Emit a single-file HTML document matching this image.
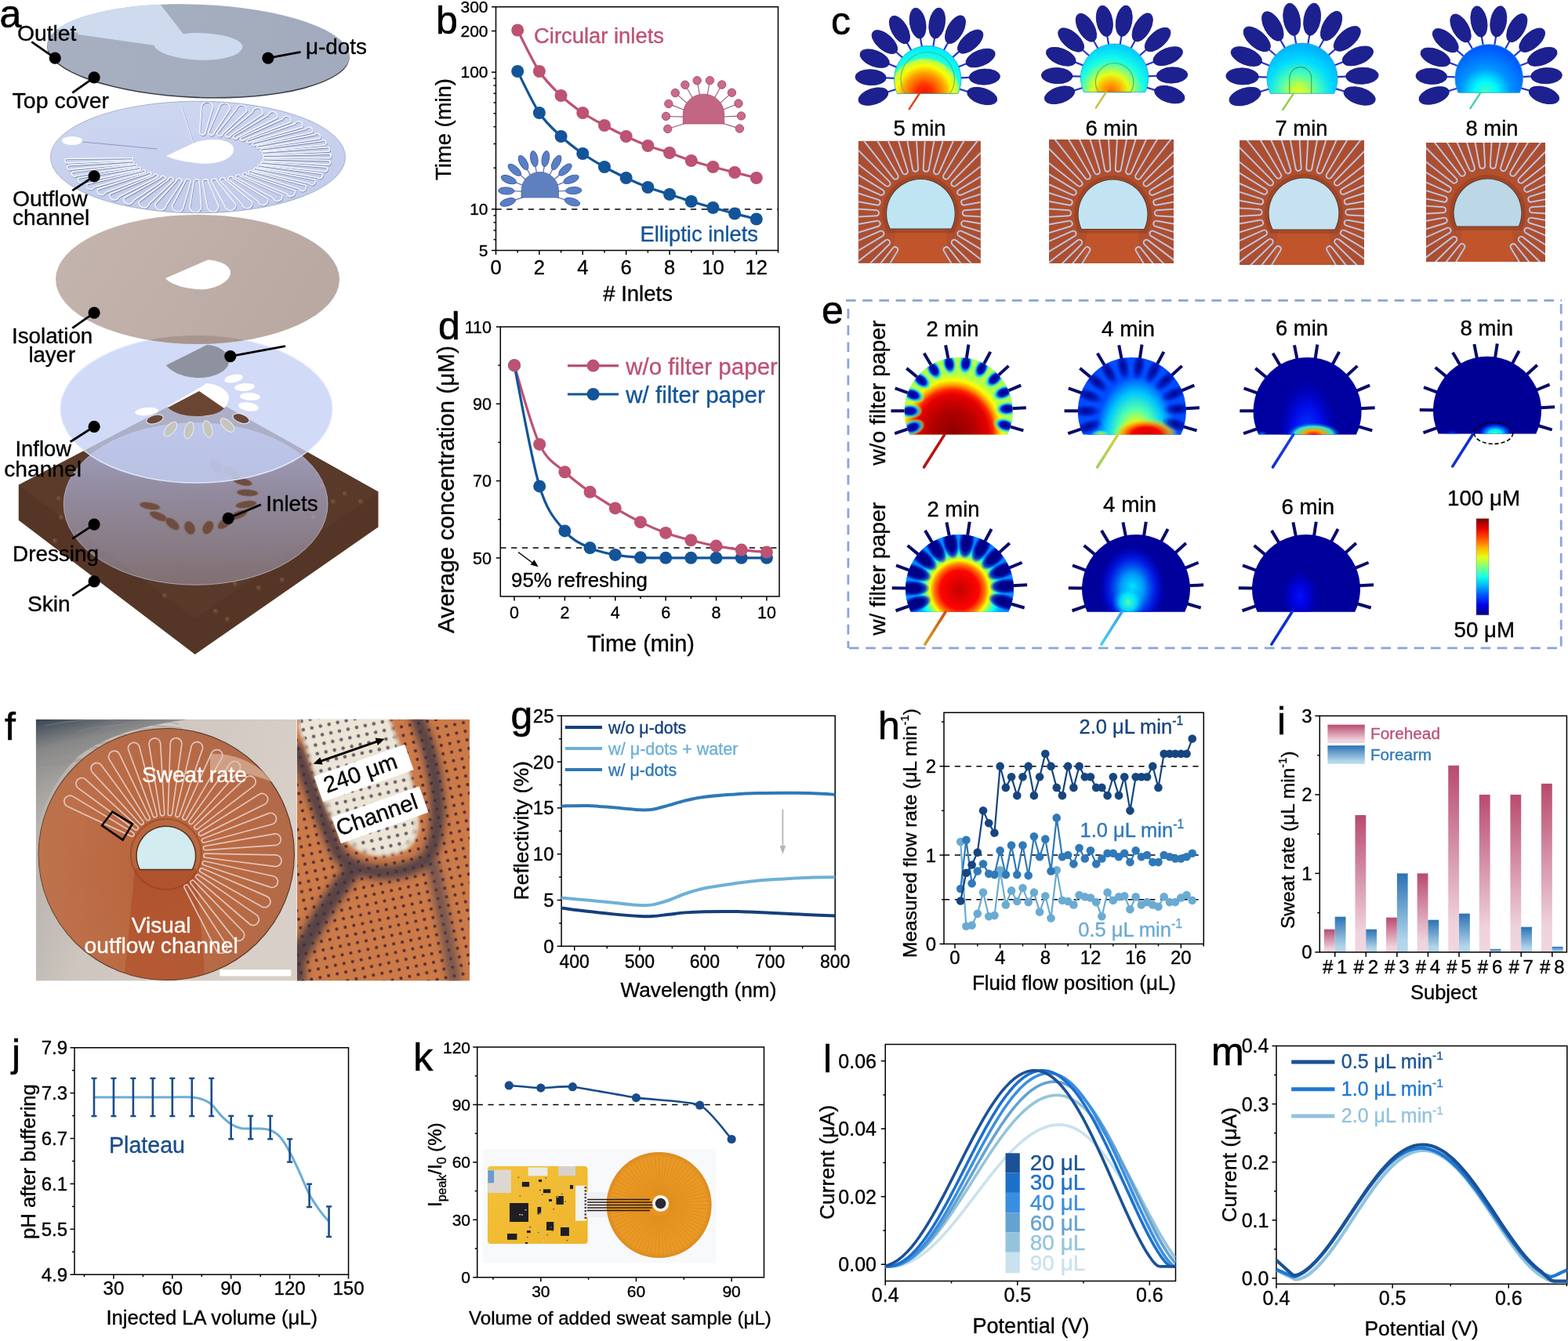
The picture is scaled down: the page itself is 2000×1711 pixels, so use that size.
<!DOCTYPE html>
<html><head><meta charset="utf-8"><style>
html,body{margin:0;padding:0;background:#fff;overflow:hidden;}
svg{display:block;}
text{font-family:'Liberation Sans', Arial, Helvetica, sans-serif;}
</style></head><body>
<svg width="2000" height="1711" viewBox="0 0 2000 1711">
<rect width="2000" height="1711" fill="#fff"/>
<line x1="920.45" y1="157.02" x2="939.58" y2="162.86" stroke="#9a5a78" stroke-width="1.1" /><circle cx="943.4" cy="164.03" r="5.2" fill="#cc6a8a" stroke="#9a4a6a" stroke-width="0.9"/><line x1="921.48" y1="148.95" x2="941.46" y2="148.08" stroke="#9a5a78" stroke-width="1.1" /><circle cx="945.45" cy="147.91" r="5.2" fill="#cc6a8a" stroke="#9a4a6a" stroke-width="0.9"/><line x1="919.75" y1="141.01" x2="938.3" y2="133.52" stroke="#9a5a78" stroke-width="1.1" /><circle cx="942" cy="132.02" r="5.2" fill="#cc6a8a" stroke="#9a4a6a" stroke-width="0.9"/><line x1="915.47" y1="134.1" x2="930.45" y2="120.84" stroke="#9a5a78" stroke-width="1.1" /><circle cx="933.45" cy="118.19" r="5.2" fill="#cc6a8a" stroke="#9a4a6a" stroke-width="0.9"/><line x1="909.14" y1="129.01" x2="918.83" y2="111.52" stroke="#9a5a78" stroke-width="1.1" /><circle cx="920.77" cy="108.02" r="5.2" fill="#cc6a8a" stroke="#9a4a6a" stroke-width="0.9"/><line x1="901.46" y1="126.33" x2="904.76" y2="106.6" stroke="#9a5a78" stroke-width="1.1" /><circle cx="905.42" cy="102.66" r="5.2" fill="#cc6a8a" stroke="#9a4a6a" stroke-width="0.9"/><line x1="893.33" y1="126.36" x2="889.86" y2="106.67" stroke="#9a5a78" stroke-width="1.1" /><circle cx="889.16" cy="102.73" r="5.2" fill="#cc6a8a" stroke="#9a4a6a" stroke-width="0.9"/><line x1="885.68" y1="129.11" x2="875.83" y2="111.7" stroke="#9a5a78" stroke-width="1.1" /><circle cx="873.86" cy="108.22" r="5.2" fill="#cc6a8a" stroke="#9a4a6a" stroke-width="0.9"/><line x1="879.39" y1="134.25" x2="864.29" y2="121.13" stroke="#9a5a78" stroke-width="1.1" /><circle cx="861.27" cy="118.51" r="5.2" fill="#cc6a8a" stroke="#9a4a6a" stroke-width="0.9"/><line x1="875.17" y1="141.2" x2="856.56" y2="133.87" stroke="#9a5a78" stroke-width="1.1" /><circle cx="852.84" cy="132.41" r="5.2" fill="#cc6a8a" stroke="#9a4a6a" stroke-width="0.9"/><line x1="873.51" y1="149.16" x2="853.53" y2="148.46" stroke="#9a5a78" stroke-width="1.1" /><circle cx="849.53" cy="148.32" r="5.2" fill="#cc6a8a" stroke="#9a4a6a" stroke-width="0.9"/><line x1="874.61" y1="157.22" x2="855.54" y2="163.23" stroke="#9a5a78" stroke-width="1.1" /><circle cx="851.72" cy="164.43" r="5.2" fill="#cc6a8a" stroke="#9a4a6a" stroke-width="0.9"/>
<path d="M871.25,158 L871.25,146.25 A26.25,26.25 0 0 1 923.75,146.25 L923.75,158 Z" fill="#c26683" stroke="#a85070" stroke-width="0.8"/>
<line x1="709.79" y1="251.43" x2="721.26" y2="254.94" stroke="#4a5a90" stroke-width="1.1" /><ellipse cx="729.87" cy="257.57" rx="10.2" ry="4.6" fill="#5a80c4" stroke="#3c5aa8" stroke-width="0.9" transform="rotate(17 729.87 257.57)"/><line x1="710.73" y1="244.04" x2="722.72" y2="243.52" stroke="#4a5a90" stroke-width="1.1" /><ellipse cx="731.71" cy="243.12" rx="10.2" ry="4.6" fill="#5a80c4" stroke="#3c5aa8" stroke-width="0.9" transform="rotate(-2.5 731.71 243.12)"/><line x1="709.15" y1="236.76" x2="720.27" y2="232.26" stroke="#4a5a90" stroke-width="1.1" /><ellipse cx="728.62" cy="228.89" rx="10.2" ry="4.6" fill="#5a80c4" stroke="#3c5aa8" stroke-width="0.9" transform="rotate(-22 728.62 228.89)"/><line x1="705.23" y1="230.42" x2="714.21" y2="222.47" stroke="#4a5a90" stroke-width="1.1" /><ellipse cx="720.96" cy="216.51" rx="10.2" ry="4.6" fill="#5a80c4" stroke="#3c5aa8" stroke-width="0.9" transform="rotate(-41.5 720.96 216.51)"/><line x1="699.42" y1="225.76" x2="705.23" y2="215.26" stroke="#4a5a90" stroke-width="1.1" /><ellipse cx="709.6" cy="207.39" rx="10.2" ry="4.6" fill="#5a80c4" stroke="#3c5aa8" stroke-width="0.9" transform="rotate(-61 709.6 207.39)"/><line x1="692.38" y1="223.3" x2="694.36" y2="211.47" stroke="#4a5a90" stroke-width="1.1" /><ellipse cx="695.85" cy="202.59" rx="10.2" ry="4.6" fill="#5a80c4" stroke="#3c5aa8" stroke-width="0.9" transform="rotate(-80.5 695.85 202.59)"/><line x1="684.93" y1="223.33" x2="682.85" y2="211.52" stroke="#4a5a90" stroke-width="1.1" /><ellipse cx="681.28" cy="202.65" rx="10.2" ry="4.6" fill="#5a80c4" stroke="#3c5aa8" stroke-width="0.9" transform="rotate(-100 681.28 202.65)"/><line x1="677.92" y1="225.85" x2="672.01" y2="215.41" stroke="#4a5a90" stroke-width="1.1" /><ellipse cx="667.58" cy="207.57" rx="10.2" ry="4.6" fill="#5a80c4" stroke="#3c5aa8" stroke-width="0.9" transform="rotate(-119.5 667.58 207.57)"/><line x1="672.15" y1="230.57" x2="663.09" y2="222.69" stroke="#4a5a90" stroke-width="1.1" /><ellipse cx="656.3" cy="216.79" rx="10.2" ry="4.6" fill="#5a80c4" stroke="#3c5aa8" stroke-width="0.9" transform="rotate(-139 656.3 216.79)"/><line x1="668.28" y1="236.94" x2="657.12" y2="232.54" stroke="#4a5a90" stroke-width="1.1" /><ellipse cx="648.74" cy="229.24" rx="10.2" ry="4.6" fill="#5a80c4" stroke="#3c5aa8" stroke-width="0.9" transform="rotate(-158.5 648.74 229.24)"/><line x1="666.76" y1="244.23" x2="654.77" y2="243.81" stroke="#4a5a90" stroke-width="1.1" /><ellipse cx="645.78" cy="243.5" rx="10.2" ry="4.6" fill="#5a80c4" stroke="#3c5aa8" stroke-width="0.9" transform="rotate(-178 645.78 243.5)"/><line x1="667.77" y1="251.62" x2="656.32" y2="255.22" stroke="#4a5a90" stroke-width="1.1" /><ellipse cx="647.74" cy="257.93" rx="10.2" ry="4.6" fill="#5a80c4" stroke="#3c5aa8" stroke-width="0.9" transform="rotate(-197.5 647.74 257.93)"/>
<path d="M665.0,252 L665.0,243.25 A23.75,23.75 0 0 1 712.5,243.25 L712.5,252 Z" fill="#5f80bf" stroke="#4a68a8" stroke-width="0.8"/>
<rect x="615.7" y="1466" width="297.7" height="145.6" fill="#f8f9fb" />
<defs><linearGradient id="pcbG" x1="0" y1="0" x2="1" y2="1"><stop offset="0" stop-color="#f4c23a"/><stop offset="1" stop-color="#eeb42c"/></linearGradient><radialGradient id="kdisc" cx="0.5" cy="0.5" r="0.5"><stop offset="0" stop-color="#e8941e"/><stop offset="0.9" stop-color="#e99a26"/><stop offset="1" stop-color="#dc8a1e"/></radialGradient></defs>
<rect x="622" y="1488" width="127.6" height="99" rx="4" fill="url(#pcbG)"/>
<rect x="622.4" y="1492.6" width="29.5" height="29.4" fill="#dcd8d0" />
<rect x="622.4" y="1493.3" width="7.7" height="16" fill="#6a9ad0" />
<rect x="673.6" y="1489.5" width="24.8" height="10.8" fill="#ecebe6" />
<rect x="712.3" y="1488" width="21.7" height="12" fill="#d6d2ca" />
<rect x="650" y="1535" width="24" height="24" fill="#1e1e24" />
<rect x="665.8" y="1508" width="9.3" height="6.2" fill="#1e1e24" />
<rect x="692.9" y="1517.4" width="9.3" height="4.7" fill="#1e1e24" />
<rect x="709.5" y="1526" width="9.3" height="10.9" fill="#1e1e24" />
<rect x="685.5" y="1540" width="4.7" height="9.3" fill="#1e1e24" />
<rect x="697" y="1559" width="9.3" height="10.9" fill="#1e1e24" />
<rect x="715" y="1566" width="10.9" height="10.9" fill="#1e1e24" />
<rect x="647" y="1574" width="12.4" height="7.8" fill="#1e1e24" />
<rect x="672" y="1570" width="4.7" height="3.1" fill="#1e1e24" />
<rect x="687" y="1505" width="4" height="3" fill="#1e1e24" />
<rect x="700" y="1530" width="4" height="3" fill="#1e1e24" />
<rect x="727" y="1512" width="4" height="5" fill="#1e1e24" />
<rect x="670" y="1585" width="3" height="2" fill="#1e1e24" />
<rect x="690.29" y="1547.02" width="2.2" height="1.4" fill="#d8c8a0" />
<rect x="690.24" y="1571.82" width="2.2" height="1.4" fill="#c8b89a" />
<rect x="669.4" y="1543" width="2.2" height="1.4" fill="#c8b89a" />
<rect x="662.34" y="1525.49" width="2.2" height="1.4" fill="#8a7040" />
<rect x="697.02" y="1574.79" width="2.2" height="1.4" fill="#8a7040" />
<rect x="701.44" y="1533.28" width="2.2" height="1.4" fill="#d8c8a0" />
<rect x="706.01" y="1551.71" width="2.2" height="1.4" fill="#c8b89a" />
<rect x="703.6" y="1569.86" width="2.2" height="1.4" fill="#8a7040" />
<rect x="659.64" y="1515.98" width="2.2" height="1.4" fill="#c8b89a" />
<rect x="701.77" y="1565.36" width="2.2" height="1.4" fill="#6a5a40" />
<rect x="689.36" y="1570.76" width="2.2" height="1.4" fill="#c8b89a" />
<rect x="704.94" y="1541.98" width="2.2" height="1.4" fill="#8a7040" />
<rect x="690.67" y="1523.37" width="2.2" height="1.4" fill="#8a7040" />
<rect x="710.21" y="1526.48" width="2.2" height="1.4" fill="#c8b89a" />
<rect x="695.01" y="1502.5" width="2.2" height="1.4" fill="#8a7040" />
<rect x="686.23" y="1571.11" width="2.2" height="1.4" fill="#d8c8a0" />
<rect x="660.21" y="1501.42" width="2.2" height="1.4" fill="#8a7040" />
<rect x="671.65" y="1577.87" width="2.2" height="1.4" fill="#8a7040" />
<rect x="691.66" y="1582.35" width="2.2" height="1.4" fill="#d8c8a0" />
<rect x="687.74" y="1547.56" width="2.2" height="1.4" fill="#c8b89a" />
<rect x="715.72" y="1522.66" width="2.2" height="1.4" fill="#8a7040" />
<rect x="679.27" y="1501.27" width="2.2" height="1.4" fill="#d8c8a0" />
<rect x="714.13" y="1509.91" width="2.2" height="1.4" fill="#c8b89a" />
<rect x="710.15" y="1500.92" width="2.2" height="1.4" fill="#d8c8a0" />
<rect x="717.17" y="1514.92" width="2.2" height="1.4" fill="#c8b89a" />
<rect x="689.9" y="1516.02" width="2.2" height="1.4" fill="#c8b89a" />
<rect x="687.7" y="1532.24" width="2.2" height="1.4" fill="#d8c8a0" />
<rect x="687.82" y="1517.88" width="2.2" height="1.4" fill="#6a5a40" />
<rect x="722.42" y="1581.89" width="2.2" height="1.4" fill="#6a5a40" />
<rect x="732.84" y="1501.65" width="2.2" height="1.4" fill="#c8b89a" />
<rect x="685.75" y="1571.77" width="2.2" height="1.4" fill="#8a7040" />
<rect x="658.28" y="1512.29" width="2.2" height="1.4" fill="#d8c8a0" />
<rect x="675.15" y="1564.91" width="2.2" height="1.4" fill="#6a5a40" />
<rect x="719.76" y="1532.44" width="2.2" height="1.4" fill="#8a7040" />
<rect x="662.03" y="1548.95" width="2.2" height="1.4" fill="#c8b89a" />
<rect x="656.21" y="1530.97" width="2.2" height="1.4" fill="#d8c8a0" />
<rect x="664.92" y="1549.33" width="2.2" height="1.4" fill="#c8b89a" />
<rect x="722.59" y="1515.36" width="2.2" height="1.4" fill="#c8b89a" />
<rect x="679.24" y="1519.18" width="2.2" height="1.4" fill="#c8b89a" />
<rect x="711.58" y="1513.31" width="2.2" height="1.4" fill="#c8b89a" />
<rect x="734" y="1512.7" width="14" height="45" fill="#f2f2f0" />
<rect x="745.5" y="1514" width="2.5" height="2.2" fill="#404040" />
<rect x="745.5" y="1518.3" width="2.5" height="2.2" fill="#404040" />
<rect x="745.5" y="1522.6" width="2.5" height="2.2" fill="#404040" />
<rect x="745.5" y="1526.9" width="2.5" height="2.2" fill="#404040" />
<rect x="745.5" y="1531.2" width="2.5" height="2.2" fill="#404040" />
<rect x="745.5" y="1535.5" width="2.5" height="2.2" fill="#404040" />
<rect x="745.5" y="1539.8" width="2.5" height="2.2" fill="#404040" />
<rect x="745.5" y="1544.1" width="2.5" height="2.2" fill="#404040" />
<rect x="745.5" y="1548.4" width="2.5" height="2.2" fill="#404040" />
<rect x="745.5" y="1552.7" width="2.5" height="2.2" fill="#404040" />
<rect x="748" y="1521" width="62" height="32" fill="#eef1f6" />
<ellipse cx="840.6" cy="1537.5" rx="67" ry="67.6" fill="url(#kdisc)"/>
<path d="M854.6,1537.5 L904.6,1537.5 M854.55,1538.72 L904.36,1543.08 M854.39,1539.93 L903.63,1548.61 M854.12,1541.12 L902.42,1554.06 M853.76,1542.29 L900.74,1559.39 M853.29,1543.42 L898.6,1564.55 M852.72,1544.5 L896.03,1569.5 M852.07,1545.53 L893.03,1574.21 M851.32,1546.5 L889.63,1578.64 M850.5,1547.4 L885.85,1582.75 M849.6,1548.22 L881.74,1586.53 M848.63,1548.97 L877.31,1589.93 M847.6,1549.62 L872.6,1592.93 M846.52,1550.19 L867.65,1595.5 M845.39,1550.66 L862.49,1597.64 M844.22,1551.02 L857.16,1599.32 M843.03,1551.29 L851.71,1600.53 M841.82,1551.45 L846.18,1601.26 M840.6,1551.5 L840.6,1601.5 M839.38,1551.45 L835.02,1601.26 M838.17,1551.29 L829.49,1600.53 M836.98,1551.02 L824.04,1599.32 M835.81,1550.66 L818.71,1597.64 M834.68,1550.19 L813.55,1595.5 M833.6,1549.62 L808.6,1592.93 M832.57,1548.97 L803.89,1589.93 M831.6,1548.22 L799.46,1586.53 M830.7,1547.4 L795.35,1582.75 M829.88,1546.5 L791.57,1578.64 M829.13,1545.53 L788.17,1574.21 M828.48,1544.5 L785.17,1569.5 M827.91,1543.42 L782.6,1564.55 M827.44,1542.29 L780.46,1559.39 M827.08,1541.12 L778.78,1554.06 M826.81,1539.93 L777.57,1548.61 M826.65,1538.72 L776.84,1543.08 M826.6,1537.5 L776.6,1537.5 M826.65,1536.28 L776.84,1531.92 M826.81,1535.07 L777.57,1526.39 M827.08,1533.88 L778.78,1520.94 M827.44,1532.71 L780.46,1515.61 M827.91,1531.58 L782.6,1510.45 M828.48,1530.5 L785.17,1505.5 M829.13,1529.47 L788.17,1500.79 M829.88,1528.5 L791.57,1496.36 M830.7,1527.6 L795.35,1492.25 M831.6,1526.78 L799.46,1488.47 M832.57,1526.03 L803.89,1485.07 M833.6,1525.38 L808.6,1482.07 M834.68,1524.81 L813.55,1479.5 M835.81,1524.34 L818.71,1477.36 M836.98,1523.98 L824.04,1475.68 M838.17,1523.71 L829.49,1474.47 M839.38,1523.55 L835.02,1473.74 M840.6,1523.5 L840.6,1473.5 M841.82,1523.55 L846.18,1473.74 M843.03,1523.71 L851.71,1474.47 M844.22,1523.98 L857.16,1475.68 M845.39,1524.34 L862.49,1477.36 M846.52,1524.81 L867.65,1479.5 M847.6,1525.38 L872.6,1482.07 M848.63,1526.03 L877.31,1485.07 M849.6,1526.78 L881.74,1488.47 M850.5,1527.6 L885.85,1492.25 M851.32,1528.5 L889.63,1496.36 M852.07,1529.47 L893.03,1500.79 M852.72,1530.5 L896.03,1505.5 M853.29,1531.58 L898.6,1510.45 M853.76,1532.71 L900.74,1515.61 M854.12,1533.88 L902.42,1520.94 M854.39,1535.07 L903.63,1526.39 M854.55,1536.28 L904.36,1531.92" stroke="#c87414" stroke-width="0.6" fill="none" opacity="0.55"/>
<line x1="749" y1="1530.5" x2="829" y2="1530.5" stroke="#2a1a10" stroke-width="1.3" />
<line x1="749" y1="1534" x2="831.5" y2="1534" stroke="#2a1a10" stroke-width="1.3" />
<line x1="749" y1="1537.5" x2="834" y2="1537.5" stroke="#2a1a10" stroke-width="1.3" />
<line x1="749" y1="1541" x2="831.5" y2="1541" stroke="#2a1a10" stroke-width="1.3" />
<line x1="749" y1="1544.5" x2="829" y2="1544.5" stroke="#2a1a10" stroke-width="1.3" />
<circle cx="842.6" cy="1535.5" r="10.5" fill="#f6f6f4" />
<circle cx="842.6" cy="1535.5" r="6.8" fill="#2a2a34" />
<line x1="632.5" y1="266.8919492886787" x2="992.5" y2="266.8919492886787" stroke="#000" stroke-width="1.5" stroke-dasharray="7.2,6.6"/>
<rect x="632.5" y="8.75" width="360" height="310.75" fill="none" stroke="#000" stroke-width="1.5"/>
<line x1="632.5" y1="319.5" x2="632.5" y2="325" stroke="#000" stroke-width="1.5" />
<text x="632.5" y="349.6" font-size="25.5" text-anchor="middle" fill="#000"  stroke="#000" stroke-width="0.35">0</text>
<line x1="687.88" y1="319.5" x2="687.88" y2="325" stroke="#000" stroke-width="1.5" />
<text x="687.88" y="349.6" font-size="25.5" text-anchor="middle" fill="#000"  stroke="#000" stroke-width="0.35">2</text>
<line x1="743.27" y1="319.5" x2="743.27" y2="325" stroke="#000" stroke-width="1.5" />
<text x="743.27" y="349.6" font-size="25.5" text-anchor="middle" fill="#000"  stroke="#000" stroke-width="0.35">4</text>
<line x1="798.65" y1="319.5" x2="798.65" y2="325" stroke="#000" stroke-width="1.5" />
<text x="798.65" y="349.6" font-size="25.5" text-anchor="middle" fill="#000"  stroke="#000" stroke-width="0.35">6</text>
<line x1="854.04" y1="319.5" x2="854.04" y2="325" stroke="#000" stroke-width="1.5" />
<text x="854.04" y="349.6" font-size="25.5" text-anchor="middle" fill="#000"  stroke="#000" stroke-width="0.35">8</text>
<line x1="909.42" y1="319.5" x2="909.42" y2="325" stroke="#000" stroke-width="1.5" />
<text x="909.42" y="349.6" font-size="25.5" text-anchor="middle" fill="#000"  stroke="#000" stroke-width="0.35">10</text>
<line x1="964.81" y1="319.5" x2="964.81" y2="325" stroke="#000" stroke-width="1.5" />
<text x="964.81" y="349.6" font-size="25.5" text-anchor="middle" fill="#000"  stroke="#000" stroke-width="0.35">12</text>
<line x1="660.19" y1="319.5" x2="660.19" y2="322.5" stroke="#000" stroke-width="1.5" />
<line x1="715.58" y1="319.5" x2="715.58" y2="322.5" stroke="#000" stroke-width="1.5" />
<line x1="770.96" y1="319.5" x2="770.96" y2="322.5" stroke="#000" stroke-width="1.5" />
<line x1="826.35" y1="319.5" x2="826.35" y2="322.5" stroke="#000" stroke-width="1.5" />
<line x1="881.73" y1="319.5" x2="881.73" y2="322.5" stroke="#000" stroke-width="1.5" />
<line x1="937.12" y1="319.5" x2="937.12" y2="322.5" stroke="#000" stroke-width="1.5" />
<line x1="992.5" y1="319.5" x2="992.5" y2="322.5" stroke="#000" stroke-width="1.5" />
<line x1="627" y1="319.5" x2="632.5" y2="319.5" stroke="#000" stroke-width="1.5" />
<line x1="627" y1="266.89" x2="632.5" y2="266.89" stroke="#000" stroke-width="1.5" />
<line x1="627" y1="92.13" x2="632.5" y2="92.13" stroke="#000" stroke-width="1.5" />
<line x1="627" y1="39.52" x2="632.5" y2="39.52" stroke="#000" stroke-width="1.5" />
<line x1="627" y1="8.75" x2="632.5" y2="8.75" stroke="#000" stroke-width="1.5" />
<line x1="629.5" y1="305.66" x2="632.5" y2="305.66" stroke="#000" stroke-width="1.5" />
<line x1="629.5" y1="293.96" x2="632.5" y2="293.96" stroke="#000" stroke-width="1.5" />
<line x1="629.5" y1="283.83" x2="632.5" y2="283.83" stroke="#000" stroke-width="1.5" />
<line x1="629.5" y1="274.89" x2="632.5" y2="274.89" stroke="#000" stroke-width="1.5" />
<line x1="629.5" y1="214.28" x2="632.5" y2="214.28" stroke="#000" stroke-width="1.5" />
<line x1="629.5" y1="183.51" x2="632.5" y2="183.51" stroke="#000" stroke-width="1.5" />
<line x1="629.5" y1="161.68" x2="632.5" y2="161.68" stroke="#000" stroke-width="1.5" />
<line x1="629.5" y1="144.74" x2="632.5" y2="144.74" stroke="#000" stroke-width="1.5" />
<line x1="629.5" y1="130.9" x2="632.5" y2="130.9" stroke="#000" stroke-width="1.5" />
<line x1="629.5" y1="119.2" x2="632.5" y2="119.2" stroke="#000" stroke-width="1.5" />
<line x1="629.5" y1="109.07" x2="632.5" y2="109.07" stroke="#000" stroke-width="1.5" />
<line x1="629.5" y1="100.13" x2="632.5" y2="100.13" stroke="#000" stroke-width="1.5" />
<text x="622.5" y="326.7" font-size="21" text-anchor="end" fill="#000"  stroke="#000" stroke-width="0.35">5</text>
<text x="622.5" y="274.09" font-size="21" text-anchor="end" fill="#000"  stroke="#000" stroke-width="0.35">10</text>
<text x="622.5" y="99.33" font-size="21" text-anchor="end" fill="#000"  stroke="#000" stroke-width="0.35">100</text>
<text x="622.5" y="46.72" font-size="21" text-anchor="end" fill="#000"  stroke="#000" stroke-width="0.35">200</text>
<text x="622.5" y="15.95" font-size="21" text-anchor="end" fill="#000"  stroke="#000" stroke-width="0.35">300</text>
<path d="M660.19,38.5 C664.81,47.25 678.65,77.08 687.88,91 C697.12,104.92 706.35,113.17 715.58,122 C724.81,130.83 734.04,137.67 743.27,144 C752.5,150.33 761.73,155 770.96,160 C780.19,165 789.42,169.67 798.65,174 C807.88,178.33 817.12,182.5 826.35,186 C835.58,189.5 844.81,191.83 854.04,195 C863.27,198.17 872.5,202 881.73,205 C890.96,208 900.19,210.5 909.42,213 C918.65,215.5 927.88,217.67 937.12,220 C946.35,222.33 960.19,225.83 964.81,227" stroke="#bd5272" stroke-width="3.2" fill="none" stroke-linejoin="round" />
<path d="M660.19,91 C664.81,99.83 678.65,130.17 687.88,144 C697.12,157.83 706.35,165.33 715.58,174 C724.81,182.67 734.04,189.5 743.27,196 C752.5,202.5 761.73,207.83 770.96,213 C780.19,218.17 789.42,222.67 798.65,227 C807.88,231.33 817.12,235.5 826.35,239 C835.58,242.5 844.81,245 854.04,248 C863.27,251 872.5,254.17 881.73,257 C890.96,259.83 900.19,262.42 909.42,265 C918.65,267.58 927.88,270.08 937.12,272.5 C946.35,274.92 960.19,278.33 964.81,279.5" stroke="#135499" stroke-width="3.2" fill="none" stroke-linejoin="round" />
<circle cx="660.19" cy="38.5" r="8" fill="#bd5272" />
<circle cx="687.88" cy="91" r="8" fill="#bd5272" />
<circle cx="715.58" cy="122" r="8" fill="#bd5272" />
<circle cx="743.27" cy="144" r="8" fill="#bd5272" />
<circle cx="770.96" cy="160" r="8" fill="#bd5272" />
<circle cx="798.65" cy="174" r="8" fill="#bd5272" />
<circle cx="826.35" cy="186" r="8" fill="#bd5272" />
<circle cx="854.04" cy="195" r="8" fill="#bd5272" />
<circle cx="881.73" cy="205" r="8" fill="#bd5272" />
<circle cx="909.42" cy="213" r="8" fill="#bd5272" />
<circle cx="937.12" cy="220" r="8" fill="#bd5272" />
<circle cx="964.81" cy="227" r="8" fill="#bd5272" />
<circle cx="660.19" cy="91" r="8" fill="#135499" />
<circle cx="687.88" cy="144" r="8" fill="#135499" />
<circle cx="715.58" cy="174" r="8" fill="#135499" />
<circle cx="743.27" cy="196" r="8" fill="#135499" />
<circle cx="770.96" cy="213" r="8" fill="#135499" />
<circle cx="798.65" cy="227" r="8" fill="#135499" />
<circle cx="826.35" cy="239" r="8" fill="#135499" />
<circle cx="854.04" cy="248" r="8" fill="#135499" />
<circle cx="881.73" cy="257" r="8" fill="#135499" />
<circle cx="909.42" cy="265" r="8" fill="#135499" />
<circle cx="937.12" cy="272.5" r="8" fill="#135499" />
<circle cx="964.81" cy="279.5" r="8" fill="#135499" />
<text x="681" y="55" font-size="27.42" fill="#bd5272"  stroke="#bd5272" stroke-width="0.35">Circular inlets</text>
<text x="816.5" y="307.5" font-size="27.36" fill="#135499"  stroke="#135499" stroke-width="0.35">Elliptic inlets</text>
<text x="769.2" y="384" font-size="27.53" fill="#000"  stroke="#000" stroke-width="0.35"># Inlets</text>
<text transform="translate(575,230) rotate(-90)" font-size="27.43" fill="#000" stroke="#000" stroke-width="0.35">Time (min)</text>
<text x="556" y="42.5" font-size="50" fill="#000" stroke="#000" stroke-width="0.6">b</text>
<line x1="638.3" y1="699.1" x2="994" y2="699.1" stroke="#000" stroke-width="1.5" stroke-dasharray="7.2,6.6"/>
<rect x="638.3" y="417" width="355.7" height="344" fill="none" stroke="#000" stroke-width="1.5"/>
<line x1="656" y1="761" x2="656" y2="766.5" stroke="#000" stroke-width="1.5" />
<text x="656" y="788.5" font-size="21.5" text-anchor="middle" fill="#000"  stroke="#000" stroke-width="0.35">0</text>
<line x1="720.38" y1="761" x2="720.38" y2="766.5" stroke="#000" stroke-width="1.5" />
<text x="720.38" y="788.5" font-size="21.5" text-anchor="middle" fill="#000"  stroke="#000" stroke-width="0.35">2</text>
<line x1="784.76" y1="761" x2="784.76" y2="766.5" stroke="#000" stroke-width="1.5" />
<text x="784.76" y="788.5" font-size="21.5" text-anchor="middle" fill="#000"  stroke="#000" stroke-width="0.35">4</text>
<line x1="849.14" y1="761" x2="849.14" y2="766.5" stroke="#000" stroke-width="1.5" />
<text x="849.14" y="788.5" font-size="21.5" text-anchor="middle" fill="#000"  stroke="#000" stroke-width="0.35">6</text>
<line x1="913.52" y1="761" x2="913.52" y2="766.5" stroke="#000" stroke-width="1.5" />
<text x="913.52" y="788.5" font-size="21.5" text-anchor="middle" fill="#000"  stroke="#000" stroke-width="0.35">8</text>
<line x1="977.9" y1="761" x2="977.9" y2="766.5" stroke="#000" stroke-width="1.5" />
<text x="977.9" y="788.5" font-size="21.5" text-anchor="middle" fill="#000"  stroke="#000" stroke-width="0.35">10</text>
<line x1="688.19" y1="761" x2="688.19" y2="764" stroke="#000" stroke-width="1.5" />
<line x1="752.57" y1="761" x2="752.57" y2="764" stroke="#000" stroke-width="1.5" />
<line x1="816.95" y1="761" x2="816.95" y2="764" stroke="#000" stroke-width="1.5" />
<line x1="881.33" y1="761" x2="881.33" y2="764" stroke="#000" stroke-width="1.5" />
<line x1="945.71" y1="761" x2="945.71" y2="764" stroke="#000" stroke-width="1.5" />
<line x1="632.8" y1="711.86" x2="638.3" y2="711.86" stroke="#000" stroke-width="1.5" />
<text x="627" y="719.55" font-size="21.5" text-anchor="end" fill="#000"  stroke="#000" stroke-width="0.35">50</text>
<line x1="632.8" y1="613.57" x2="638.3" y2="613.57" stroke="#000" stroke-width="1.5" />
<text x="627" y="621.27" font-size="21.5" text-anchor="end" fill="#000"  stroke="#000" stroke-width="0.35">70</text>
<line x1="632.8" y1="515.29" x2="638.3" y2="515.29" stroke="#000" stroke-width="1.5" />
<text x="627" y="522.98" font-size="21.5" text-anchor="end" fill="#000"  stroke="#000" stroke-width="0.35">90</text>
<line x1="632.8" y1="417" x2="638.3" y2="417" stroke="#000" stroke-width="1.5" />
<text x="627" y="424.7" font-size="21.5" text-anchor="end" fill="#000"  stroke="#000" stroke-width="0.35">110</text>
<line x1="635.3" y1="662.71" x2="638.3" y2="662.71" stroke="#000" stroke-width="1.5" />
<line x1="635.3" y1="564.43" x2="638.3" y2="564.43" stroke="#000" stroke-width="1.5" />
<line x1="635.3" y1="466.14" x2="638.3" y2="466.14" stroke="#000" stroke-width="1.5" />
<path d="M656,466.14 C661.37,482.93 677.46,544.2 688.19,566.89 C698.92,589.57 709.65,592.11 720.38,602.27 C731.11,612.42 741.84,620.12 752.57,627.82 C763.3,635.52 774.03,642.07 784.76,648.46 C795.49,654.85 806.22,660.91 816.95,666.15 C827.68,671.4 838.41,676.06 849.14,679.91 C859.87,683.76 870.6,686.47 881.33,689.25 C892.06,692.04 902.79,694.58 913.52,696.62 C924.25,698.67 934.98,700.23 945.71,701.54 C956.44,702.85 972.54,703.99 977.9,704.49" stroke="#bd5272" stroke-width="3.2" fill="none" stroke-linejoin="round" />
<path d="M656,466.14 C661.37,491.86 677.46,585.23 688.19,620.45 C698.92,655.67 709.65,664.35 720.38,677.46 C731.11,690.56 741.84,694 752.57,699.08 C763.3,704.16 774.03,705.88 784.76,707.93 C795.49,709.97 806.22,710.71 816.95,711.37 C827.68,712.02 838.41,711.78 849.14,711.86 C859.87,711.94 870.6,711.86 881.33,711.86 C892.06,711.86 902.79,711.86 913.52,711.86 C924.25,711.86 934.98,711.86 945.71,711.86 C956.44,711.86 972.54,711.86 977.9,711.86" stroke="#135499" stroke-width="3.2" fill="none" stroke-linejoin="round" />
<circle cx="656" cy="466.14" r="8" fill="#135499" />
<circle cx="688.19" cy="620.45" r="8" fill="#135499" />
<circle cx="720.38" cy="677.46" r="8" fill="#135499" />
<circle cx="752.57" cy="699.08" r="8" fill="#135499" />
<circle cx="784.76" cy="707.93" r="8" fill="#135499" />
<circle cx="816.95" cy="711.37" r="8" fill="#135499" />
<circle cx="849.14" cy="711.86" r="8" fill="#135499" />
<circle cx="881.33" cy="711.86" r="8" fill="#135499" />
<circle cx="913.52" cy="711.86" r="8" fill="#135499" />
<circle cx="945.71" cy="711.86" r="8" fill="#135499" />
<circle cx="977.9" cy="711.86" r="8" fill="#135499" />
<circle cx="656" cy="466.14" r="8" fill="#bd5272" />
<circle cx="688.19" cy="566.89" r="8" fill="#bd5272" />
<circle cx="720.38" cy="602.27" r="8" fill="#bd5272" />
<circle cx="752.57" cy="627.82" r="8" fill="#bd5272" />
<circle cx="784.76" cy="648.46" r="8" fill="#bd5272" />
<circle cx="816.95" cy="666.15" r="8" fill="#bd5272" />
<circle cx="849.14" cy="679.91" r="8" fill="#bd5272" />
<circle cx="881.33" cy="689.25" r="8" fill="#bd5272" />
<circle cx="913.52" cy="696.62" r="8" fill="#bd5272" />
<circle cx="945.71" cy="701.54" r="8" fill="#bd5272" />
<circle cx="977.9" cy="704.49" r="8" fill="#bd5272" />
<line x1="724" y1="466.6" x2="789" y2="466.6" stroke="#bd5272" stroke-width="3.2" />
<circle cx="756.6" cy="466.6" r="8" fill="#bd5272" />
<line x1="724" y1="503" x2="789" y2="503" stroke="#135499" stroke-width="3.2" />
<circle cx="756.6" cy="503" r="8" fill="#135499" />
<text x="798.15" y="477.5" font-size="29.55" fill="#bd5272"  stroke="#bd5272" stroke-width="0.35">w/o filter paper</text>
<text x="798.15" y="514" font-size="29.62" fill="#135499"  stroke="#135499" stroke-width="0.35">w/ filter paper</text>
<text x="652" y="749" font-size="25.87" fill="#000"  stroke="#000" stroke-width="0.35">95% refreshing</text>
<line x1="661" y1="704.5" x2="681" y2="719.5" stroke="#000" stroke-width="1.5" />
<path d="M686.7,723.3 L676.5,720.5 L681.5,714.2 Z" fill="#000"/>
<text x="749" y="831" font-size="28.9" fill="#000"  stroke="#000" stroke-width="0.35">Time (min)</text>
<text transform="translate(579,808) rotate(-90)" font-size="29.74" fill="#000" stroke="#000" stroke-width="0.35">Average concentration (μM)</text>
<text x="559" y="432.5" font-size="50" fill="#000" stroke="#000" stroke-width="0.6">d</text>
<rect x="716.1" y="913.3" width="349.1" height="294" fill="none" stroke="#000" stroke-width="1.5"/>
<line x1="732.72" y1="1207.3" x2="732.72" y2="1212.8" stroke="#000" stroke-width="1.5" />
<line x1="815.84" y1="1207.3" x2="815.84" y2="1212.8" stroke="#000" stroke-width="1.5" />
<line x1="898.96" y1="1207.3" x2="898.96" y2="1212.8" stroke="#000" stroke-width="1.5" />
<line x1="982.08" y1="1207.3" x2="982.08" y2="1212.8" stroke="#000" stroke-width="1.5" />
<line x1="1065.2" y1="1207.3" x2="1065.2" y2="1212.8" stroke="#000" stroke-width="1.5" />
<line x1="774.28" y1="1207.3" x2="774.28" y2="1210.3" stroke="#000" stroke-width="1.5" />
<line x1="857.4" y1="1207.3" x2="857.4" y2="1210.3" stroke="#000" stroke-width="1.5" />
<line x1="940.52" y1="1207.3" x2="940.52" y2="1210.3" stroke="#000" stroke-width="1.5" />
<line x1="1023.64" y1="1207.3" x2="1023.64" y2="1210.3" stroke="#000" stroke-width="1.5" />
<line x1="710.6" y1="1207.3" x2="716.1" y2="1207.3" stroke="#000" stroke-width="1.5" />
<text x="706.5" y="1215.89" font-size="24" text-anchor="end" fill="#000"  stroke="#000" stroke-width="0.35">0</text>
<line x1="710.6" y1="1148.5" x2="716.1" y2="1148.5" stroke="#000" stroke-width="1.5" />
<text x="706.5" y="1157.09" font-size="24" text-anchor="end" fill="#000"  stroke="#000" stroke-width="0.35">5</text>
<line x1="710.6" y1="1089.7" x2="716.1" y2="1089.7" stroke="#000" stroke-width="1.5" />
<text x="706.5" y="1098.29" font-size="24" text-anchor="end" fill="#000"  stroke="#000" stroke-width="0.35">10</text>
<line x1="710.6" y1="1030.9" x2="716.1" y2="1030.9" stroke="#000" stroke-width="1.5" />
<text x="706.5" y="1039.49" font-size="24" text-anchor="end" fill="#000"  stroke="#000" stroke-width="0.35">15</text>
<line x1="710.6" y1="972.1" x2="716.1" y2="972.1" stroke="#000" stroke-width="1.5" />
<text x="706.5" y="980.69" font-size="24" text-anchor="end" fill="#000"  stroke="#000" stroke-width="0.35">20</text>
<line x1="710.6" y1="913.3" x2="716.1" y2="913.3" stroke="#000" stroke-width="1.5" />
<text x="706.5" y="921.89" font-size="24" text-anchor="end" fill="#000"  stroke="#000" stroke-width="0.35">25</text>
<line x1="713.1" y1="1177.9" x2="716.1" y2="1177.9" stroke="#000" stroke-width="1.5" />
<line x1="713.1" y1="1119.1" x2="716.1" y2="1119.1" stroke="#000" stroke-width="1.5" />
<line x1="713.1" y1="1060.3" x2="716.1" y2="1060.3" stroke="#000" stroke-width="1.5" />
<line x1="713.1" y1="1001.5" x2="716.1" y2="1001.5" stroke="#000" stroke-width="1.5" />
<line x1="713.1" y1="942.7" x2="716.1" y2="942.7" stroke="#000" stroke-width="1.5" />
<text x="732.72" y="1234.5" font-size="23" text-anchor="middle" fill="#000"  stroke="#000" stroke-width="0.35">400</text>
<text x="815.84" y="1234.5" font-size="23" text-anchor="middle" fill="#000"  stroke="#000" stroke-width="0.35">500</text>
<text x="898.96" y="1234.5" font-size="23" text-anchor="middle" fill="#000"  stroke="#000" stroke-width="0.35">600</text>
<text x="982.08" y="1234.5" font-size="23" text-anchor="middle" fill="#000"  stroke="#000" stroke-width="0.35">700</text>
<text x="1065.2" y="1234.5" font-size="23" text-anchor="middle" fill="#000"  stroke="#000" stroke-width="0.35">800</text>
<path d="M716.1,1158.5 C721.64,1159.22 738.27,1161.53 749.35,1162.85 C760.43,1164.16 771.51,1165.34 782.6,1166.38 C793.68,1167.41 807.53,1168.63 815.84,1169.08 C824.15,1169.53 826.23,1169.47 832.47,1169.08 C838.7,1168.69 846.32,1167.51 853.25,1166.73 C860.17,1165.94 866.41,1164.96 874.03,1164.38 C881.65,1163.79 887.88,1163.42 898.96,1163.2 C910.04,1162.98 926.67,1162.83 940.52,1163.08 C954.37,1163.34 968.23,1164.12 982.08,1164.73 C995.93,1165.34 1009.79,1166.1 1023.64,1166.73 C1037.49,1167.36 1058.27,1168.2 1065.2,1168.49" stroke="#153f7c" stroke-width="4" fill="none" stroke-linejoin="round" />
<path d="M716.1,1145.56 C721.64,1146.05 738.27,1147.46 749.35,1148.5 C760.43,1149.54 771.51,1150.71 782.6,1151.79 C793.68,1152.87 807.53,1154.54 815.84,1154.97 C824.15,1155.4 826.23,1155.46 832.47,1154.38 C838.7,1153.3 846.32,1150.85 853.25,1148.5 C860.17,1146.15 866.41,1142.82 874.03,1140.27 C881.65,1137.72 889.26,1135.27 898.96,1133.21 C908.66,1131.15 921.13,1129.49 932.21,1127.92 C943.29,1126.35 954.37,1124.88 965.46,1123.8 C976.54,1122.73 987.62,1122.14 998.7,1121.45 C1009.79,1120.77 1020.87,1120.04 1031.95,1119.69 C1043.03,1119.34 1059.66,1119.39 1065.2,1119.34" stroke="#6eb0d8" stroke-width="4" fill="none" stroke-linejoin="round" />
<path d="M716.1,1028.55 C721.64,1028.45 738.27,1027.67 749.35,1027.96 C760.43,1028.25 771.51,1029.43 782.6,1030.31 C793.68,1031.19 807.53,1032.86 815.84,1033.25 C824.15,1033.64 826.23,1033.64 832.47,1032.66 C838.7,1031.68 846.32,1029.23 853.25,1027.37 C860.17,1025.51 866.41,1023.26 874.03,1021.49 C881.65,1019.73 889.26,1018.06 898.96,1016.79 C908.66,1015.51 921.13,1014.63 932.21,1013.85 C943.29,1013.06 951.6,1012.42 965.46,1012.08 C979.31,1011.75 1001.48,1011.75 1015.33,1011.85 C1029.18,1011.95 1040.26,1012.34 1048.58,1012.67 C1056.89,1013.01 1062.43,1013.65 1065.2,1013.85" stroke="#2f78b8" stroke-width="4" fill="none" stroke-linejoin="round" />
<line x1="720.8" y1="928" x2="768" y2="928" stroke="#153f7c" stroke-width="4.2" />
<line x1="720.8" y1="955" x2="768" y2="955" stroke="#6eb0d8" stroke-width="4.2" />
<line x1="720.8" y1="982" x2="768" y2="982" stroke="#2f78b8" stroke-width="4.2" />
<text x="776.11" y="935.5" font-size="21.42" fill="#153f7c"  stroke="#153f7c" stroke-width="0.35">w/o μ-dots</text>
<text x="776.11" y="962.5" font-size="21.6" fill="#6eb0d8"  stroke="#6eb0d8" stroke-width="0.35">w/ μ-dots + water</text>
<text x="776.11" y="989.5" font-size="21.37" fill="#2f78b8"  stroke="#2f78b8" stroke-width="0.35">w/ μ-dots</text>
<line x1="998.4" y1="1033" x2="998.4" y2="1082" stroke="#b4b4b4" stroke-width="1.8" />
<path d="M994.6,1079 L1002.2,1079 L998.4,1090 Z" fill="#b4b4b4"/>
<text x="791.4" y="1272.4" font-size="26.27" fill="#000"  stroke="#000" stroke-width="0.35">Wavelength (nm)</text>
<text transform="translate(674.2,1148.6) rotate(-90)" font-size="26.63" fill="#000" stroke="#000" stroke-width="0.35">Reflectivity (%)</text>
<text x="651.6" y="930" font-size="50" fill="#000" stroke="#000" stroke-width="0.6">g</text>
<line x1="1204" y1="1147.72" x2="1535.3" y2="1147.72" stroke="#000" stroke-width="1.5" stroke-dasharray="7.2,6.6"/>
<line x1="1204" y1="1091.04" x2="1535.3" y2="1091.04" stroke="#000" stroke-width="1.5" stroke-dasharray="7.2,6.6"/>
<line x1="1204" y1="977.67" x2="1535.3" y2="977.67" stroke="#000" stroke-width="1.5" stroke-dasharray="7.2,6.6"/>
<rect x="1204" y="909.2" width="331.3" height="295.2" fill="none" stroke="#000" stroke-width="1.5"/>
<line x1="1217.98" y1="1204.4" x2="1217.98" y2="1209.9" stroke="#000" stroke-width="1.5" />
<text x="1217.98" y="1230" font-size="24" text-anchor="middle" fill="#000"  stroke="#000" stroke-width="0.35">0</text>
<line x1="1275.65" y1="1204.4" x2="1275.65" y2="1209.9" stroke="#000" stroke-width="1.5" />
<text x="1275.65" y="1230" font-size="24" text-anchor="middle" fill="#000"  stroke="#000" stroke-width="0.35">4</text>
<line x1="1333.32" y1="1204.4" x2="1333.32" y2="1209.9" stroke="#000" stroke-width="1.5" />
<text x="1333.32" y="1230" font-size="24" text-anchor="middle" fill="#000"  stroke="#000" stroke-width="0.35">8</text>
<line x1="1390.99" y1="1204.4" x2="1390.99" y2="1209.9" stroke="#000" stroke-width="1.5" />
<text x="1390.99" y="1230" font-size="24" text-anchor="middle" fill="#000"  stroke="#000" stroke-width="0.35">12</text>
<line x1="1448.65" y1="1204.4" x2="1448.65" y2="1209.9" stroke="#000" stroke-width="1.5" />
<text x="1448.65" y="1230" font-size="24" text-anchor="middle" fill="#000"  stroke="#000" stroke-width="0.35">16</text>
<line x1="1506.32" y1="1204.4" x2="1506.32" y2="1209.9" stroke="#000" stroke-width="1.5" />
<text x="1506.32" y="1230" font-size="24" text-anchor="middle" fill="#000"  stroke="#000" stroke-width="0.35">20</text>
<line x1="1246.82" y1="1204.4" x2="1246.82" y2="1207.4" stroke="#000" stroke-width="1.5" />
<line x1="1304.49" y1="1204.4" x2="1304.49" y2="1207.4" stroke="#000" stroke-width="1.5" />
<line x1="1362.15" y1="1204.4" x2="1362.15" y2="1207.4" stroke="#000" stroke-width="1.5" />
<line x1="1419.82" y1="1204.4" x2="1419.82" y2="1207.4" stroke="#000" stroke-width="1.5" />
<line x1="1477.49" y1="1204.4" x2="1477.49" y2="1207.4" stroke="#000" stroke-width="1.5" />
<line x1="1535.16" y1="1204.4" x2="1535.16" y2="1207.4" stroke="#000" stroke-width="1.5" />
<line x1="1198.5" y1="1204.4" x2="1204" y2="1204.4" stroke="#000" stroke-width="1.5" />
<text x="1194" y="1212.99" font-size="24" text-anchor="end" fill="#000"  stroke="#000" stroke-width="0.35">0</text>
<line x1="1198.5" y1="1091.04" x2="1204" y2="1091.04" stroke="#000" stroke-width="1.5" />
<text x="1194" y="1099.63" font-size="24" text-anchor="end" fill="#000"  stroke="#000" stroke-width="0.35">1</text>
<line x1="1198.5" y1="977.67" x2="1204" y2="977.67" stroke="#000" stroke-width="1.5" />
<text x="1194" y="986.26" font-size="24" text-anchor="end" fill="#000"  stroke="#000" stroke-width="0.35">2</text>
<line x1="1201" y1="1147.72" x2="1204" y2="1147.72" stroke="#000" stroke-width="1.5" />
<line x1="1201" y1="1034.35" x2="1204" y2="1034.35" stroke="#000" stroke-width="1.5" />
<line x1="1201" y1="920.99" x2="1204" y2="920.99" stroke="#000" stroke-width="1.5" />
<path d="M1225.19,1074.03 L1232.4,1181.73 L1239.61,1180.59 L1246.82,1165.86 L1254.03,1138.65 L1261.24,1169.26 L1268.44,1168.12 L1275.65,1110.31 L1282.86,1154.52 L1290.07,1136.38 L1297.28,1149.99 L1304.49,1132.98 L1311.69,1151.12 L1318.9,1138.65 L1326.11,1163.59 L1333.32,1143.18 L1340.53,1171.52 L1347.74,1110.31 L1354.94,1148.85 L1362.15,1149.99 L1369.36,1154.52 L1376.57,1142.05 L1383.78,1144.32 L1390.99,1145.45 L1398.2,1151.12 L1405.4,1169.26 L1412.61,1138.65 L1419.82,1148.85 L1427.03,1144.32 L1434.24,1143.18 L1441.45,1160.19 L1448.65,1144.32 L1455.86,1154.52 L1463.07,1151.12 L1470.28,1154.52 L1477.49,1156.79 L1484.7,1144.32 L1491.91,1151.12 L1499.11,1151.12 L1506.32,1145.45 L1513.53,1142.05 L1520.74,1148.85" stroke="#6aabd3" stroke-width="2.2" fill="none" stroke-linejoin="round"/>
<circle cx="1225.19" cy="1074.03" r="5.3" fill="#6aabd3" />
<circle cx="1232.4" cy="1181.73" r="5.3" fill="#6aabd3" />
<circle cx="1239.61" cy="1180.59" r="5.3" fill="#6aabd3" />
<circle cx="1246.82" cy="1165.86" r="5.3" fill="#6aabd3" />
<circle cx="1254.03" cy="1138.65" r="5.3" fill="#6aabd3" />
<circle cx="1261.24" cy="1169.26" r="5.3" fill="#6aabd3" />
<circle cx="1268.44" cy="1168.12" r="5.3" fill="#6aabd3" />
<circle cx="1275.65" cy="1110.31" r="5.3" fill="#6aabd3" />
<circle cx="1282.86" cy="1154.52" r="5.3" fill="#6aabd3" />
<circle cx="1290.07" cy="1136.38" r="5.3" fill="#6aabd3" />
<circle cx="1297.28" cy="1149.99" r="5.3" fill="#6aabd3" />
<circle cx="1304.49" cy="1132.98" r="5.3" fill="#6aabd3" />
<circle cx="1311.69" cy="1151.12" r="5.3" fill="#6aabd3" />
<circle cx="1318.9" cy="1138.65" r="5.3" fill="#6aabd3" />
<circle cx="1326.11" cy="1163.59" r="5.3" fill="#6aabd3" />
<circle cx="1333.32" cy="1143.18" r="5.3" fill="#6aabd3" />
<circle cx="1340.53" cy="1171.52" r="5.3" fill="#6aabd3" />
<circle cx="1347.74" cy="1110.31" r="5.3" fill="#6aabd3" />
<circle cx="1354.94" cy="1148.85" r="5.3" fill="#6aabd3" />
<circle cx="1362.15" cy="1149.99" r="5.3" fill="#6aabd3" />
<circle cx="1369.36" cy="1154.52" r="5.3" fill="#6aabd3" />
<circle cx="1376.57" cy="1142.05" r="5.3" fill="#6aabd3" />
<circle cx="1383.78" cy="1144.32" r="5.3" fill="#6aabd3" />
<circle cx="1390.99" cy="1145.45" r="5.3" fill="#6aabd3" />
<circle cx="1398.2" cy="1151.12" r="5.3" fill="#6aabd3" />
<circle cx="1405.4" cy="1169.26" r="5.3" fill="#6aabd3" />
<circle cx="1412.61" cy="1138.65" r="5.3" fill="#6aabd3" />
<circle cx="1419.82" cy="1148.85" r="5.3" fill="#6aabd3" />
<circle cx="1427.03" cy="1144.32" r="5.3" fill="#6aabd3" />
<circle cx="1434.24" cy="1143.18" r="5.3" fill="#6aabd3" />
<circle cx="1441.45" cy="1160.19" r="5.3" fill="#6aabd3" />
<circle cx="1448.65" cy="1144.32" r="5.3" fill="#6aabd3" />
<circle cx="1455.86" cy="1154.52" r="5.3" fill="#6aabd3" />
<circle cx="1463.07" cy="1151.12" r="5.3" fill="#6aabd3" />
<circle cx="1470.28" cy="1154.52" r="5.3" fill="#6aabd3" />
<circle cx="1477.49" cy="1156.79" r="5.3" fill="#6aabd3" />
<circle cx="1484.7" cy="1144.32" r="5.3" fill="#6aabd3" />
<circle cx="1491.91" cy="1151.12" r="5.3" fill="#6aabd3" />
<circle cx="1499.11" cy="1151.12" r="5.3" fill="#6aabd3" />
<circle cx="1506.32" cy="1145.45" r="5.3" fill="#6aabd3" />
<circle cx="1513.53" cy="1142.05" r="5.3" fill="#6aabd3" />
<circle cx="1520.74" cy="1148.85" r="5.3" fill="#6aabd3" />
<path d="M1225.19,1134.11 L1232.4,1071.76 L1239.61,1127.31 L1246.82,1111.44 L1254.03,1102.37 L1261.24,1114.84 L1268.44,1115.98 L1275.65,1085.37 L1282.86,1115.98 L1290.07,1078.57 L1297.28,1115.98 L1304.49,1078.57 L1311.69,1117.11 L1318.9,1067.23 L1326.11,1093.3 L1333.32,1070.63 L1340.53,1111.44 L1347.74,1043.42 L1354.94,1093.3 L1362.15,1091.04 L1369.36,1102.37 L1376.57,1081.97 L1383.78,1095.57 L1390.99,1085.37 L1398.2,1102.37 L1405.4,1095.57 L1412.61,1088.77 L1419.82,1088.77 L1427.03,1093.3 L1434.24,1088.77 L1441.45,1100.11 L1448.65,1085.37 L1455.86,1093.3 L1463.07,1091.04 L1470.28,1100.11 L1477.49,1100.11 L1484.7,1091.04 L1491.91,1093.3 L1499.11,1095.57 L1506.32,1095.57 L1513.53,1093.3 L1520.74,1088.77" stroke="#2f79b9" stroke-width="2.2" fill="none" stroke-linejoin="round"/>
<circle cx="1225.19" cy="1134.11" r="5.3" fill="#2f79b9" />
<circle cx="1232.4" cy="1071.76" r="5.3" fill="#2f79b9" />
<circle cx="1239.61" cy="1127.31" r="5.3" fill="#2f79b9" />
<circle cx="1246.82" cy="1111.44" r="5.3" fill="#2f79b9" />
<circle cx="1254.03" cy="1102.37" r="5.3" fill="#2f79b9" />
<circle cx="1261.24" cy="1114.84" r="5.3" fill="#2f79b9" />
<circle cx="1268.44" cy="1115.98" r="5.3" fill="#2f79b9" />
<circle cx="1275.65" cy="1085.37" r="5.3" fill="#2f79b9" />
<circle cx="1282.86" cy="1115.98" r="5.3" fill="#2f79b9" />
<circle cx="1290.07" cy="1078.57" r="5.3" fill="#2f79b9" />
<circle cx="1297.28" cy="1115.98" r="5.3" fill="#2f79b9" />
<circle cx="1304.49" cy="1078.57" r="5.3" fill="#2f79b9" />
<circle cx="1311.69" cy="1117.11" r="5.3" fill="#2f79b9" />
<circle cx="1318.9" cy="1067.23" r="5.3" fill="#2f79b9" />
<circle cx="1326.11" cy="1093.3" r="5.3" fill="#2f79b9" />
<circle cx="1333.32" cy="1070.63" r="5.3" fill="#2f79b9" />
<circle cx="1340.53" cy="1111.44" r="5.3" fill="#2f79b9" />
<circle cx="1347.74" cy="1043.42" r="5.3" fill="#2f79b9" />
<circle cx="1354.94" cy="1093.3" r="5.3" fill="#2f79b9" />
<circle cx="1362.15" cy="1091.04" r="5.3" fill="#2f79b9" />
<circle cx="1369.36" cy="1102.37" r="5.3" fill="#2f79b9" />
<circle cx="1376.57" cy="1081.97" r="5.3" fill="#2f79b9" />
<circle cx="1383.78" cy="1095.57" r="5.3" fill="#2f79b9" />
<circle cx="1390.99" cy="1085.37" r="5.3" fill="#2f79b9" />
<circle cx="1398.2" cy="1102.37" r="5.3" fill="#2f79b9" />
<circle cx="1405.4" cy="1095.57" r="5.3" fill="#2f79b9" />
<circle cx="1412.61" cy="1088.77" r="5.3" fill="#2f79b9" />
<circle cx="1419.82" cy="1088.77" r="5.3" fill="#2f79b9" />
<circle cx="1427.03" cy="1093.3" r="5.3" fill="#2f79b9" />
<circle cx="1434.24" cy="1088.77" r="5.3" fill="#2f79b9" />
<circle cx="1441.45" cy="1100.11" r="5.3" fill="#2f79b9" />
<circle cx="1448.65" cy="1085.37" r="5.3" fill="#2f79b9" />
<circle cx="1455.86" cy="1093.3" r="5.3" fill="#2f79b9" />
<circle cx="1463.07" cy="1091.04" r="5.3" fill="#2f79b9" />
<circle cx="1470.28" cy="1100.11" r="5.3" fill="#2f79b9" />
<circle cx="1477.49" cy="1100.11" r="5.3" fill="#2f79b9" />
<circle cx="1484.7" cy="1091.04" r="5.3" fill="#2f79b9" />
<circle cx="1491.91" cy="1093.3" r="5.3" fill="#2f79b9" />
<circle cx="1499.11" cy="1095.57" r="5.3" fill="#2f79b9" />
<circle cx="1506.32" cy="1095.57" r="5.3" fill="#2f79b9" />
<circle cx="1513.53" cy="1093.3" r="5.3" fill="#2f79b9" />
<circle cx="1520.74" cy="1088.77" r="5.3" fill="#2f79b9" />
<path d="M1225.19,1149.53 L1232.4,1113.71 L1239.61,1103.51 L1246.82,1087.64 L1254.03,1034.35 L1261.24,1050.22 L1268.44,1062.69 L1275.65,977.67 L1282.86,1004.88 L1290.07,991.28 L1297.28,1015.08 L1304.49,991.28 L1311.69,977.67 L1318.9,1015.08 L1326.11,991.28 L1333.32,961.8 L1340.53,977.67 L1347.74,1004.88 L1354.94,1015.08 L1362.15,977.67 L1369.36,1004.88 L1376.57,977.67 L1383.78,991.28 L1390.99,991.28 L1398.2,1004.88 L1405.4,1004.88 L1412.61,1015.08 L1419.82,991.28 L1427.03,1015.08 L1434.24,991.28 L1441.45,1034.35 L1448.65,991.28 L1455.86,991.28 L1463.07,991.28 L1470.28,977.67 L1477.49,1004.88 L1484.7,961.8 L1491.91,961.8 L1499.11,961.8 L1506.32,961.8 L1513.53,961.8 L1520.74,942.53" stroke="#16457f" stroke-width="2.2" fill="none" stroke-linejoin="round"/>
<circle cx="1225.19" cy="1149.53" r="5.3" fill="#16457f" />
<circle cx="1232.4" cy="1113.71" r="5.3" fill="#16457f" />
<circle cx="1239.61" cy="1103.51" r="5.3" fill="#16457f" />
<circle cx="1246.82" cy="1087.64" r="5.3" fill="#16457f" />
<circle cx="1254.03" cy="1034.35" r="5.3" fill="#16457f" />
<circle cx="1261.24" cy="1050.22" r="5.3" fill="#16457f" />
<circle cx="1268.44" cy="1062.69" r="5.3" fill="#16457f" />
<circle cx="1275.65" cy="977.67" r="5.3" fill="#16457f" />
<circle cx="1282.86" cy="1004.88" r="5.3" fill="#16457f" />
<circle cx="1290.07" cy="991.28" r="5.3" fill="#16457f" />
<circle cx="1297.28" cy="1015.08" r="5.3" fill="#16457f" />
<circle cx="1304.49" cy="991.28" r="5.3" fill="#16457f" />
<circle cx="1311.69" cy="977.67" r="5.3" fill="#16457f" />
<circle cx="1318.9" cy="1015.08" r="5.3" fill="#16457f" />
<circle cx="1326.11" cy="991.28" r="5.3" fill="#16457f" />
<circle cx="1333.32" cy="961.8" r="5.3" fill="#16457f" />
<circle cx="1340.53" cy="977.67" r="5.3" fill="#16457f" />
<circle cx="1347.74" cy="1004.88" r="5.3" fill="#16457f" />
<circle cx="1354.94" cy="1015.08" r="5.3" fill="#16457f" />
<circle cx="1362.15" cy="977.67" r="5.3" fill="#16457f" />
<circle cx="1369.36" cy="1004.88" r="5.3" fill="#16457f" />
<circle cx="1376.57" cy="977.67" r="5.3" fill="#16457f" />
<circle cx="1383.78" cy="991.28" r="5.3" fill="#16457f" />
<circle cx="1390.99" cy="991.28" r="5.3" fill="#16457f" />
<circle cx="1398.2" cy="1004.88" r="5.3" fill="#16457f" />
<circle cx="1405.4" cy="1004.88" r="5.3" fill="#16457f" />
<circle cx="1412.61" cy="1015.08" r="5.3" fill="#16457f" />
<circle cx="1419.82" cy="991.28" r="5.3" fill="#16457f" />
<circle cx="1427.03" cy="1015.08" r="5.3" fill="#16457f" />
<circle cx="1434.24" cy="991.28" r="5.3" fill="#16457f" />
<circle cx="1441.45" cy="1034.35" r="5.3" fill="#16457f" />
<circle cx="1448.65" cy="991.28" r="5.3" fill="#16457f" />
<circle cx="1455.86" cy="991.28" r="5.3" fill="#16457f" />
<circle cx="1463.07" cy="991.28" r="5.3" fill="#16457f" />
<circle cx="1470.28" cy="977.67" r="5.3" fill="#16457f" />
<circle cx="1477.49" cy="1004.88" r="5.3" fill="#16457f" />
<circle cx="1484.7" cy="961.8" r="5.3" fill="#16457f" />
<circle cx="1491.91" cy="961.8" r="5.3" fill="#16457f" />
<circle cx="1499.11" cy="961.8" r="5.3" fill="#16457f" />
<circle cx="1506.32" cy="961.8" r="5.3" fill="#16457f" />
<circle cx="1513.53" cy="961.8" r="5.3" fill="#16457f" />
<circle cx="1520.74" cy="942.53" r="5.3" fill="#16457f" />
<text x="1376.5" y="935.6" font-size="25.5" fill="#16457f" stroke="#16457f" stroke-width="0.35">2.0 μL min<tspan font-size="15.81" dy="-10.71">-1</tspan></text>
<text x="1377.5" y="1067.6" font-size="25.5" fill="#2f79b9" stroke="#2f79b9" stroke-width="0.35">1.0 μL min<tspan font-size="15.81" dy="-10.71">-1</tspan></text>
<text x="1375.3" y="1195" font-size="25.5" fill="#6aabd3" stroke="#6aabd3" stroke-width="0.35">0.5 μL min<tspan font-size="15.81" dy="-10.71">-1</tspan></text>
<text x="1240" y="1262.8" font-size="25.94" fill="#000"  stroke="#000" stroke-width="0.35">Fluid flow position (μL)</text>
<text transform="translate(1169,1222) rotate(-90)" font-size="24.5" fill="#000" stroke="#000" stroke-width="0.35">Measured flow rate (μL min<tspan font-size="15" dy="-10">-1</tspan><tspan dy="10">)</tspan></text>
<text x="1120" y="942.6" font-size="50" fill="#000" stroke="#000" stroke-width="0.6">h</text>
<defs>
<linearGradient id="gpk" x1="0" y1="0" x2="0" y2="1"><stop offset="0" stop-color="#b94a6d"/><stop offset="0.85" stop-color="#efd3dc"/><stop offset="1" stop-color="#f0d6de"/></linearGradient>
<linearGradient id="gbl" x1="0" y1="0" x2="0" y2="1"><stop offset="0" stop-color="#2b72b3"/><stop offset="0.85" stop-color="#b2d5ea"/><stop offset="1" stop-color="#b6d8ec"/></linearGradient>
</defs>
<rect x="1688.9" y="1185.76" width="13.8" height="29.14" fill="url(#gpk)" />
<rect x="1702.7" y="1169.68" width="13.8" height="45.22" fill="url(#gbl)" />
<rect x="1728.48" y="1040.03" width="13.8" height="174.87" fill="url(#gpk)" />
<rect x="1742.28" y="1185.76" width="13.8" height="29.14" fill="url(#gbl)" />
<rect x="1768.07" y="1170.68" width="13.8" height="44.22" fill="url(#gpk)" />
<rect x="1781.87" y="1114.4" width="13.8" height="100.5" fill="url(#gbl)" />
<rect x="1807.65" y="1114.4" width="13.8" height="100.5" fill="url(#gpk)" />
<rect x="1821.45" y="1173.7" width="13.8" height="41.2" fill="url(#gbl)" />
<rect x="1847.24" y="976.72" width="13.8" height="238.19" fill="url(#gpk)" />
<rect x="1861.04" y="1165.65" width="13.8" height="49.25" fill="url(#gbl)" />
<rect x="1886.82" y="1013.9" width="13.8" height="201" fill="url(#gpk)" />
<rect x="1900.62" y="1210.88" width="13.8" height="4.02" fill="url(#gbl)" />
<rect x="1926.41" y="1013.9" width="13.8" height="201" fill="url(#gpk)" />
<rect x="1940.21" y="1182.74" width="13.8" height="32.16" fill="url(#gbl)" />
<rect x="1965.99" y="999.83" width="13.8" height="215.07" fill="url(#gpk)" />
<rect x="1979.79" y="1207.87" width="13.8" height="7.04" fill="url(#gbl)" />
<rect x="1683.3" y="913.4" width="315.1" height="301.5" fill="none" stroke="#000" stroke-width="1.5"/>
<line x1="1702.7" y1="1214.9" x2="1702.7" y2="1220.9" stroke="#000" stroke-width="1.5" />
<line x1="1742.28" y1="1214.9" x2="1742.28" y2="1220.9" stroke="#000" stroke-width="1.5" />
<line x1="1781.87" y1="1214.9" x2="1781.87" y2="1220.9" stroke="#000" stroke-width="1.5" />
<line x1="1821.45" y1="1214.9" x2="1821.45" y2="1220.9" stroke="#000" stroke-width="1.5" />
<line x1="1861.04" y1="1214.9" x2="1861.04" y2="1220.9" stroke="#000" stroke-width="1.5" />
<line x1="1900.62" y1="1214.9" x2="1900.62" y2="1220.9" stroke="#000" stroke-width="1.5" />
<line x1="1940.21" y1="1214.9" x2="1940.21" y2="1220.9" stroke="#000" stroke-width="1.5" />
<line x1="1979.79" y1="1214.9" x2="1979.79" y2="1220.9" stroke="#000" stroke-width="1.5" />
<line x1="1677.3" y1="1214.9" x2="1683.3" y2="1214.9" stroke="#000" stroke-width="1.5" />
<text x="1673.5" y="1223.49" font-size="24" text-anchor="end" fill="#000"  stroke="#000" stroke-width="0.35">0</text>
<line x1="1677.3" y1="1114.4" x2="1683.3" y2="1114.4" stroke="#000" stroke-width="1.5" />
<text x="1673.5" y="1122.99" font-size="24" text-anchor="end" fill="#000"  stroke="#000" stroke-width="0.35">1</text>
<line x1="1677.3" y1="1013.9" x2="1683.3" y2="1013.9" stroke="#000" stroke-width="1.5" />
<text x="1673.5" y="1022.49" font-size="24" text-anchor="end" fill="#000"  stroke="#000" stroke-width="0.35">2</text>
<line x1="1677.3" y1="913.4" x2="1683.3" y2="913.4" stroke="#000" stroke-width="1.5" />
<text x="1673.5" y="921.99" font-size="24" text-anchor="end" fill="#000"  stroke="#000" stroke-width="0.35">3</text>
<line x1="1680.3" y1="1164.65" x2="1683.3" y2="1164.65" stroke="#000" stroke-width="1.5" />
<line x1="1680.3" y1="1064.15" x2="1683.3" y2="1064.15" stroke="#000" stroke-width="1.5" />
<line x1="1680.3" y1="963.65" x2="1683.3" y2="963.65" stroke="#000" stroke-width="1.5" />
<text x="1702.7" y="1241.7" font-size="24" text-anchor="middle" fill="#000"  stroke="#000" stroke-width="0.35"># 1</text>
<text x="1742.28" y="1241.7" font-size="24" text-anchor="middle" fill="#000"  stroke="#000" stroke-width="0.35"># 2</text>
<text x="1781.87" y="1241.7" font-size="24" text-anchor="middle" fill="#000"  stroke="#000" stroke-width="0.35"># 3</text>
<text x="1821.45" y="1241.7" font-size="24" text-anchor="middle" fill="#000"  stroke="#000" stroke-width="0.35"># 4</text>
<text x="1861.04" y="1241.7" font-size="24" text-anchor="middle" fill="#000"  stroke="#000" stroke-width="0.35"># 5</text>
<text x="1900.62" y="1241.7" font-size="24" text-anchor="middle" fill="#000"  stroke="#000" stroke-width="0.35"># 6</text>
<text x="1940.21" y="1241.7" font-size="24" text-anchor="middle" fill="#000"  stroke="#000" stroke-width="0.35"># 7</text>
<text x="1979.79" y="1241.7" font-size="24" text-anchor="middle" fill="#000"  stroke="#000" stroke-width="0.35"># 8</text>
<rect x="1693.4" y="924.6" width="47.4" height="23.4" fill="url(#gpk)" />
<rect x="1693.4" y="951.2" width="47.4" height="23.4" fill="url(#gbl)" />
<text x="1748" y="943.3" font-size="20.79" fill="#bd5272"  stroke="#bd5272" stroke-width="0.35">Forehead</text>
<text x="1748" y="969.5" font-size="20.63" fill="#2f79b9"  stroke="#2f79b9" stroke-width="0.35">Forearm</text>
<text x="1799" y="1274.5" font-size="25.49" fill="#000"  stroke="#000" stroke-width="0.35">Subject</text>
<text transform="translate(1651,1185) rotate(-90)" font-size="24.5" fill="#000" stroke="#000" stroke-width="0.35">Sweat rate (μL min<tspan font-size="15" dy="-10">-1</tspan><tspan dy="10">)</tspan></text>
<text x="1629" y="936.7" font-size="50" fill="#000" stroke="#000" stroke-width="0.6">i</text>
<rect x="95" y="1336.75" width="349.5" height="289.5" fill="none" stroke="#000" stroke-width="1.5"/>
<line x1="144.93" y1="1626.25" x2="144.93" y2="1631.75" stroke="#000" stroke-width="1.5" />
<text x="144.93" y="1652" font-size="24" text-anchor="middle" fill="#000"  stroke="#000" stroke-width="0.35">30</text>
<line x1="219.82" y1="1626.25" x2="219.82" y2="1631.75" stroke="#000" stroke-width="1.5" />
<text x="219.82" y="1652" font-size="24" text-anchor="middle" fill="#000"  stroke="#000" stroke-width="0.35">60</text>
<line x1="294.71" y1="1626.25" x2="294.71" y2="1631.75" stroke="#000" stroke-width="1.5" />
<text x="294.71" y="1652" font-size="24" text-anchor="middle" fill="#000"  stroke="#000" stroke-width="0.35">90</text>
<line x1="369.61" y1="1626.25" x2="369.61" y2="1631.75" stroke="#000" stroke-width="1.5" />
<text x="369.61" y="1652" font-size="24" text-anchor="middle" fill="#000"  stroke="#000" stroke-width="0.35">120</text>
<line x1="444.5" y1="1626.25" x2="444.5" y2="1631.75" stroke="#000" stroke-width="1.5" />
<text x="444.5" y="1652" font-size="24" text-anchor="middle" fill="#000"  stroke="#000" stroke-width="0.35">150</text>
<line x1="107.48" y1="1626.25" x2="107.48" y2="1629.25" stroke="#000" stroke-width="1.5" />
<line x1="182.38" y1="1626.25" x2="182.38" y2="1629.25" stroke="#000" stroke-width="1.5" />
<line x1="257.27" y1="1626.25" x2="257.27" y2="1629.25" stroke="#000" stroke-width="1.5" />
<line x1="332.16" y1="1626.25" x2="332.16" y2="1629.25" stroke="#000" stroke-width="1.5" />
<line x1="407.05" y1="1626.25" x2="407.05" y2="1629.25" stroke="#000" stroke-width="1.5" />
<line x1="89.5" y1="1626.25" x2="95" y2="1626.25" stroke="#000" stroke-width="1.5" />
<text x="86" y="1634.84" font-size="24" text-anchor="end" fill="#000"  stroke="#000" stroke-width="0.35">4.9</text>
<line x1="89.5" y1="1568.35" x2="95" y2="1568.35" stroke="#000" stroke-width="1.5" />
<text x="86" y="1576.94" font-size="24" text-anchor="end" fill="#000"  stroke="#000" stroke-width="0.35">5.5</text>
<line x1="89.5" y1="1510.45" x2="95" y2="1510.45" stroke="#000" stroke-width="1.5" />
<text x="86" y="1519.04" font-size="24" text-anchor="end" fill="#000"  stroke="#000" stroke-width="0.35">6.1</text>
<line x1="89.5" y1="1452.55" x2="95" y2="1452.55" stroke="#000" stroke-width="1.5" />
<text x="86" y="1461.14" font-size="24" text-anchor="end" fill="#000"  stroke="#000" stroke-width="0.35">6.7</text>
<line x1="89.5" y1="1394.65" x2="95" y2="1394.65" stroke="#000" stroke-width="1.5" />
<text x="86" y="1403.24" font-size="24" text-anchor="end" fill="#000"  stroke="#000" stroke-width="0.35">7.3</text>
<line x1="89.5" y1="1336.75" x2="95" y2="1336.75" stroke="#000" stroke-width="1.5" />
<text x="86" y="1345.34" font-size="24" text-anchor="end" fill="#000"  stroke="#000" stroke-width="0.35">7.9</text>
<line x1="92" y1="1597.3" x2="95" y2="1597.3" stroke="#000" stroke-width="1.5" />
<line x1="92" y1="1539.4" x2="95" y2="1539.4" stroke="#000" stroke-width="1.5" />
<line x1="92" y1="1481.5" x2="95" y2="1481.5" stroke="#000" stroke-width="1.5" />
<line x1="92" y1="1423.6" x2="95" y2="1423.6" stroke="#000" stroke-width="1.5" />
<line x1="92" y1="1365.7" x2="95" y2="1365.7" stroke="#000" stroke-width="1.5" />
<path d="M119.96,1399.96 C124.12,1399.96 136.61,1399.96 144.93,1399.96 C153.25,1399.96 161.57,1399.96 169.89,1399.96 C178.21,1399.96 186.54,1399.96 194.86,1399.96 C203.18,1399.96 211.5,1399.96 219.82,1399.96 C228.14,1399.96 238.54,1399.56 244.79,1399.96 C251.03,1400.36 253.11,1400.84 257.27,1402.37 C261.43,1403.9 265.59,1405.59 269.75,1409.12 C273.91,1412.66 278.07,1419.42 282.23,1423.6 C286.39,1427.78 290.55,1431.56 294.71,1434.22 C298.87,1436.87 303.04,1438.56 307.2,1439.52 C311.36,1440.49 315.52,1439.92 319.68,1440.01 C323.84,1440.09 328,1439.68 332.16,1440.01 C336.32,1440.33 340.48,1440.17 344.64,1441.94 C348.8,1443.7 352.96,1445.96 357.12,1450.62 C361.29,1455.28 365.45,1462.36 369.61,1469.92 C373.77,1477.48 377.93,1486.97 382.09,1495.97 C386.25,1504.98 390.41,1516.08 394.57,1523.96 C398.73,1531.84 402.89,1537.47 407.05,1543.26 C411.21,1549.05 417.46,1556.13 419.54,1558.7" stroke="#6aaed6" stroke-width="3" fill="none" stroke-linejoin="round" />
<line x1="119.96" y1="1375.83" x2="119.96" y2="1424.08" stroke="#1a4d8a" stroke-width="2.6" />
<line x1="116.46" y1="1375.83" x2="123.46" y2="1375.83" stroke="#1a4d8a" stroke-width="2.4" />
<line x1="116.46" y1="1424.08" x2="123.46" y2="1424.08" stroke="#1a4d8a" stroke-width="2.4" />
<line x1="144.93" y1="1375.83" x2="144.93" y2="1424.08" stroke="#1a4d8a" stroke-width="2.6" />
<line x1="141.43" y1="1375.83" x2="148.43" y2="1375.83" stroke="#1a4d8a" stroke-width="2.4" />
<line x1="141.43" y1="1424.08" x2="148.43" y2="1424.08" stroke="#1a4d8a" stroke-width="2.4" />
<line x1="169.89" y1="1375.83" x2="169.89" y2="1424.08" stroke="#1a4d8a" stroke-width="2.6" />
<line x1="166.39" y1="1375.83" x2="173.39" y2="1375.83" stroke="#1a4d8a" stroke-width="2.4" />
<line x1="166.39" y1="1424.08" x2="173.39" y2="1424.08" stroke="#1a4d8a" stroke-width="2.4" />
<line x1="194.86" y1="1375.83" x2="194.86" y2="1424.08" stroke="#1a4d8a" stroke-width="2.6" />
<line x1="191.36" y1="1375.83" x2="198.36" y2="1375.83" stroke="#1a4d8a" stroke-width="2.4" />
<line x1="191.36" y1="1424.08" x2="198.36" y2="1424.08" stroke="#1a4d8a" stroke-width="2.4" />
<line x1="219.82" y1="1375.83" x2="219.82" y2="1424.08" stroke="#1a4d8a" stroke-width="2.6" />
<line x1="216.32" y1="1375.83" x2="223.32" y2="1375.83" stroke="#1a4d8a" stroke-width="2.4" />
<line x1="216.32" y1="1424.08" x2="223.32" y2="1424.08" stroke="#1a4d8a" stroke-width="2.4" />
<line x1="244.79" y1="1375.83" x2="244.79" y2="1424.08" stroke="#1a4d8a" stroke-width="2.6" />
<line x1="241.29" y1="1375.83" x2="248.29" y2="1375.83" stroke="#1a4d8a" stroke-width="2.4" />
<line x1="241.29" y1="1424.08" x2="248.29" y2="1424.08" stroke="#1a4d8a" stroke-width="2.4" />
<line x1="269.75" y1="1375.83" x2="269.75" y2="1424.08" stroke="#1a4d8a" stroke-width="2.6" />
<line x1="266.25" y1="1375.83" x2="273.25" y2="1375.83" stroke="#1a4d8a" stroke-width="2.4" />
<line x1="266.25" y1="1424.08" x2="273.25" y2="1424.08" stroke="#1a4d8a" stroke-width="2.4" />
<line x1="294.71" y1="1423.79" x2="294.71" y2="1453.32" stroke="#1a4d8a" stroke-width="2.6" />
<line x1="291.21" y1="1423.79" x2="298.21" y2="1423.79" stroke="#1a4d8a" stroke-width="2.4" />
<line x1="291.21" y1="1453.32" x2="298.21" y2="1453.32" stroke="#1a4d8a" stroke-width="2.4" />
<line x1="319.68" y1="1423.79" x2="319.68" y2="1453.32" stroke="#1a4d8a" stroke-width="2.6" />
<line x1="316.18" y1="1423.79" x2="323.18" y2="1423.79" stroke="#1a4d8a" stroke-width="2.4" />
<line x1="316.18" y1="1453.32" x2="323.18" y2="1453.32" stroke="#1a4d8a" stroke-width="2.4" />
<line x1="344.64" y1="1423.79" x2="344.64" y2="1453.32" stroke="#1a4d8a" stroke-width="2.6" />
<line x1="341.14" y1="1423.79" x2="348.14" y2="1423.79" stroke="#1a4d8a" stroke-width="2.4" />
<line x1="341.14" y1="1453.32" x2="348.14" y2="1453.32" stroke="#1a4d8a" stroke-width="2.4" />
<line x1="369.61" y1="1453.32" x2="369.61" y2="1482.66" stroke="#1a4d8a" stroke-width="2.6" />
<line x1="366.11" y1="1453.32" x2="373.11" y2="1453.32" stroke="#1a4d8a" stroke-width="2.4" />
<line x1="366.11" y1="1482.66" x2="373.11" y2="1482.66" stroke="#1a4d8a" stroke-width="2.4" />
<line x1="394.57" y1="1510.74" x2="394.57" y2="1540.08" stroke="#1a4d8a" stroke-width="2.6" />
<line x1="391.07" y1="1510.74" x2="398.07" y2="1510.74" stroke="#1a4d8a" stroke-width="2.4" />
<line x1="391.07" y1="1540.08" x2="398.07" y2="1540.08" stroke="#1a4d8a" stroke-width="2.4" />
<line x1="419.54" y1="1539.4" x2="419.54" y2="1578" stroke="#1a4d8a" stroke-width="2.6" />
<line x1="416.04" y1="1539.4" x2="423.04" y2="1539.4" stroke="#1a4d8a" stroke-width="2.4" />
<line x1="416.04" y1="1578" x2="423.04" y2="1578" stroke="#1a4d8a" stroke-width="2.4" />
<text x="139" y="1470.5" font-size="28.61" fill="#1a4d8a"  stroke="#1a4d8a" stroke-width="0.35">Plateau</text>
<text x="135.5" y="1690" font-size="25.61" fill="#000"  stroke="#000" stroke-width="0.35">Injected LA volume (μL)</text>
<text transform="translate(45,1581) rotate(-90)" font-size="25.68" fill="#000" stroke="#000" stroke-width="0.35">pH after buffering</text>
<text x="15.05" y="1360.5" font-size="50" fill="#000" stroke="#000" stroke-width="0.6">j</text>
<line x1="608.7" y1="1409.45" x2="974.5" y2="1409.45" stroke="#000" stroke-width="1.5" stroke-dasharray="7.2,6.6"/>
<rect x="608.7" y="1336" width="365.8" height="293.8" fill="none" stroke="#000" stroke-width="1.5"/>
<line x1="689.81" y1="1629.8" x2="689.81" y2="1635.3" stroke="#000" stroke-width="1.5" />
<text x="689.81" y="1654.5" font-size="21" text-anchor="middle" fill="#000"  stroke="#000" stroke-width="0.35">30</text>
<line x1="811.47" y1="1629.8" x2="811.47" y2="1635.3" stroke="#000" stroke-width="1.5" />
<text x="811.47" y="1654.5" font-size="21" text-anchor="middle" fill="#000"  stroke="#000" stroke-width="0.35">60</text>
<line x1="933.13" y1="1629.8" x2="933.13" y2="1635.3" stroke="#000" stroke-width="1.5" />
<text x="933.13" y="1654.5" font-size="21" text-anchor="middle" fill="#000"  stroke="#000" stroke-width="0.35">90</text>
<line x1="628.98" y1="1629.8" x2="628.98" y2="1632.8" stroke="#000" stroke-width="1.5" />
<line x1="750.64" y1="1629.8" x2="750.64" y2="1632.8" stroke="#000" stroke-width="1.5" />
<line x1="872.3" y1="1629.8" x2="872.3" y2="1632.8" stroke="#000" stroke-width="1.5" />
<line x1="603.2" y1="1629.8" x2="608.7" y2="1629.8" stroke="#000" stroke-width="1.5" />
<text x="600" y="1637.32" font-size="21" text-anchor="end" fill="#000"  stroke="#000" stroke-width="0.35">0</text>
<line x1="603.2" y1="1556.35" x2="608.7" y2="1556.35" stroke="#000" stroke-width="1.5" />
<text x="600" y="1563.87" font-size="21" text-anchor="end" fill="#000"  stroke="#000" stroke-width="0.35">30</text>
<line x1="603.2" y1="1482.9" x2="608.7" y2="1482.9" stroke="#000" stroke-width="1.5" />
<text x="600" y="1490.42" font-size="21" text-anchor="end" fill="#000"  stroke="#000" stroke-width="0.35">60</text>
<line x1="603.2" y1="1409.45" x2="608.7" y2="1409.45" stroke="#000" stroke-width="1.5" />
<text x="600" y="1416.97" font-size="21" text-anchor="end" fill="#000"  stroke="#000" stroke-width="0.35">90</text>
<line x1="603.2" y1="1336" x2="608.7" y2="1336" stroke="#000" stroke-width="1.5" />
<text x="600" y="1343.52" font-size="21" text-anchor="end" fill="#000"  stroke="#000" stroke-width="0.35">120</text>
<line x1="605.7" y1="1593.08" x2="608.7" y2="1593.08" stroke="#000" stroke-width="1.5" />
<line x1="605.7" y1="1519.62" x2="608.7" y2="1519.62" stroke="#000" stroke-width="1.5" />
<line x1="605.7" y1="1446.17" x2="608.7" y2="1446.17" stroke="#000" stroke-width="1.5" />
<line x1="605.7" y1="1372.72" x2="608.7" y2="1372.72" stroke="#000" stroke-width="1.5" />
<path d="M649.25,1384.97 C653.31,1385.28 681.7,1387.98 689.81,1388.15 C697.92,1388.32 718.2,1385.43 730.36,1386.68 C742.53,1387.93 795.25,1398.29 811.47,1400.64 C827.69,1402.99 880.41,1404.9 892.58,1410.18 C904.75,1415.47 929.08,1449.19 933.13,1453.52" stroke="#174b8a" stroke-width="2.6" fill="none"/>
<circle cx="649.25" cy="1384.97" r="5.6" fill="#174b8a" />
<circle cx="689.81" cy="1388.15" r="5.6" fill="#174b8a" />
<circle cx="730.36" cy="1386.68" r="5.6" fill="#174b8a" />
<circle cx="811.47" cy="1400.64" r="5.6" fill="#174b8a" />
<circle cx="892.58" cy="1410.18" r="5.6" fill="#174b8a" />
<circle cx="933.13" cy="1453.52" r="5.6" fill="#174b8a" />
<text x="598" y="1689.6" font-size="24.16" fill="#000"  stroke="#000" stroke-width="0.35">Volume of added sweat sample (μL)</text>
<text transform="translate(563,1540) rotate(-90)" font-size="24" fill="#000" stroke="#000" stroke-width="0.35">I<tspan font-size="16" dy="6">peak</tspan><tspan dy="-6">/I</tspan><tspan font-size="16" dy="6">0</tspan><tspan dy="-6"> (%)</tspan></text>
<text x="527.3" y="1366" font-size="50" fill="#000" stroke="#000" stroke-width="0.6">k</text>
<rect x="1129.25" y="1332.5" width="370.25" height="302" fill="none" stroke="#000" stroke-width="1.5"/>
<line x1="1129.25" y1="1634.5" x2="1129.25" y2="1640" stroke="#000" stroke-width="1.5" />
<text x="1129.25" y="1661.3" font-size="25" text-anchor="middle" fill="#000"  stroke="#000" stroke-width="0.35">0.4</text>
<line x1="1297.78" y1="1634.5" x2="1297.78" y2="1640" stroke="#000" stroke-width="1.5" />
<text x="1297.78" y="1661.3" font-size="25" text-anchor="middle" fill="#000"  stroke="#000" stroke-width="0.35">0.5</text>
<line x1="1466.3" y1="1634.5" x2="1466.3" y2="1640" stroke="#000" stroke-width="1.5" />
<text x="1466.3" y="1661.3" font-size="25" text-anchor="middle" fill="#000"  stroke="#000" stroke-width="0.35">0.6</text>
<line x1="1213.51" y1="1634.5" x2="1213.51" y2="1637.5" stroke="#000" stroke-width="1.5" />
<line x1="1382.04" y1="1634.5" x2="1382.04" y2="1637.5" stroke="#000" stroke-width="1.5" />
<line x1="1123.75" y1="1613.26" x2="1129.25" y2="1613.26" stroke="#000" stroke-width="1.5" />
<text x="1118" y="1622.21" font-size="25" text-anchor="end" fill="#000"  stroke="#000" stroke-width="0.35">0.00</text>
<line x1="1123.75" y1="1526.74" x2="1129.25" y2="1526.74" stroke="#000" stroke-width="1.5" />
<text x="1118" y="1535.69" font-size="25" text-anchor="end" fill="#000"  stroke="#000" stroke-width="0.35">0.02</text>
<line x1="1123.75" y1="1440.22" x2="1129.25" y2="1440.22" stroke="#000" stroke-width="1.5" />
<text x="1118" y="1449.17" font-size="25" text-anchor="end" fill="#000"  stroke="#000" stroke-width="0.35">0.04</text>
<line x1="1123.75" y1="1353.7" x2="1129.25" y2="1353.7" stroke="#000" stroke-width="1.5" />
<text x="1118" y="1362.65" font-size="25" text-anchor="end" fill="#000"  stroke="#000" stroke-width="0.35">0.06</text>
<line x1="1126.25" y1="1570" x2="1129.25" y2="1570" stroke="#000" stroke-width="1.5" />
<line x1="1126.25" y1="1483.48" x2="1129.25" y2="1483.48" stroke="#000" stroke-width="1.5" />
<line x1="1126.25" y1="1396.96" x2="1129.25" y2="1396.96" stroke="#000" stroke-width="1.5" />
<clipPath id="clipl"><rect x="1129.25" y="1332.5" width="370.25" height="302.0"/></clipPath>
<g clip-path="url(#clipl)"><path d="M1129.25,1615.85 L1132.62,1615.85 L1135.98,1615.85 L1139.35,1615.75 L1142.71,1615.42 L1146.08,1614.88 L1149.45,1614.12 L1152.81,1613.16 L1156.18,1611.98 L1159.54,1610.59 L1162.91,1609 L1166.28,1607.2 L1169.64,1605.21 L1173.01,1603.03 L1176.37,1600.66 L1179.74,1598.12 L1183.1,1595.39 L1186.47,1592.5 L1189.84,1589.45 L1193.2,1586.24 L1196.57,1582.89 L1199.93,1579.4 L1203.3,1575.78 L1206.67,1572.04 L1210.03,1568.19 L1213.4,1564.23 L1216.76,1560.19 L1220.13,1556.05 L1223.5,1551.85 L1226.86,1547.58 L1230.23,1543.26 L1233.59,1538.89 L1236.96,1534.5 L1240.33,1530.08 L1243.69,1525.65 L1247.06,1521.22 L1250.42,1516.8 L1253.79,1512.4 L1257.15,1508.03 L1260.52,1503.7 L1263.89,1499.43 L1267.25,1495.22 L1270.62,1491.08 L1273.98,1487.02 L1277.35,1483.06 L1280.72,1479.19 L1284.08,1475.44 L1287.45,1471.81 L1290.81,1468.31 L1294.18,1464.94 L1297.55,1461.72 L1300.91,1458.66 L1304.28,1455.75 L1307.64,1453.01 L1311.01,1450.45 L1314.38,1448.06 L1317.74,1445.86 L1321.11,1443.86 L1324.47,1442.04 L1327.84,1440.43 L1331.2,1439.03 L1334.57,1437.83 L1337.94,1436.84 L1341.3,1436.06 L1344.67,1435.5 L1348.03,1435.16 L1351.4,1435.03 L1354.77,1435.15 L1358.13,1435.55 L1361.5,1436.24 L1364.86,1437.22 L1368.23,1438.48 L1371.6,1440.02 L1374.96,1441.84 L1378.33,1443.92 L1381.69,1446.27 L1385.06,1448.89 L1388.42,1451.75 L1391.79,1454.86 L1395.16,1458.21 L1398.52,1461.79 L1401.89,1465.58 L1405.25,1469.59 L1408.62,1473.8 L1411.99,1478.2 L1415.35,1482.77 L1418.72,1487.51 L1422.08,1492.4 L1425.45,1497.44 L1428.82,1502.59 L1432.18,1507.86 L1435.55,1513.23 L1438.91,1518.68 L1442.28,1524.2 L1445.65,1529.76 L1449.01,1535.36 L1452.38,1540.98 L1455.74,1546.59 L1459.11,1552.19 L1462.47,1557.74 L1465.84,1563.24 L1469.21,1568.66 L1472.57,1573.98 L1475.94,1579.18 L1479.3,1584.23 L1482.67,1589.11 L1486.04,1593.79 L1489.4,1598.23 L1492.77,1602.4 L1496.13,1606.24 L1499.5,1609.7" stroke="#c9e2ee" stroke-width="3.6" fill="none" stroke-linejoin="round"/><path d="M1129.25,1615.85 L1132.62,1615.85 L1135.98,1615.72 L1139.35,1615.33 L1142.71,1614.68 L1146.08,1613.76 L1149.45,1612.59 L1152.81,1611.17 L1156.18,1609.49 L1159.54,1607.57 L1162.91,1605.4 L1166.28,1602.99 L1169.64,1600.36 L1173.01,1597.5 L1176.37,1594.42 L1179.74,1591.13 L1183.1,1587.64 L1186.47,1583.95 L1189.84,1580.08 L1193.2,1576.03 L1196.57,1571.81 L1199.93,1567.44 L1203.3,1562.92 L1206.67,1558.26 L1210.03,1553.48 L1213.4,1548.59 L1216.76,1543.6 L1220.13,1538.52 L1223.5,1533.36 L1226.86,1528.14 L1230.23,1522.87 L1233.59,1517.55 L1236.96,1512.22 L1240.33,1506.86 L1243.69,1501.51 L1247.06,1496.17 L1250.42,1490.86 L1253.79,1485.58 L1257.15,1480.35 L1260.52,1475.19 L1263.89,1470.1 L1267.25,1465.1 L1270.62,1460.2 L1273.98,1455.41 L1277.35,1450.74 L1280.72,1446.21 L1284.08,1441.82 L1287.45,1437.59 L1290.81,1433.53 L1294.18,1429.64 L1297.55,1425.93 L1300.91,1422.42 L1304.28,1419.11 L1307.64,1416.02 L1311.01,1413.13 L1314.38,1410.48 L1317.74,1408.05 L1321.11,1405.87 L1324.47,1403.92 L1327.84,1402.22 L1331.2,1400.77 L1334.57,1399.58 L1337.94,1398.64 L1341.3,1397.96 L1344.67,1397.55 L1348.03,1397.39 L1351.4,1397.52 L1354.77,1397.97 L1358.13,1398.74 L1361.5,1399.83 L1364.86,1401.23 L1368.23,1402.94 L1371.6,1404.96 L1374.96,1407.28 L1378.33,1409.9 L1381.69,1412.81 L1385.06,1416 L1388.42,1419.47 L1391.79,1423.21 L1395.16,1427.21 L1398.52,1431.46 L1401.89,1435.95 L1405.25,1440.67 L1408.62,1445.61 L1411.99,1450.75 L1415.35,1456.09 L1418.72,1461.61 L1422.08,1467.3 L1425.45,1473.14 L1428.82,1479.12 L1432.18,1485.22 L1435.55,1491.43 L1438.91,1497.74 L1442.28,1504.12 L1445.65,1510.56 L1449.01,1517.04 L1452.38,1523.54 L1455.74,1530.04 L1459.11,1536.53 L1462.47,1542.99 L1465.84,1549.39 L1469.21,1555.71 L1472.57,1561.94 L1475.94,1568.04 L1479.3,1573.99 L1482.67,1579.77 L1486.04,1585.35 L1489.4,1590.69 L1492.77,1595.76 L1496.13,1600.51 L1499.5,1604.9" stroke="#94c4dc" stroke-width="3.6" fill="none" stroke-linejoin="round"/><path d="M1129.25,1615.85 L1132.62,1615.85 L1135.98,1615.82 L1139.35,1615.52 L1142.71,1614.93 L1146.08,1614.04 L1149.45,1612.86 L1152.81,1611.39 L1156.18,1609.64 L1159.54,1607.6 L1162.91,1605.29 L1166.28,1602.71 L1169.64,1599.86 L1173.01,1596.76 L1176.37,1593.41 L1179.74,1589.82 L1183.1,1585.99 L1186.47,1581.95 L1189.84,1577.69 L1193.2,1573.23 L1196.57,1568.58 L1199.93,1563.76 L1203.3,1558.77 L1206.67,1553.62 L1210.03,1548.34 L1213.4,1542.93 L1216.76,1537.4 L1220.13,1531.78 L1223.5,1526.07 L1226.86,1520.29 L1230.23,1514.45 L1233.59,1508.58 L1236.96,1502.67 L1240.33,1496.76 L1243.69,1490.84 L1247.06,1484.95 L1250.42,1479.09 L1253.79,1473.27 L1257.15,1467.52 L1260.52,1461.84 L1263.89,1456.26 L1267.25,1450.78 L1270.62,1445.42 L1273.98,1440.19 L1277.35,1435.11 L1280.72,1430.18 L1284.08,1425.43 L1287.45,1420.86 L1290.81,1416.48 L1294.18,1412.31 L1297.55,1408.35 L1300.91,1404.62 L1304.28,1401.13 L1307.64,1397.88 L1311.01,1394.88 L1314.38,1392.14 L1317.74,1389.67 L1321.11,1387.47 L1324.47,1385.55 L1327.84,1383.91 L1331.2,1382.56 L1334.57,1381.5 L1337.94,1380.73 L1341.3,1380.26 L1344.67,1380.09 L1348.03,1380.24 L1351.4,1380.74 L1354.77,1381.61 L1358.13,1382.83 L1361.5,1384.41 L1364.86,1386.33 L1368.23,1388.61 L1371.6,1391.21 L1374.96,1394.16 L1378.33,1397.43 L1381.69,1401.01 L1385.06,1404.91 L1388.42,1409.11 L1391.79,1413.59 L1395.16,1418.36 L1398.52,1423.39 L1401.89,1428.67 L1405.25,1434.2 L1408.62,1439.95 L1411.99,1445.92 L1415.35,1452.08 L1418.72,1458.43 L1422.08,1464.94 L1425.45,1471.6 L1428.82,1478.39 L1432.18,1485.29 L1435.55,1492.28 L1438.91,1499.35 L1442.28,1506.48 L1445.65,1513.63 L1449.01,1520.8 L1452.38,1527.96 L1455.74,1535.09 L1459.11,1542.17 L1462.47,1549.16 L1465.84,1556.05 L1469.21,1562.81 L1472.57,1569.4 L1475.94,1575.81 L1479.3,1582 L1482.67,1587.92 L1486.04,1593.55 L1489.4,1598.83 L1492.77,1603.69 L1496.13,1608.07 L1499.5,1611.84" stroke="#64a2d2" stroke-width="3.6" fill="none" stroke-linejoin="round"/><path d="M1129.25,1615.85 L1132.62,1615.85 L1135.98,1615.81 L1139.35,1615.48 L1142.71,1614.82 L1146.08,1613.83 L1149.45,1612.52 L1152.81,1610.88 L1156.18,1608.92 L1159.54,1606.65 L1162.91,1604.08 L1166.28,1601.2 L1169.64,1598.03 L1173.01,1594.58 L1176.37,1590.86 L1179.74,1586.87 L1183.1,1582.62 L1186.47,1578.14 L1189.84,1573.42 L1193.2,1568.49 L1196.57,1563.35 L1199.93,1558.02 L1203.3,1552.52 L1206.67,1546.85 L1210.03,1541.04 L1213.4,1535.1 L1216.76,1529.05 L1220.13,1522.89 L1223.5,1516.66 L1226.86,1510.36 L1230.23,1504.01 L1233.59,1497.63 L1236.96,1491.24 L1240.33,1484.85 L1243.69,1478.49 L1247.06,1472.16 L1250.42,1465.88 L1253.79,1459.68 L1257.15,1453.56 L1260.52,1447.55 L1263.89,1441.66 L1267.25,1435.91 L1270.62,1430.31 L1273.98,1424.88 L1277.35,1419.63 L1280.72,1414.57 L1284.08,1409.73 L1287.45,1405.11 L1290.81,1400.72 L1294.18,1396.58 L1297.55,1392.7 L1300.91,1389.08 L1304.28,1385.75 L1307.64,1382.7 L1311.01,1379.95 L1314.38,1377.5 L1317.74,1375.36 L1321.11,1373.53 L1324.47,1372.03 L1327.84,1370.85 L1331.2,1369.99 L1334.57,1369.47 L1337.94,1369.27 L1341.3,1369.43 L1344.67,1369.96 L1348.03,1370.87 L1351.4,1372.15 L1354.77,1373.8 L1358.13,1375.81 L1361.5,1378.19 L1364.86,1380.92 L1368.23,1384 L1371.6,1387.42 L1374.96,1391.17 L1378.33,1395.25 L1381.69,1399.63 L1385.06,1404.33 L1388.42,1409.31 L1391.79,1414.57 L1395.16,1420.1 L1398.52,1425.88 L1401.89,1431.9 L1405.25,1438.14 L1408.62,1444.59 L1411.99,1451.22 L1415.35,1458.03 L1418.72,1465 L1422.08,1472.1 L1425.45,1479.32 L1428.82,1486.64 L1432.18,1494.03 L1435.55,1501.48 L1438.91,1508.97 L1442.28,1516.46 L1445.65,1523.95 L1449.01,1531.41 L1452.38,1538.81 L1455.74,1546.12 L1459.11,1553.32 L1462.47,1560.39 L1465.84,1567.29 L1469.21,1573.99 L1472.57,1580.46 L1475.94,1586.66 L1479.3,1592.54 L1482.67,1598.06 L1486.04,1603.15 L1489.4,1607.73 L1492.77,1611.66 L1496.13,1614.72 L1499.5,1615.85" stroke="#3a8ee0" stroke-width="3.6" fill="none" stroke-linejoin="round"/><path d="M1129.25,1615.85 L1132.62,1615.81 L1135.98,1615.46 L1139.35,1614.75 L1142.71,1613.7 L1146.08,1612.29 L1149.45,1610.55 L1152.81,1608.46 L1156.18,1606.05 L1159.54,1603.3 L1162.91,1600.24 L1166.28,1596.87 L1169.64,1593.2 L1173.01,1589.24 L1176.37,1585 L1179.74,1580.5 L1183.1,1575.74 L1186.47,1570.75 L1189.84,1565.52 L1193.2,1560.09 L1196.57,1554.46 L1199.93,1548.65 L1203.3,1542.68 L1206.67,1536.56 L1210.03,1530.31 L1213.4,1523.95 L1216.76,1517.49 L1220.13,1510.96 L1223.5,1504.37 L1226.86,1497.75 L1230.23,1491.1 L1233.59,1484.46 L1236.96,1477.83 L1240.33,1471.24 L1243.69,1464.71 L1247.06,1458.25 L1250.42,1451.88 L1253.79,1445.62 L1257.15,1439.49 L1260.52,1433.5 L1263.89,1427.68 L1267.25,1422.03 L1270.62,1416.58 L1273.98,1411.34 L1277.35,1406.32 L1280.72,1401.55 L1284.08,1397.02 L1287.45,1392.76 L1290.81,1388.78 L1294.18,1385.08 L1297.55,1381.69 L1300.91,1378.6 L1304.28,1375.83 L1307.64,1373.39 L1311.01,1371.28 L1314.38,1369.5 L1317.74,1368.07 L1321.11,1366.99 L1324.47,1366.25 L1327.84,1365.87 L1331.2,1365.84 L1334.57,1366.18 L1337.94,1366.88 L1341.3,1367.95 L1344.67,1369.37 L1348.03,1371.16 L1351.4,1373.29 L1354.77,1375.78 L1358.13,1378.61 L1361.5,1381.78 L1364.86,1385.27 L1368.23,1389.09 L1371.6,1393.22 L1374.96,1397.65 L1378.33,1402.38 L1381.69,1407.38 L1385.06,1412.65 L1388.42,1418.18 L1391.79,1423.96 L1395.16,1429.96 L1398.52,1436.18 L1401.89,1442.59 L1405.25,1449.19 L1408.62,1455.96 L1411.99,1462.88 L1415.35,1469.93 L1418.72,1477.1 L1422.08,1484.36 L1425.45,1491.7 L1428.82,1499.09 L1432.18,1506.53 L1435.55,1513.97 L1438.91,1521.41 L1442.28,1528.82 L1445.65,1536.18 L1449.01,1543.47 L1452.38,1550.65 L1455.74,1557.71 L1459.11,1564.61 L1462.47,1571.33 L1465.84,1577.83 L1469.21,1584.08 L1472.57,1590.04 L1475.94,1595.66 L1479.3,1600.9 L1482.67,1605.67 L1486.04,1609.89 L1489.4,1613.37 L1492.77,1615.71 L1496.13,1615.85 L1499.5,1615.85" stroke="#1d6fcc" stroke-width="3.6" fill="none" stroke-linejoin="round"/><path d="M1129.25,1615.13 L1132.62,1614.24 L1135.98,1612.99 L1139.35,1611.38 L1142.71,1609.43 L1146.08,1607.14 L1149.45,1604.52 L1152.81,1601.56 L1156.18,1598.29 L1159.54,1594.71 L1162.91,1590.84 L1166.28,1586.67 L1169.64,1582.23 L1173.01,1577.52 L1176.37,1572.57 L1179.74,1567.38 L1183.1,1561.97 L1186.47,1556.36 L1189.84,1550.56 L1193.2,1544.59 L1196.57,1538.46 L1199.93,1532.19 L1203.3,1525.81 L1206.67,1519.33 L1210.03,1512.76 L1213.4,1506.13 L1216.76,1499.46 L1220.13,1492.76 L1223.5,1486.05 L1226.86,1479.36 L1230.23,1472.71 L1233.59,1466.1 L1236.96,1459.57 L1240.33,1453.13 L1243.69,1446.79 L1247.06,1440.58 L1250.42,1434.52 L1253.79,1428.62 L1257.15,1422.89 L1260.52,1417.36 L1263.89,1412.05 L1267.25,1406.96 L1270.62,1402.11 L1273.98,1397.51 L1277.35,1393.19 L1280.72,1389.14 L1284.08,1385.39 L1287.45,1381.94 L1290.81,1378.81 L1294.18,1375.99 L1297.55,1373.51 L1300.91,1371.36 L1304.28,1369.56 L1307.64,1368.1 L1311.01,1367 L1314.38,1366.26 L1317.74,1365.87 L1321.11,1365.85 L1324.47,1366.2 L1327.84,1366.95 L1331.2,1368.09 L1334.57,1369.61 L1337.94,1371.51 L1341.3,1373.79 L1344.67,1376.43 L1348.03,1379.44 L1351.4,1382.81 L1354.77,1386.52 L1358.13,1390.58 L1361.5,1394.96 L1364.86,1399.66 L1368.23,1404.67 L1371.6,1409.96 L1374.96,1415.54 L1378.33,1421.39 L1381.69,1427.48 L1385.06,1433.81 L1388.42,1440.36 L1391.79,1447.12 L1395.16,1454.05 L1398.52,1461.15 L1401.89,1468.4 L1405.25,1475.77 L1408.62,1483.25 L1411.99,1490.81 L1415.35,1498.44 L1418.72,1506.1 L1422.08,1513.79 L1425.45,1521.46 L1428.82,1529.11 L1432.18,1536.7 L1435.55,1544.21 L1438.91,1551.61 L1442.28,1558.87 L1445.65,1565.96 L1449.01,1572.84 L1452.38,1579.49 L1455.74,1585.86 L1459.11,1591.91 L1462.47,1597.59 L1465.84,1602.82 L1469.21,1607.53 L1472.57,1611.57 L1475.94,1614.7 L1479.3,1615.85 L1482.67,1615.85 L1486.04,1615.85 L1489.4,1615.85 L1492.77,1615.85 L1496.13,1615.85 L1499.5,1615.85" stroke="#1b5296" stroke-width="3.6" fill="none" stroke-linejoin="round"/></g>
<rect x="1282.5" y="1471.3" width="18.3" height="25.3" fill="#1b5296" />
<text x="1313.8" y="1492.5" font-size="28" fill="#1b5296"  stroke="#1b5296" stroke-width="0.35">20 μL</text>
<rect x="1282.5" y="1496.6" width="18.3" height="25.3" fill="#1d6fcc" />
<text x="1313.8" y="1518.3" font-size="28" fill="#1d6fcc"  stroke="#1d6fcc" stroke-width="0.35">30 μL</text>
<rect x="1282.5" y="1521.9" width="18.3" height="25.3" fill="#3a8ee0" />
<text x="1313.8" y="1543.8" font-size="28" fill="#3a8ee0"  stroke="#3a8ee0" stroke-width="0.35">40 μL</text>
<rect x="1282.5" y="1547.2" width="18.3" height="25.3" fill="#64a2d2" />
<text x="1313.8" y="1570" font-size="28" fill="#64a2d2"  stroke="#64a2d2" stroke-width="0.35">60 μL</text>
<rect x="1282.5" y="1572.5" width="18.3" height="25.3" fill="#94c4dc" />
<text x="1313.8" y="1595" font-size="28" fill="#94c4dc"  stroke="#94c4dc" stroke-width="0.35">80 μL</text>
<rect x="1282.5" y="1597.8" width="18.3" height="26.5" fill="#c9e2ee" />
<text x="1313.8" y="1621.3" font-size="28" fill="#c9e2ee"  stroke="#c9e2ee" stroke-width="0.35">90 μL</text>
<text x="1240.5" y="1701.3" font-size="27.07" fill="#000"  stroke="#000" stroke-width="0.35">Potential (V)</text>
<text transform="translate(1064,1556) rotate(-90)" font-size="26.45" fill="#000" stroke="#000" stroke-width="0.35">Current (μA)</text>
<text x="1050" y="1368" font-size="50" fill="#000" stroke="#000" stroke-width="0.6">l</text>
<rect x="1628" y="1334.5" width="370.8" height="303.8" fill="none" stroke="#000" stroke-width="1.5"/>
<line x1="1628" y1="1638.3" x2="1628" y2="1643.8" stroke="#000" stroke-width="1.5" />
<text x="1628" y="1665.2" font-size="25" text-anchor="middle" fill="#000"  stroke="#000" stroke-width="0.35">0.4</text>
<line x1="1776.14" y1="1638.3" x2="1776.14" y2="1643.8" stroke="#000" stroke-width="1.5" />
<text x="1776.14" y="1665.2" font-size="25" text-anchor="middle" fill="#000"  stroke="#000" stroke-width="0.35">0.5</text>
<line x1="1924.28" y1="1638.3" x2="1924.28" y2="1643.8" stroke="#000" stroke-width="1.5" />
<text x="1924.28" y="1665.2" font-size="25" text-anchor="middle" fill="#000"  stroke="#000" stroke-width="0.35">0.6</text>
<line x1="1702.07" y1="1638.3" x2="1702.07" y2="1641.3" stroke="#000" stroke-width="1.5" />
<line x1="1850.21" y1="1638.3" x2="1850.21" y2="1641.3" stroke="#000" stroke-width="1.5" />
<line x1="1998.36" y1="1638.3" x2="1998.36" y2="1641.3" stroke="#000" stroke-width="1.5" />
<line x1="1622.5" y1="1630.9" x2="1628" y2="1630.9" stroke="#000" stroke-width="1.5" />
<text x="1618.4" y="1639.85" font-size="25" text-anchor="end" fill="#000"  stroke="#000" stroke-width="0.35">0.0</text>
<line x1="1622.5" y1="1556.8" x2="1628" y2="1556.8" stroke="#000" stroke-width="1.5" />
<text x="1618.4" y="1565.75" font-size="25" text-anchor="end" fill="#000"  stroke="#000" stroke-width="0.35">0.1</text>
<line x1="1622.5" y1="1482.7" x2="1628" y2="1482.7" stroke="#000" stroke-width="1.5" />
<text x="1618.4" y="1491.65" font-size="25" text-anchor="end" fill="#000"  stroke="#000" stroke-width="0.35">0.2</text>
<line x1="1622.5" y1="1408.6" x2="1628" y2="1408.6" stroke="#000" stroke-width="1.5" />
<text x="1618.4" y="1417.55" font-size="25" text-anchor="end" fill="#000"  stroke="#000" stroke-width="0.35">0.3</text>
<line x1="1622.5" y1="1334.5" x2="1628" y2="1334.5" stroke="#000" stroke-width="1.5" />
<text x="1618.4" y="1343.45" font-size="25" text-anchor="end" fill="#000"  stroke="#000" stroke-width="0.35">0.4</text>
<line x1="1625" y1="1593.85" x2="1628" y2="1593.85" stroke="#000" stroke-width="1.5" />
<line x1="1625" y1="1519.75" x2="1628" y2="1519.75" stroke="#000" stroke-width="1.5" />
<line x1="1625" y1="1445.65" x2="1628" y2="1445.65" stroke="#000" stroke-width="1.5" />
<line x1="1625" y1="1371.55" x2="1628" y2="1371.55" stroke="#000" stroke-width="1.5" />
<clipPath id="clipm"><rect x="1628" y="1334.5" width="370.79999999999995" height="303.79999999999995"/></clipPath>
<g clip-path="url(#clipm)"><path d="M1628,1620.52 L1631.37,1622.21 L1634.74,1623.9 L1638.11,1625.58 L1641.48,1627.27 L1644.85,1628.95 L1648.23,1630.64 L1651.6,1632.33 L1654.97,1632.31 L1658.34,1631.6 L1661.71,1630.34 L1665.08,1628.62 L1668.45,1626.5 L1671.82,1624.03 L1675.19,1621.22 L1678.56,1618.11 L1681.93,1614.72 L1685.31,1611.07 L1688.68,1607.18 L1692.05,1603.08 L1695.42,1598.79 L1698.79,1594.32 L1702.16,1589.7 L1705.53,1584.94 L1708.9,1580.07 L1712.27,1575.11 L1715.64,1570.06 L1719.01,1564.96 L1722.39,1559.83 L1725.76,1554.68 L1729.13,1549.52 L1732.5,1544.39 L1735.87,1539.3 L1739.24,1534.26 L1742.61,1529.3 L1745.98,1524.43 L1749.35,1519.67 L1752.72,1515.03 L1756.09,1510.53 L1759.47,1506.19 L1762.84,1502.02 L1766.21,1498.04 L1769.58,1494.26 L1772.95,1490.69 L1776.32,1487.34 L1779.69,1484.23 L1783.06,1481.37 L1786.43,1478.76 L1789.8,1476.41 L1793.17,1474.34 L1796.55,1472.54 L1799.92,1471.03 L1803.29,1469.81 L1806.66,1468.89 L1810.03,1468.26 L1813.4,1467.93 L1816.77,1467.9 L1820.14,1468.17 L1823.51,1468.73 L1826.88,1469.59 L1830.25,1470.73 L1833.63,1472.16 L1837,1473.87 L1840.37,1475.86 L1843.74,1478.11 L1847.11,1480.63 L1850.48,1483.4 L1853.85,1486.41 L1857.22,1489.66 L1860.59,1493.14 L1863.96,1496.82 L1867.33,1500.7 L1870.71,1504.77 L1874.08,1509.02 L1877.45,1513.42 L1880.82,1517.97 L1884.19,1522.64 L1887.56,1527.43 L1890.93,1532.32 L1894.3,1537.28 L1897.67,1542.31 L1901.04,1547.38 L1904.41,1552.48 L1907.79,1557.59 L1911.16,1562.68 L1914.53,1567.75 L1917.9,1572.78 L1921.27,1577.74 L1924.64,1582.61 L1928.01,1587.38 L1931.38,1592.03 L1934.75,1596.54 L1938.12,1600.89 L1941.49,1605.05 L1944.87,1609.01 L1948.24,1612.76 L1951.61,1616.26 L1954.98,1619.5 L1958.35,1622.46 L1961.72,1625.11 L1965.09,1627.42 L1968.46,1629.36 L1971.83,1631.51 L1975.2,1633.24 L1978.57,1634.35 L1981.95,1635.02 L1985.32,1635.34 L1988.69,1635.34 L1992.06,1635.34 L1995.43,1635.34 L1998.8,1635.34" stroke="#92c3de" stroke-width="4.2" fill="none" stroke-linejoin="round"/><path d="M1628,1619.78 L1631.37,1621.24 L1634.74,1622.71 L1638.11,1624.17 L1641.48,1625.63 L1644.85,1627.09 L1648.23,1628.55 L1651.6,1628.88 L1654.97,1627.77 L1658.34,1626.21 L1661.71,1624.25 L1665.08,1621.93 L1668.45,1619.28 L1671.82,1616.33 L1675.19,1613.1 L1678.56,1609.61 L1681.93,1605.89 L1685.31,1601.96 L1688.68,1597.82 L1692.05,1593.51 L1695.42,1589.04 L1698.79,1584.44 L1702.16,1579.71 L1705.53,1574.88 L1708.9,1569.97 L1712.27,1564.99 L1715.64,1559.97 L1719.01,1554.92 L1722.39,1549.86 L1725.76,1544.8 L1729.13,1539.77 L1732.5,1534.79 L1735.87,1529.86 L1739.24,1525.01 L1742.61,1520.25 L1745.98,1515.6 L1749.35,1511.08 L1752.72,1506.7 L1756.09,1502.47 L1759.47,1498.4 L1762.84,1494.52 L1766.21,1490.83 L1769.58,1487.35 L1772.95,1484.09 L1776.32,1481.05 L1779.69,1478.25 L1783.06,1475.7 L1786.43,1473.41 L1789.8,1471.37 L1793.17,1469.61 L1796.55,1468.12 L1799.92,1466.91 L1803.29,1465.98 L1806.66,1465.34 L1810.03,1464.99 L1813.4,1464.93 L1816.77,1465.14 L1820.14,1465.63 L1823.51,1466.39 L1826.88,1467.43 L1830.25,1468.73 L1833.63,1470.29 L1837,1472.11 L1840.37,1474.19 L1843.74,1476.51 L1847.11,1479.07 L1850.48,1481.86 L1853.85,1484.88 L1857.22,1488.11 L1860.59,1491.54 L1863.96,1495.16 L1867.33,1498.97 L1870.71,1502.95 L1874.08,1507.08 L1877.45,1511.36 L1880.82,1515.78 L1884.19,1520.3 L1887.56,1524.94 L1890.93,1529.66 L1894.3,1534.45 L1897.67,1539.3 L1901.04,1544.19 L1904.41,1549.11 L1907.79,1554.04 L1911.16,1558.96 L1914.53,1563.86 L1917.9,1568.72 L1921.27,1573.52 L1924.64,1578.25 L1928.01,1582.89 L1931.38,1587.41 L1934.75,1591.82 L1938.12,1596.08 L1941.49,1600.18 L1944.87,1604.1 L1948.24,1607.82 L1951.61,1611.33 L1954.98,1614.61 L1958.35,1617.64 L1961.72,1620.39 L1965.09,1622.85 L1968.46,1624.98 L1971.83,1626.77 L1975.2,1628.16 L1978.57,1629.09 L1981.95,1628.1 L1985.32,1626.54 L1988.69,1624.99 L1992.06,1623.43 L1995.43,1621.87 L1998.8,1620.32" stroke="#1f78d6" stroke-width="4.2" fill="none" stroke-linejoin="round"/><path d="M1628,1607.93 L1631.37,1610.96 L1634.74,1614 L1638.11,1617.03 L1641.48,1620.07 L1644.85,1623.1 L1648.23,1626.14 L1651.6,1627.57 L1654.97,1626.57 L1658.34,1625.1 L1661.71,1623.22 L1665.08,1620.97 L1668.45,1618.38 L1671.82,1615.48 L1675.19,1612.3 L1678.56,1608.86 L1681.93,1605.18 L1685.31,1601.27 L1688.68,1597.16 L1692.05,1592.87 L1695.42,1588.41 L1698.79,1583.81 L1702.16,1579.08 L1705.53,1574.25 L1708.9,1569.32 L1712.27,1564.32 L1715.64,1559.27 L1719.01,1554.18 L1722.39,1549.08 L1725.76,1543.97 L1729.13,1538.89 L1732.5,1533.83 L1735.87,1528.83 L1739.24,1523.9 L1742.61,1519.06 L1745.98,1514.31 L1749.35,1509.69 L1752.72,1505.19 L1756.09,1500.85 L1759.47,1496.66 L1762.84,1492.65 L1766.21,1488.82 L1769.58,1485.2 L1772.95,1481.78 L1776.32,1478.59 L1779.69,1475.63 L1783.06,1472.91 L1786.43,1470.45 L1789.8,1468.24 L1793.17,1466.3 L1796.55,1464.62 L1799.92,1463.23 L1803.29,1462.11 L1806.66,1461.28 L1810.03,1460.74 L1813.4,1460.49 L1816.77,1460.53 L1820.14,1460.85 L1823.51,1461.47 L1826.88,1462.37 L1830.25,1463.55 L1833.63,1465.02 L1837,1466.76 L1840.37,1468.77 L1843.74,1471.05 L1847.11,1473.58 L1850.48,1476.36 L1853.85,1479.38 L1857.22,1482.63 L1860.59,1486.09 L1863.96,1489.77 L1867.33,1493.64 L1870.71,1497.7 L1874.08,1501.93 L1877.45,1506.32 L1880.82,1510.85 L1884.19,1515.5 L1887.56,1520.28 L1890.93,1525.14 L1894.3,1530.09 L1897.67,1535.11 L1901.04,1540.17 L1904.41,1545.26 L1907.79,1550.37 L1911.16,1555.47 L1914.53,1560.55 L1917.9,1565.59 L1921.27,1570.57 L1924.64,1575.48 L1928.01,1580.29 L1931.38,1584.99 L1934.75,1589.56 L1938.12,1593.97 L1941.49,1598.22 L1944.87,1602.28 L1948.24,1606.13 L1951.61,1609.75 L1954.98,1613.13 L1958.35,1616.24 L1961.72,1619.06 L1965.09,1621.57 L1968.46,1624.94 L1971.83,1628.25 L1975.2,1631.12 L1978.57,1633.5 L1981.95,1634.6 L1985.32,1634.6 L1988.69,1634.6 L1992.06,1634.6 L1995.43,1634.6 L1998.8,1634.6" stroke="#1b5296" stroke-width="4.2" fill="none" stroke-linejoin="round"/></g>
<line x1="1647.2" y1="1355" x2="1702.4" y2="1355" stroke="#1b5296" stroke-width="5" />
<text x="1710.8" y="1362.8" font-size="25" fill="#1b5296" stroke="#1b5296" stroke-width="0.35">0.5 μL min<tspan font-size="15.5" dy="-10.5">-1</tspan></text>
<line x1="1647.2" y1="1389.7" x2="1702.4" y2="1389.7" stroke="#1f78d6" stroke-width="5" />
<text x="1710.8" y="1397.6" font-size="25" fill="#1f78d6" stroke="#1f78d6" stroke-width="0.35">1.0 μL min<tspan font-size="15.5" dy="-10.5">-1</tspan></text>
<line x1="1647.2" y1="1424" x2="1702.4" y2="1424" stroke="#92c3de" stroke-width="5" />
<text x="1710.8" y="1432.4" font-size="25" fill="#92c3de" stroke="#92c3de" stroke-width="0.35">2.0 μL min<tspan font-size="15.5" dy="-10.5">-1</tspan></text>
<text x="1740.5" y="1703.6" font-size="26.43" fill="#000"  stroke="#000" stroke-width="0.35">Potential (V)</text>
<text transform="translate(1577,1559.6) rotate(-90)" font-size="26.56" fill="#000" stroke="#000" stroke-width="0.35">Current (μA)</text>
<text x="1545" y="1359.2" font-size="50" fill="#000" stroke="#000" stroke-width="0.6">m</text>
<line x1="1222.09" y1="113.12" x2="1240.48" y2="118.74" stroke="#2836c8" stroke-width="2.2" />
<ellipse cx="1252.75" cy="122.49" rx="19.66" ry="10.05" fill="#1d2190" stroke="#161a78" stroke-width="0.8" transform="rotate(17 1252.75 122.49)"/>
<line x1="1223.82" y1="99.47" x2="1243.04" y2="98.64" stroke="#2836c8" stroke-width="2.2" />
<ellipse cx="1255.86" cy="98.08" rx="19.66" ry="10.05" fill="#1d2190" stroke="#161a78" stroke-width="0.8" transform="rotate(-2.5 1255.86 98.08)"/>
<line x1="1220.91" y1="86.03" x2="1238.74" y2="78.83" stroke="#2836c8" stroke-width="2.2" />
<ellipse cx="1250.63" cy="74.02" rx="19.66" ry="10.05" fill="#1d2190" stroke="#161a78" stroke-width="0.8" transform="rotate(-22 1250.63 74.02)"/>
<line x1="1213.67" y1="74.34" x2="1228.07" y2="61.59" stroke="#2836c8" stroke-width="2.2" />
<ellipse cx="1237.68" cy="53.09" rx="19.66" ry="10.05" fill="#1d2190" stroke="#161a78" stroke-width="0.8" transform="rotate(-41.5 1237.68 53.09)"/>
<line x1="1202.94" y1="65.73" x2="1212.27" y2="48.9" stroke="#2836c8" stroke-width="2.2" />
<ellipse cx="1218.48" cy="37.68" rx="19.66" ry="10.05" fill="#1d2190" stroke="#161a78" stroke-width="0.8" transform="rotate(-61 1218.48 37.68)"/>
<line x1="1189.95" y1="61.19" x2="1193.13" y2="42.22" stroke="#2836c8" stroke-width="2.2" />
<ellipse cx="1195.24" cy="29.57" rx="19.66" ry="10.05" fill="#1d2190" stroke="#161a78" stroke-width="0.8" transform="rotate(-80.5 1195.24 29.57)"/>
<line x1="1176.2" y1="61.25" x2="1172.86" y2="42.31" stroke="#2836c8" stroke-width="2.2" />
<ellipse cx="1170.63" cy="29.67" rx="19.66" ry="10.05" fill="#1d2190" stroke="#161a78" stroke-width="0.8" transform="rotate(-100 1170.63 29.67)"/>
<line x1="1163.25" y1="65.9" x2="1153.78" y2="49.15" stroke="#2836c8" stroke-width="2.2" />
<ellipse cx="1147.46" cy="37.99" rx="19.66" ry="10.05" fill="#1d2190" stroke="#161a78" stroke-width="0.8" transform="rotate(-119.5 1147.46 37.99)"/>
<line x1="1152.6" y1="74.6" x2="1138.08" y2="61.98" stroke="#2836c8" stroke-width="2.2" />
<ellipse cx="1128.4" cy="53.57" rx="19.66" ry="10.05" fill="#1d2190" stroke="#161a78" stroke-width="0.8" transform="rotate(-139 1128.4 53.57)"/>
<line x1="1145.46" y1="86.36" x2="1127.56" y2="79.31" stroke="#2836c8" stroke-width="2.2" />
<ellipse cx="1115.63" cy="74.61" rx="19.66" ry="10.05" fill="#1d2190" stroke="#161a78" stroke-width="0.8" transform="rotate(-158.5 1115.63 74.61)"/>
<line x1="1142.66" y1="99.83" x2="1123.44" y2="99.16" stroke="#2836c8" stroke-width="2.2" />
<ellipse cx="1110.62" cy="98.71" rx="19.66" ry="10.05" fill="#1d2190" stroke="#161a78" stroke-width="0.8" transform="rotate(-178 1110.62 98.71)"/>
<line x1="1144.52" y1="113.46" x2="1126.17" y2="119.24" stroke="#2836c8" stroke-width="2.2" />
<ellipse cx="1113.94" cy="123.1" rx="19.66" ry="10.05" fill="#1d2190" stroke="#161a78" stroke-width="0.8" transform="rotate(-197.5 1113.94 123.1)"/>
<defs><radialGradient id="hc1" gradientUnits="userSpaceOnUse" cx="1178.97" cy="119.5" r="57.71"><stop offset="0" stop-color="#ff0f00"/><stop offset="0.18" stop-color="#ff2d00"/><stop offset="0.45" stop-color="#ff9e00"/><stop offset="0.62" stop-color="#f9ff05"/><stop offset="0.75" stop-color="#b2ff4c"/><stop offset="0.8" stop-color="#19ffe5"/><stop offset="1" stop-color="#00efff"/></radialGradient></defs>
<path d="M1144.59,119.5 A42.75,42.75 0 1 1 1221.91,119.5 Z" fill="url(#hc1)" stroke="#2aa0c0" stroke-width="0.8"/>
<path d="M1154.69,119.5 A34.2,34.2 0 1 1 1211.81,119.5 Z" fill="none" stroke="#48b070" stroke-width="1.1" opacity="0.85"/>
<line x1="1172.56" y1="119.5" x2="1159.74" y2="139.16" stroke="#e04010" stroke-width="2.4" stroke-linecap="round"/>
<line x1="1460.85" y1="111.15" x2="1479.44" y2="116.84" stroke="#2836c8" stroke-width="2.2" />
<ellipse cx="1491.83" cy="120.63" rx="19.87" ry="10.15" fill="#1d2190" stroke="#161a78" stroke-width="0.8" transform="rotate(17 1491.83 120.63)"/>
<line x1="1462.6" y1="97.36" x2="1482.02" y2="96.52" stroke="#2836c8" stroke-width="2.2" />
<ellipse cx="1494.97" cy="95.95" rx="19.87" ry="10.15" fill="#1d2190" stroke="#161a78" stroke-width="0.8" transform="rotate(-2.5 1494.97 95.95)"/>
<line x1="1459.65" y1="83.78" x2="1477.68" y2="76.5" stroke="#2836c8" stroke-width="2.2" />
<ellipse cx="1489.69" cy="71.64" rx="19.87" ry="10.15" fill="#1d2190" stroke="#161a78" stroke-width="0.8" transform="rotate(-22 1489.69 71.64)"/>
<line x1="1452.34" y1="71.96" x2="1466.9" y2="59.08" stroke="#2836c8" stroke-width="2.2" />
<ellipse cx="1476.6" cy="50.49" rx="19.87" ry="10.15" fill="#1d2190" stroke="#161a78" stroke-width="0.8" transform="rotate(-41.5 1476.6 50.49)"/>
<line x1="1441.5" y1="63.26" x2="1450.92" y2="46.26" stroke="#2836c8" stroke-width="2.2" />
<ellipse cx="1457.2" cy="34.92" rx="19.87" ry="10.15" fill="#1d2190" stroke="#161a78" stroke-width="0.8" transform="rotate(-61 1457.2 34.92)"/>
<line x1="1428.37" y1="58.68" x2="1431.58" y2="39.5" stroke="#2836c8" stroke-width="2.2" />
<ellipse cx="1433.72" cy="26.72" rx="19.87" ry="10.15" fill="#1d2190" stroke="#161a78" stroke-width="0.8" transform="rotate(-80.5 1433.72 26.72)"/>
<line x1="1414.47" y1="58.74" x2="1411.1" y2="39.59" stroke="#2836c8" stroke-width="2.2" />
<ellipse cx="1408.85" cy="26.83" rx="19.87" ry="10.15" fill="#1d2190" stroke="#161a78" stroke-width="0.8" transform="rotate(-100 1408.85 26.83)"/>
<line x1="1401.39" y1="63.43" x2="1391.82" y2="46.51" stroke="#2836c8" stroke-width="2.2" />
<ellipse cx="1385.44" cy="35.23" rx="19.87" ry="10.15" fill="#1d2190" stroke="#161a78" stroke-width="0.8" transform="rotate(-119.5 1385.44 35.23)"/>
<line x1="1390.63" y1="72.23" x2="1375.96" y2="59.48" stroke="#2836c8" stroke-width="2.2" />
<ellipse cx="1366.17" cy="50.97" rx="19.87" ry="10.15" fill="#1d2190" stroke="#161a78" stroke-width="0.8" transform="rotate(-139 1366.17 50.97)"/>
<line x1="1383.42" y1="84.11" x2="1365.33" y2="76.99" stroke="#2836c8" stroke-width="2.2" />
<ellipse cx="1353.27" cy="72.24" rx="19.87" ry="10.15" fill="#1d2190" stroke="#161a78" stroke-width="0.8" transform="rotate(-158.5 1353.27 72.24)"/>
<line x1="1380.59" y1="97.72" x2="1361.16" y2="97.04" stroke="#2836c8" stroke-width="2.2" />
<ellipse cx="1348.2" cy="96.59" rx="19.87" ry="10.15" fill="#1d2190" stroke="#161a78" stroke-width="0.8" transform="rotate(-178 1348.2 96.59)"/>
<line x1="1382.46" y1="111.49" x2="1363.92" y2="117.34" stroke="#2836c8" stroke-width="2.2" />
<ellipse cx="1351.56" cy="121.24" rx="19.87" ry="10.15" fill="#1d2190" stroke="#161a78" stroke-width="0.8" transform="rotate(-197.5 1351.56 121.24)"/>
<defs><radialGradient id="hc2" gradientUnits="userSpaceOnUse" cx="1417.28" cy="117.6" r="58.32"><stop offset="0" stop-color="#ff6000"/><stop offset="0.18" stop-color="#ff9e00"/><stop offset="0.4" stop-color="#e5ff19"/><stop offset="0.55" stop-color="#7fff7f"/><stop offset="0.7" stop-color="#19ffe5"/><stop offset="1" stop-color="#00d1ff"/></radialGradient></defs>
<path d="M1382.54,117.6 A43.2,43.2 0 1 1 1460.66,117.6 Z" fill="url(#hc2)" stroke="#2aa0c0" stroke-width="0.8"/>
<path d="M1401.17,117.6 A24.19,24.19 0 1 1 1442.03,117.6 Z" fill="none" stroke="#40a070" stroke-width="1.1" opacity="0.85"/>
<line x1="1410.8" y1="117.6" x2="1397.84" y2="137.47" stroke="#c8c040" stroke-width="2.4" stroke-linecap="round"/>
<line x1="1701.88" y1="112.58" x2="1721.25" y2="118.5" stroke="#2836c8" stroke-width="2.2" />
<ellipse cx="1734.16" cy="122.45" rx="20.7" ry="10.57" fill="#1d2190" stroke="#161a78" stroke-width="0.8" transform="rotate(17 1734.16 122.45)"/>
<line x1="1703.71" y1="98.22" x2="1723.94" y2="97.34" stroke="#2836c8" stroke-width="2.2" />
<ellipse cx="1737.43" cy="96.75" rx="20.7" ry="10.57" fill="#1d2190" stroke="#161a78" stroke-width="0.8" transform="rotate(-2.5 1737.43 96.75)"/>
<line x1="1700.64" y1="84.07" x2="1719.41" y2="76.48" stroke="#2836c8" stroke-width="2.2" />
<ellipse cx="1731.93" cy="71.43" rx="20.7" ry="10.57" fill="#1d2190" stroke="#161a78" stroke-width="0.8" transform="rotate(-22 1731.93 71.43)"/>
<line x1="1693.02" y1="71.76" x2="1708.18" y2="58.34" stroke="#2836c8" stroke-width="2.2" />
<ellipse cx="1718.3" cy="49.39" rx="20.7" ry="10.57" fill="#1d2190" stroke="#161a78" stroke-width="0.8" transform="rotate(-41.5 1718.3 49.39)"/>
<line x1="1681.73" y1="62.7" x2="1691.54" y2="44.98" stroke="#2836c8" stroke-width="2.2" />
<ellipse cx="1698.09" cy="33.18" rx="20.7" ry="10.57" fill="#1d2190" stroke="#161a78" stroke-width="0.8" transform="rotate(-61 1698.09 33.18)"/>
<line x1="1668.06" y1="57.92" x2="1671.4" y2="37.95" stroke="#2836c8" stroke-width="2.2" />
<ellipse cx="1673.63" cy="24.63" rx="20.7" ry="10.57" fill="#1d2190" stroke="#161a78" stroke-width="0.8" transform="rotate(-80.5 1673.63 24.63)"/>
<line x1="1653.58" y1="57.98" x2="1650.06" y2="38.04" stroke="#2836c8" stroke-width="2.2" />
<ellipse cx="1647.72" cy="24.75" rx="20.7" ry="10.57" fill="#1d2190" stroke="#161a78" stroke-width="0.8" transform="rotate(-100 1647.72 24.75)"/>
<line x1="1639.95" y1="62.88" x2="1629.98" y2="45.25" stroke="#2836c8" stroke-width="2.2" />
<ellipse cx="1623.33" cy="33.5" rx="20.7" ry="10.57" fill="#1d2190" stroke="#161a78" stroke-width="0.8" transform="rotate(-119.5 1623.33 33.5)"/>
<line x1="1628.74" y1="72.04" x2="1613.45" y2="58.75" stroke="#2836c8" stroke-width="2.2" />
<ellipse cx="1603.26" cy="49.9" rx="20.7" ry="10.57" fill="#1d2190" stroke="#161a78" stroke-width="0.8" transform="rotate(-139 1603.26 49.9)"/>
<line x1="1621.22" y1="84.42" x2="1602.38" y2="77" stroke="#2836c8" stroke-width="2.2" />
<ellipse cx="1589.82" cy="72.05" rx="20.7" ry="10.57" fill="#1d2190" stroke="#161a78" stroke-width="0.8" transform="rotate(-158.5 1589.82 72.05)"/>
<line x1="1618.28" y1="98.59" x2="1598.04" y2="97.89" stroke="#2836c8" stroke-width="2.2" />
<ellipse cx="1584.55" cy="97.42" rx="20.7" ry="10.57" fill="#1d2190" stroke="#161a78" stroke-width="0.8" transform="rotate(-178 1584.55 97.42)"/>
<line x1="1620.23" y1="112.94" x2="1600.92" y2="119.03" stroke="#2836c8" stroke-width="2.2" />
<ellipse cx="1588.04" cy="123.09" rx="20.7" ry="10.57" fill="#1d2190" stroke="#161a78" stroke-width="0.8" transform="rotate(-197.5 1588.04 123.09)"/>
<defs><radialGradient id="hc3" gradientUnits="userSpaceOnUse" cx="1656.5" cy="119.3" r="60.75"><stop offset="0" stop-color="#e5ff19"/><stop offset="0.2" stop-color="#b2ff4c"/><stop offset="0.4" stop-color="#4cffb2"/><stop offset="0.7" stop-color="#00dbff"/><stop offset="1" stop-color="#00b2ff"/></radialGradient></defs>
<path d="M1620.31,119.3 A45,45 0 1 1 1701.69,119.3 Z" fill="url(#hc3)" stroke="#2aa0c0" stroke-width="0.8"/>
<path d="M1644.8,119.3 L1644.8,99.5 A13.95,13.95 0 0 1 1672.7,99.5 L1672.7,119.3" fill="none" stroke="#409050" stroke-width="1.1" opacity="0.85"/>
<line x1="1649.75" y1="119.3" x2="1636.25" y2="140" stroke="#90d040" stroke-width="2.4" stroke-linecap="round"/>
<line x1="1938.45" y1="111.85" x2="1957.04" y2="117.54" stroke="#2836c8" stroke-width="2.2" />
<ellipse cx="1969.43" cy="121.33" rx="19.87" ry="10.15" fill="#1d2190" stroke="#161a78" stroke-width="0.8" transform="rotate(17 1969.43 121.33)"/>
<line x1="1940.2" y1="98.06" x2="1959.62" y2="97.22" stroke="#2836c8" stroke-width="2.2" />
<ellipse cx="1972.57" cy="96.65" rx="19.87" ry="10.15" fill="#1d2190" stroke="#161a78" stroke-width="0.8" transform="rotate(-2.5 1972.57 96.65)"/>
<line x1="1937.25" y1="84.48" x2="1955.28" y2="77.2" stroke="#2836c8" stroke-width="2.2" />
<ellipse cx="1967.29" cy="72.34" rx="19.87" ry="10.15" fill="#1d2190" stroke="#161a78" stroke-width="0.8" transform="rotate(-22 1967.29 72.34)"/>
<line x1="1929.94" y1="72.66" x2="1944.5" y2="59.78" stroke="#2836c8" stroke-width="2.2" />
<ellipse cx="1954.2" cy="51.19" rx="19.87" ry="10.15" fill="#1d2190" stroke="#161a78" stroke-width="0.8" transform="rotate(-41.5 1954.2 51.19)"/>
<line x1="1919.1" y1="63.96" x2="1928.52" y2="46.96" stroke="#2836c8" stroke-width="2.2" />
<ellipse cx="1934.8" cy="35.62" rx="19.87" ry="10.15" fill="#1d2190" stroke="#161a78" stroke-width="0.8" transform="rotate(-61 1934.8 35.62)"/>
<line x1="1905.97" y1="59.38" x2="1909.18" y2="40.2" stroke="#2836c8" stroke-width="2.2" />
<ellipse cx="1911.32" cy="27.42" rx="19.87" ry="10.15" fill="#1d2190" stroke="#161a78" stroke-width="0.8" transform="rotate(-80.5 1911.32 27.42)"/>
<line x1="1892.07" y1="59.44" x2="1888.7" y2="40.29" stroke="#2836c8" stroke-width="2.2" />
<ellipse cx="1886.45" cy="27.53" rx="19.87" ry="10.15" fill="#1d2190" stroke="#161a78" stroke-width="0.8" transform="rotate(-100 1886.45 27.53)"/>
<line x1="1878.99" y1="64.13" x2="1869.42" y2="47.21" stroke="#2836c8" stroke-width="2.2" />
<ellipse cx="1863.04" cy="35.93" rx="19.87" ry="10.15" fill="#1d2190" stroke="#161a78" stroke-width="0.8" transform="rotate(-119.5 1863.04 35.93)"/>
<line x1="1868.23" y1="72.93" x2="1853.56" y2="60.18" stroke="#2836c8" stroke-width="2.2" />
<ellipse cx="1843.77" cy="51.67" rx="19.87" ry="10.15" fill="#1d2190" stroke="#161a78" stroke-width="0.8" transform="rotate(-139 1843.77 51.67)"/>
<line x1="1861.02" y1="84.81" x2="1842.93" y2="77.69" stroke="#2836c8" stroke-width="2.2" />
<ellipse cx="1830.87" cy="72.94" rx="19.87" ry="10.15" fill="#1d2190" stroke="#161a78" stroke-width="0.8" transform="rotate(-158.5 1830.87 72.94)"/>
<line x1="1858.19" y1="98.42" x2="1838.76" y2="97.74" stroke="#2836c8" stroke-width="2.2" />
<ellipse cx="1825.8" cy="97.29" rx="19.87" ry="10.15" fill="#1d2190" stroke="#161a78" stroke-width="0.8" transform="rotate(-178 1825.8 97.29)"/>
<line x1="1860.06" y1="112.19" x2="1841.52" y2="118.04" stroke="#2836c8" stroke-width="2.2" />
<ellipse cx="1829.16" cy="121.94" rx="19.87" ry="10.15" fill="#1d2190" stroke="#161a78" stroke-width="0.8" transform="rotate(-197.5 1829.16 121.94)"/>
<defs><radialGradient id="hc4" gradientUnits="userSpaceOnUse" cx="1894.88" cy="118.3" r="58.32"><stop offset="0" stop-color="#42ffbc"/><stop offset="0.25" stop-color="#00f9ff"/><stop offset="0.55" stop-color="#0093ff"/><stop offset="1" stop-color="#0056ff"/></radialGradient></defs>
<path d="M1860.14,118.3 A43.2,43.2 0 1 1 1938.26,118.3 Z" fill="url(#hc4)" stroke="#2aa0c0" stroke-width="0.8"/>
<line x1="1888.4" y1="118.3" x2="1875.44" y2="138.17" stroke="#40d0b0" stroke-width="2.4" stroke-linecap="round"/>
<text x="1060" y="44" font-size="50" fill="#000" stroke="#000" stroke-width="0.6">c</text>
<text x="1139.5" y="173" font-size="27.4" fill="#000"  stroke="#000" stroke-width="0.35">5 min</text>
<text x="1384.5" y="173" font-size="27.4" fill="#000"  stroke="#000" stroke-width="0.35">6 min</text>
<text x="1626.5" y="173" font-size="27.4" fill="#000"  stroke="#000" stroke-width="0.35">7 min</text>
<text x="1869.5" y="173" font-size="27.4" fill="#000"  stroke="#000" stroke-width="0.35">8 min</text>
<clipPath id="pc1"><rect x="1094.8" y="179.8" width="156" height="156"/></clipPath>
<g clip-path="url(#pc1)">
<rect x="1094.8" y="179.8" width="156" height="156" fill="#a9492b" />
<defs><radialGradient id="pcg1" gradientUnits="userSpaceOnUse" cx="1174.4" cy="272" r="117"><stop offset="0" stop-color="#b8522c"/><stop offset="0.6" stop-color="#b04e2c"/><stop offset="1" stop-color="#a84e34"/></radialGradient></defs>
<rect x="1094.8" y="179.8" width="156" height="156" fill="url(#pcg1)" />
<path d="M1142.79,292.2 L1206.01,292.2 L1209.52,335.8 L1134.89,335.8 Z" fill="#c0552c"/>
<g fill="none" stroke="#8e6a6c" stroke-width="3"><path d="M1204.1,320.65 L1257.76,408.57 A10.05,10.05 0 0 0 1274.22,397.04 L1209.96,316.55 A3.58,3.58 0 0 0 1204.1,320.65 Z"/><path d="M1214.85,312.16 L1287.95,384.72 A10.05,10.05 0 0 0 1301.18,369.6 L1219.57,306.77 A3.58,3.58 0 0 0 1214.85,312.16 Z"/><path d="M1223.27,301.34 L1311.57,354.36 A10.05,10.05 0 0 0 1320.82,336.52 L1226.56,294.98 A3.58,3.58 0 0 0 1223.27,301.34 Z"/><path d="M1228.86,288.83 L1327.27,319.24 A10.05,10.05 0 0 0 1331.98,299.71 L1230.54,281.87 A3.58,3.58 0 0 0 1228.86,288.83 Z"/><path d="M1231.3,275.34 L1334.12,281.38 A10.05,10.05 0 0 0 1334.04,261.29 L1231.27,268.18 A3.58,3.58 0 0 0 1231.3,275.34 Z"/><path d="M1230.46,261.66 L1331.75,242.99 A10.05,10.05 0 0 0 1326.87,223.49 L1228.72,254.72 A3.58,3.58 0 0 0 1230.46,261.66 Z"/><path d="M1226.37,248.58 L1320.27,206.27 A10.05,10.05 0 0 0 1310.88,188.5 L1223.02,242.25 A3.58,3.58 0 0 0 1226.37,248.58 Z"/><path d="M1219.28,236.86 L1300.37,173.35 A10.05,10.05 0 0 0 1287.01,158.34 L1214.52,231.51 A3.58,3.58 0 0 0 1219.28,236.86 Z"/><path d="M1209.59,227.16 L1273.18,146.13 A10.05,10.05 0 0 0 1256.62,134.74 L1203.69,223.1 A3.58,3.58 0 0 0 1209.59,227.16 Z"/><path d="M1197.87,220.06 L1240.28,126.19 A10.05,10.05 0 0 0 1221.48,119.08 L1191.17,217.52 A3.58,3.58 0 0 0 1197.87,220.06 Z"/><path d="M1184.79,215.96 L1203.57,114.68 A10.05,10.05 0 0 0 1183.62,112.27 L1177.69,215.09 A3.58,3.58 0 0 0 1184.79,215.96 Z"/><path d="M1171.11,215.09 L1165.18,112.27 A10.05,10.05 0 0 0 1145.23,114.68 L1164.01,215.96 A3.58,3.58 0 0 0 1171.11,215.09 Z"/><path d="M1157.63,217.52 L1127.32,119.08 A10.05,10.05 0 0 0 1108.52,126.19 L1150.93,220.06 A3.58,3.58 0 0 0 1157.63,217.52 Z"/><path d="M1145.11,223.1 L1092.18,134.74 A10.05,10.05 0 0 0 1075.62,146.13 L1139.21,227.16 A3.58,3.58 0 0 0 1145.11,223.1 Z"/><path d="M1134.28,231.51 L1061.79,158.34 A10.05,10.05 0 0 0 1048.43,173.35 L1129.52,236.86 A3.58,3.58 0 0 0 1134.28,231.51 Z"/><path d="M1125.78,242.25 L1037.92,188.5 A10.05,10.05 0 0 0 1028.53,206.27 L1122.43,248.58 A3.58,3.58 0 0 0 1125.78,242.25 Z"/><path d="M1120.08,254.72 L1021.93,223.49 A10.05,10.05 0 0 0 1017.05,242.99 L1118.34,261.66 A3.58,3.58 0 0 0 1120.08,254.72 Z"/><path d="M1117.53,268.18 L1014.76,261.29 A10.05,10.05 0 0 0 1014.68,281.38 L1117.5,275.34 A3.58,3.58 0 0 0 1117.53,268.18 Z"/><path d="M1118.26,281.87 L1016.82,299.71 A10.05,10.05 0 0 0 1021.53,319.24 L1119.94,288.83 A3.58,3.58 0 0 0 1118.26,281.87 Z"/><path d="M1122.24,294.98 L1027.98,336.52 A10.05,10.05 0 0 0 1037.23,354.36 L1125.53,301.34 A3.58,3.58 0 0 0 1122.24,294.98 Z"/><path d="M1129.23,306.77 L1047.62,369.6 A10.05,10.05 0 0 0 1060.85,384.72 L1133.95,312.16 A3.58,3.58 0 0 0 1129.23,306.77 Z"/><path d="M1138.84,316.55 L1074.58,397.04 A10.05,10.05 0 0 0 1091.04,408.57 L1144.7,320.65 A3.58,3.58 0 0 0 1138.84,316.55 Z"/></g>
<g fill="none" stroke="#d4c4d2" stroke-width="1.7"><path d="M1204.1,320.65 L1257.76,408.57 A10.05,10.05 0 0 0 1274.22,397.04 L1209.96,316.55 A3.58,3.58 0 0 0 1204.1,320.65 Z"/><path d="M1214.85,312.16 L1287.95,384.72 A10.05,10.05 0 0 0 1301.18,369.6 L1219.57,306.77 A3.58,3.58 0 0 0 1214.85,312.16 Z"/><path d="M1223.27,301.34 L1311.57,354.36 A10.05,10.05 0 0 0 1320.82,336.52 L1226.56,294.98 A3.58,3.58 0 0 0 1223.27,301.34 Z"/><path d="M1228.86,288.83 L1327.27,319.24 A10.05,10.05 0 0 0 1331.98,299.71 L1230.54,281.87 A3.58,3.58 0 0 0 1228.86,288.83 Z"/><path d="M1231.3,275.34 L1334.12,281.38 A10.05,10.05 0 0 0 1334.04,261.29 L1231.27,268.18 A3.58,3.58 0 0 0 1231.3,275.34 Z"/><path d="M1230.46,261.66 L1331.75,242.99 A10.05,10.05 0 0 0 1326.87,223.49 L1228.72,254.72 A3.58,3.58 0 0 0 1230.46,261.66 Z"/><path d="M1226.37,248.58 L1320.27,206.27 A10.05,10.05 0 0 0 1310.88,188.5 L1223.02,242.25 A3.58,3.58 0 0 0 1226.37,248.58 Z"/><path d="M1219.28,236.86 L1300.37,173.35 A10.05,10.05 0 0 0 1287.01,158.34 L1214.52,231.51 A3.58,3.58 0 0 0 1219.28,236.86 Z"/><path d="M1209.59,227.16 L1273.18,146.13 A10.05,10.05 0 0 0 1256.62,134.74 L1203.69,223.1 A3.58,3.58 0 0 0 1209.59,227.16 Z"/><path d="M1197.87,220.06 L1240.28,126.19 A10.05,10.05 0 0 0 1221.48,119.08 L1191.17,217.52 A3.58,3.58 0 0 0 1197.87,220.06 Z"/><path d="M1184.79,215.96 L1203.57,114.68 A10.05,10.05 0 0 0 1183.62,112.27 L1177.69,215.09 A3.58,3.58 0 0 0 1184.79,215.96 Z"/><path d="M1171.11,215.09 L1165.18,112.27 A10.05,10.05 0 0 0 1145.23,114.68 L1164.01,215.96 A3.58,3.58 0 0 0 1171.11,215.09 Z"/><path d="M1157.63,217.52 L1127.32,119.08 A10.05,10.05 0 0 0 1108.52,126.19 L1150.93,220.06 A3.58,3.58 0 0 0 1157.63,217.52 Z"/><path d="M1145.11,223.1 L1092.18,134.74 A10.05,10.05 0 0 0 1075.62,146.13 L1139.21,227.16 A3.58,3.58 0 0 0 1145.11,223.1 Z"/><path d="M1134.28,231.51 L1061.79,158.34 A10.05,10.05 0 0 0 1048.43,173.35 L1129.52,236.86 A3.58,3.58 0 0 0 1134.28,231.51 Z"/><path d="M1125.78,242.25 L1037.92,188.5 A10.05,10.05 0 0 0 1028.53,206.27 L1122.43,248.58 A3.58,3.58 0 0 0 1125.78,242.25 Z"/><path d="M1120.08,254.72 L1021.93,223.49 A10.05,10.05 0 0 0 1017.05,242.99 L1118.34,261.66 A3.58,3.58 0 0 0 1120.08,254.72 Z"/><path d="M1117.53,268.18 L1014.76,261.29 A10.05,10.05 0 0 0 1014.68,281.38 L1117.5,275.34 A3.58,3.58 0 0 0 1117.53,268.18 Z"/><path d="M1118.26,281.87 L1016.82,299.71 A10.05,10.05 0 0 0 1021.53,319.24 L1119.94,288.83 A3.58,3.58 0 0 0 1118.26,281.87 Z"/><path d="M1122.24,294.98 L1027.98,336.52 A10.05,10.05 0 0 0 1037.23,354.36 L1125.53,301.34 A3.58,3.58 0 0 0 1122.24,294.98 Z"/><path d="M1129.23,306.77 L1047.62,369.6 A10.05,10.05 0 0 0 1060.85,384.72 L1133.95,312.16 A3.58,3.58 0 0 0 1129.23,306.77 Z"/><path d="M1138.84,316.55 L1074.58,397.04 A10.05,10.05 0 0 0 1091.04,408.57 L1144.7,320.65 A3.58,3.58 0 0 0 1138.84,316.55 Z"/></g>
<path d="M1133.42,295.2 A46.9,46.9 0 1 1 1215.38,295.2 Z" fill="none" stroke="#8a3a22" stroke-width="4" opacity="0.45"/>
<path d="M1135.22,292.2 A43.9,43.9 0 1 1 1213.58,292.2 Z" fill="#bfe5f3" stroke="#5a3a30" stroke-width="1.2"/>
</g>
<clipPath id="pc2"><rect x="1338" y="178" width="159" height="158"/></clipPath>
<g clip-path="url(#pc2)">
<rect x="1338" y="178" width="159" height="158" fill="#a9492b" />
<defs><radialGradient id="pcg2" gradientUnits="userSpaceOnUse" cx="1419.5" cy="272" r="119.25"><stop offset="0" stop-color="#b8522c"/><stop offset="0.6" stop-color="#b04e2c"/><stop offset="1" stop-color="#a84e34"/></radialGradient></defs>
<rect x="1338" y="178" width="159" height="158" fill="url(#pcg2)" />
<path d="M1387.46,292.5 L1451.54,292.5 L1455.1,336 L1379.45,336 Z" fill="#c0552c"/>
<g fill="none" stroke="#8e6a6c" stroke-width="3"><path d="M1449.2,320.65 L1502.86,408.57 A10.05,10.05 0 0 0 1519.32,397.04 L1455.06,316.55 A3.58,3.58 0 0 0 1449.2,320.65 Z"/><path d="M1459.95,312.16 L1533.05,384.72 A10.05,10.05 0 0 0 1546.28,369.6 L1464.67,306.77 A3.58,3.58 0 0 0 1459.95,312.16 Z"/><path d="M1468.37,301.34 L1556.67,354.36 A10.05,10.05 0 0 0 1565.92,336.52 L1471.66,294.98 A3.58,3.58 0 0 0 1468.37,301.34 Z"/><path d="M1473.96,288.83 L1572.37,319.24 A10.05,10.05 0 0 0 1577.08,299.71 L1475.64,281.87 A3.58,3.58 0 0 0 1473.96,288.83 Z"/><path d="M1476.4,275.34 L1579.22,281.38 A10.05,10.05 0 0 0 1579.14,261.29 L1476.37,268.18 A3.58,3.58 0 0 0 1476.4,275.34 Z"/><path d="M1475.56,261.66 L1576.85,242.99 A10.05,10.05 0 0 0 1571.97,223.49 L1473.82,254.72 A3.58,3.58 0 0 0 1475.56,261.66 Z"/><path d="M1471.47,248.58 L1565.37,206.27 A10.05,10.05 0 0 0 1555.98,188.5 L1468.12,242.25 A3.58,3.58 0 0 0 1471.47,248.58 Z"/><path d="M1464.38,236.86 L1545.47,173.35 A10.05,10.05 0 0 0 1532.11,158.34 L1459.62,231.51 A3.58,3.58 0 0 0 1464.38,236.86 Z"/><path d="M1454.69,227.16 L1518.28,146.13 A10.05,10.05 0 0 0 1501.72,134.74 L1448.79,223.1 A3.58,3.58 0 0 0 1454.69,227.16 Z"/><path d="M1442.97,220.06 L1485.38,126.19 A10.05,10.05 0 0 0 1466.58,119.08 L1436.27,217.52 A3.58,3.58 0 0 0 1442.97,220.06 Z"/><path d="M1429.89,215.96 L1448.67,114.68 A10.05,10.05 0 0 0 1428.72,112.27 L1422.79,215.09 A3.58,3.58 0 0 0 1429.89,215.96 Z"/><path d="M1416.21,215.09 L1410.28,112.27 A10.05,10.05 0 0 0 1390.33,114.68 L1409.11,215.96 A3.58,3.58 0 0 0 1416.21,215.09 Z"/><path d="M1402.73,217.52 L1372.42,119.08 A10.05,10.05 0 0 0 1353.62,126.19 L1396.03,220.06 A3.58,3.58 0 0 0 1402.73,217.52 Z"/><path d="M1390.21,223.1 L1337.28,134.74 A10.05,10.05 0 0 0 1320.72,146.13 L1384.31,227.16 A3.58,3.58 0 0 0 1390.21,223.1 Z"/><path d="M1379.38,231.51 L1306.89,158.34 A10.05,10.05 0 0 0 1293.53,173.35 L1374.62,236.86 A3.58,3.58 0 0 0 1379.38,231.51 Z"/><path d="M1370.88,242.25 L1283.02,188.5 A10.05,10.05 0 0 0 1273.63,206.27 L1367.53,248.58 A3.58,3.58 0 0 0 1370.88,242.25 Z"/><path d="M1365.18,254.72 L1267.03,223.49 A10.05,10.05 0 0 0 1262.15,242.99 L1363.44,261.66 A3.58,3.58 0 0 0 1365.18,254.72 Z"/><path d="M1362.63,268.18 L1259.86,261.29 A10.05,10.05 0 0 0 1259.78,281.38 L1362.6,275.34 A3.58,3.58 0 0 0 1362.63,268.18 Z"/><path d="M1363.36,281.87 L1261.92,299.71 A10.05,10.05 0 0 0 1266.63,319.24 L1365.04,288.83 A3.58,3.58 0 0 0 1363.36,281.87 Z"/><path d="M1367.34,294.98 L1273.08,336.52 A10.05,10.05 0 0 0 1282.33,354.36 L1370.63,301.34 A3.58,3.58 0 0 0 1367.34,294.98 Z"/><path d="M1374.33,306.77 L1292.72,369.6 A10.05,10.05 0 0 0 1305.95,384.72 L1379.05,312.16 A3.58,3.58 0 0 0 1374.33,306.77 Z"/><path d="M1383.94,316.55 L1319.68,397.04 A10.05,10.05 0 0 0 1336.14,408.57 L1389.8,320.65 A3.58,3.58 0 0 0 1383.94,316.55 Z"/></g>
<g fill="none" stroke="#d4c4d2" stroke-width="1.7"><path d="M1449.2,320.65 L1502.86,408.57 A10.05,10.05 0 0 0 1519.32,397.04 L1455.06,316.55 A3.58,3.58 0 0 0 1449.2,320.65 Z"/><path d="M1459.95,312.16 L1533.05,384.72 A10.05,10.05 0 0 0 1546.28,369.6 L1464.67,306.77 A3.58,3.58 0 0 0 1459.95,312.16 Z"/><path d="M1468.37,301.34 L1556.67,354.36 A10.05,10.05 0 0 0 1565.92,336.52 L1471.66,294.98 A3.58,3.58 0 0 0 1468.37,301.34 Z"/><path d="M1473.96,288.83 L1572.37,319.24 A10.05,10.05 0 0 0 1577.08,299.71 L1475.64,281.87 A3.58,3.58 0 0 0 1473.96,288.83 Z"/><path d="M1476.4,275.34 L1579.22,281.38 A10.05,10.05 0 0 0 1579.14,261.29 L1476.37,268.18 A3.58,3.58 0 0 0 1476.4,275.34 Z"/><path d="M1475.56,261.66 L1576.85,242.99 A10.05,10.05 0 0 0 1571.97,223.49 L1473.82,254.72 A3.58,3.58 0 0 0 1475.56,261.66 Z"/><path d="M1471.47,248.58 L1565.37,206.27 A10.05,10.05 0 0 0 1555.98,188.5 L1468.12,242.25 A3.58,3.58 0 0 0 1471.47,248.58 Z"/><path d="M1464.38,236.86 L1545.47,173.35 A10.05,10.05 0 0 0 1532.11,158.34 L1459.62,231.51 A3.58,3.58 0 0 0 1464.38,236.86 Z"/><path d="M1454.69,227.16 L1518.28,146.13 A10.05,10.05 0 0 0 1501.72,134.74 L1448.79,223.1 A3.58,3.58 0 0 0 1454.69,227.16 Z"/><path d="M1442.97,220.06 L1485.38,126.19 A10.05,10.05 0 0 0 1466.58,119.08 L1436.27,217.52 A3.58,3.58 0 0 0 1442.97,220.06 Z"/><path d="M1429.89,215.96 L1448.67,114.68 A10.05,10.05 0 0 0 1428.72,112.27 L1422.79,215.09 A3.58,3.58 0 0 0 1429.89,215.96 Z"/><path d="M1416.21,215.09 L1410.28,112.27 A10.05,10.05 0 0 0 1390.33,114.68 L1409.11,215.96 A3.58,3.58 0 0 0 1416.21,215.09 Z"/><path d="M1402.73,217.52 L1372.42,119.08 A10.05,10.05 0 0 0 1353.62,126.19 L1396.03,220.06 A3.58,3.58 0 0 0 1402.73,217.52 Z"/><path d="M1390.21,223.1 L1337.28,134.74 A10.05,10.05 0 0 0 1320.72,146.13 L1384.31,227.16 A3.58,3.58 0 0 0 1390.21,223.1 Z"/><path d="M1379.38,231.51 L1306.89,158.34 A10.05,10.05 0 0 0 1293.53,173.35 L1374.62,236.86 A3.58,3.58 0 0 0 1379.38,231.51 Z"/><path d="M1370.88,242.25 L1283.02,188.5 A10.05,10.05 0 0 0 1273.63,206.27 L1367.53,248.58 A3.58,3.58 0 0 0 1370.88,242.25 Z"/><path d="M1365.18,254.72 L1267.03,223.49 A10.05,10.05 0 0 0 1262.15,242.99 L1363.44,261.66 A3.58,3.58 0 0 0 1365.18,254.72 Z"/><path d="M1362.63,268.18 L1259.86,261.29 A10.05,10.05 0 0 0 1259.78,281.38 L1362.6,275.34 A3.58,3.58 0 0 0 1362.63,268.18 Z"/><path d="M1363.36,281.87 L1261.92,299.71 A10.05,10.05 0 0 0 1266.63,319.24 L1365.04,288.83 A3.58,3.58 0 0 0 1363.36,281.87 Z"/><path d="M1367.34,294.98 L1273.08,336.52 A10.05,10.05 0 0 0 1282.33,354.36 L1370.63,301.34 A3.58,3.58 0 0 0 1367.34,294.98 Z"/><path d="M1374.33,306.77 L1292.72,369.6 A10.05,10.05 0 0 0 1305.95,384.72 L1379.05,312.16 A3.58,3.58 0 0 0 1374.33,306.77 Z"/><path d="M1383.94,316.55 L1319.68,397.04 A10.05,10.05 0 0 0 1336.14,408.57 L1389.8,320.65 A3.58,3.58 0 0 0 1383.94,316.55 Z"/></g>
<path d="M1377.4,295.5 A47.5,47.5 0 1 1 1461.6,295.5 Z" fill="none" stroke="#8a3a22" stroke-width="4" opacity="0.45"/>
<path d="M1379.26,292.5 A44.5,44.5 0 1 1 1459.74,292.5 Z" fill="#c2e4f2" stroke="#5a3a30" stroke-width="1.2"/>
</g>
<clipPath id="pc3"><rect x="1581" y="179" width="159" height="159"/></clipPath>
<g clip-path="url(#pc3)">
<rect x="1581" y="179" width="159" height="159" fill="#a9492b" />
<defs><radialGradient id="pcg3" gradientUnits="userSpaceOnUse" cx="1663" cy="271" r="119.25"><stop offset="0" stop-color="#b8522c"/><stop offset="0.6" stop-color="#b04e2c"/><stop offset="1" stop-color="#a84e34"/></radialGradient></defs>
<rect x="1581" y="179" width="159" height="159" fill="url(#pcg3)" />
<path d="M1630.6,293 L1695.4,293 L1699,338 L1622.5,338 Z" fill="#c0552c"/>
<g fill="none" stroke="#8e6a6c" stroke-width="3"><path d="M1692.7,319.65 L1746.36,407.57 A10.05,10.05 0 0 0 1762.82,396.04 L1698.56,315.55 A3.58,3.58 0 0 0 1692.7,319.65 Z"/><path d="M1703.45,311.16 L1776.55,383.72 A10.05,10.05 0 0 0 1789.78,368.6 L1708.17,305.77 A3.58,3.58 0 0 0 1703.45,311.16 Z"/><path d="M1711.87,300.34 L1800.17,353.36 A10.05,10.05 0 0 0 1809.42,335.52 L1715.16,293.98 A3.58,3.58 0 0 0 1711.87,300.34 Z"/><path d="M1717.46,287.83 L1815.87,318.24 A10.05,10.05 0 0 0 1820.58,298.71 L1719.14,280.87 A3.58,3.58 0 0 0 1717.46,287.83 Z"/><path d="M1719.9,274.34 L1822.72,280.38 A10.05,10.05 0 0 0 1822.64,260.29 L1719.87,267.18 A3.58,3.58 0 0 0 1719.9,274.34 Z"/><path d="M1719.06,260.66 L1820.35,241.99 A10.05,10.05 0 0 0 1815.47,222.49 L1717.32,253.72 A3.58,3.58 0 0 0 1719.06,260.66 Z"/><path d="M1714.97,247.58 L1808.87,205.27 A10.05,10.05 0 0 0 1799.48,187.5 L1711.62,241.25 A3.58,3.58 0 0 0 1714.97,247.58 Z"/><path d="M1707.88,235.86 L1788.97,172.35 A10.05,10.05 0 0 0 1775.61,157.34 L1703.12,230.51 A3.58,3.58 0 0 0 1707.88,235.86 Z"/><path d="M1698.19,226.16 L1761.78,145.13 A10.05,10.05 0 0 0 1745.22,133.74 L1692.29,222.1 A3.58,3.58 0 0 0 1698.19,226.16 Z"/><path d="M1686.47,219.06 L1728.88,125.19 A10.05,10.05 0 0 0 1710.08,118.08 L1679.77,216.52 A3.58,3.58 0 0 0 1686.47,219.06 Z"/><path d="M1673.39,214.96 L1692.17,113.68 A10.05,10.05 0 0 0 1672.22,111.27 L1666.29,214.09 A3.58,3.58 0 0 0 1673.39,214.96 Z"/><path d="M1659.71,214.09 L1653.78,111.27 A10.05,10.05 0 0 0 1633.83,113.68 L1652.61,214.96 A3.58,3.58 0 0 0 1659.71,214.09 Z"/><path d="M1646.23,216.52 L1615.92,118.08 A10.05,10.05 0 0 0 1597.12,125.19 L1639.53,219.06 A3.58,3.58 0 0 0 1646.23,216.52 Z"/><path d="M1633.71,222.1 L1580.78,133.74 A10.05,10.05 0 0 0 1564.22,145.13 L1627.81,226.16 A3.58,3.58 0 0 0 1633.71,222.1 Z"/><path d="M1622.88,230.51 L1550.39,157.34 A10.05,10.05 0 0 0 1537.03,172.35 L1618.12,235.86 A3.58,3.58 0 0 0 1622.88,230.51 Z"/><path d="M1614.38,241.25 L1526.52,187.5 A10.05,10.05 0 0 0 1517.13,205.27 L1611.03,247.58 A3.58,3.58 0 0 0 1614.38,241.25 Z"/><path d="M1608.68,253.72 L1510.53,222.49 A10.05,10.05 0 0 0 1505.65,241.99 L1606.94,260.66 A3.58,3.58 0 0 0 1608.68,253.72 Z"/><path d="M1606.13,267.18 L1503.36,260.29 A10.05,10.05 0 0 0 1503.28,280.38 L1606.1,274.34 A3.58,3.58 0 0 0 1606.13,267.18 Z"/><path d="M1606.86,280.87 L1505.42,298.71 A10.05,10.05 0 0 0 1510.13,318.24 L1608.54,287.83 A3.58,3.58 0 0 0 1606.86,280.87 Z"/><path d="M1610.84,293.98 L1516.58,335.52 A10.05,10.05 0 0 0 1525.83,353.36 L1614.13,300.34 A3.58,3.58 0 0 0 1610.84,293.98 Z"/><path d="M1617.83,305.77 L1536.22,368.6 A10.05,10.05 0 0 0 1549.45,383.72 L1622.55,311.16 A3.58,3.58 0 0 0 1617.83,305.77 Z"/><path d="M1627.44,315.55 L1563.18,396.04 A10.05,10.05 0 0 0 1579.64,407.57 L1633.3,319.65 A3.58,3.58 0 0 0 1627.44,315.55 Z"/></g>
<g fill="none" stroke="#d4c4d2" stroke-width="1.7"><path d="M1692.7,319.65 L1746.36,407.57 A10.05,10.05 0 0 0 1762.82,396.04 L1698.56,315.55 A3.58,3.58 0 0 0 1692.7,319.65 Z"/><path d="M1703.45,311.16 L1776.55,383.72 A10.05,10.05 0 0 0 1789.78,368.6 L1708.17,305.77 A3.58,3.58 0 0 0 1703.45,311.16 Z"/><path d="M1711.87,300.34 L1800.17,353.36 A10.05,10.05 0 0 0 1809.42,335.52 L1715.16,293.98 A3.58,3.58 0 0 0 1711.87,300.34 Z"/><path d="M1717.46,287.83 L1815.87,318.24 A10.05,10.05 0 0 0 1820.58,298.71 L1719.14,280.87 A3.58,3.58 0 0 0 1717.46,287.83 Z"/><path d="M1719.9,274.34 L1822.72,280.38 A10.05,10.05 0 0 0 1822.64,260.29 L1719.87,267.18 A3.58,3.58 0 0 0 1719.9,274.34 Z"/><path d="M1719.06,260.66 L1820.35,241.99 A10.05,10.05 0 0 0 1815.47,222.49 L1717.32,253.72 A3.58,3.58 0 0 0 1719.06,260.66 Z"/><path d="M1714.97,247.58 L1808.87,205.27 A10.05,10.05 0 0 0 1799.48,187.5 L1711.62,241.25 A3.58,3.58 0 0 0 1714.97,247.58 Z"/><path d="M1707.88,235.86 L1788.97,172.35 A10.05,10.05 0 0 0 1775.61,157.34 L1703.12,230.51 A3.58,3.58 0 0 0 1707.88,235.86 Z"/><path d="M1698.19,226.16 L1761.78,145.13 A10.05,10.05 0 0 0 1745.22,133.74 L1692.29,222.1 A3.58,3.58 0 0 0 1698.19,226.16 Z"/><path d="M1686.47,219.06 L1728.88,125.19 A10.05,10.05 0 0 0 1710.08,118.08 L1679.77,216.52 A3.58,3.58 0 0 0 1686.47,219.06 Z"/><path d="M1673.39,214.96 L1692.17,113.68 A10.05,10.05 0 0 0 1672.22,111.27 L1666.29,214.09 A3.58,3.58 0 0 0 1673.39,214.96 Z"/><path d="M1659.71,214.09 L1653.78,111.27 A10.05,10.05 0 0 0 1633.83,113.68 L1652.61,214.96 A3.58,3.58 0 0 0 1659.71,214.09 Z"/><path d="M1646.23,216.52 L1615.92,118.08 A10.05,10.05 0 0 0 1597.12,125.19 L1639.53,219.06 A3.58,3.58 0 0 0 1646.23,216.52 Z"/><path d="M1633.71,222.1 L1580.78,133.74 A10.05,10.05 0 0 0 1564.22,145.13 L1627.81,226.16 A3.58,3.58 0 0 0 1633.71,222.1 Z"/><path d="M1622.88,230.51 L1550.39,157.34 A10.05,10.05 0 0 0 1537.03,172.35 L1618.12,235.86 A3.58,3.58 0 0 0 1622.88,230.51 Z"/><path d="M1614.38,241.25 L1526.52,187.5 A10.05,10.05 0 0 0 1517.13,205.27 L1611.03,247.58 A3.58,3.58 0 0 0 1614.38,241.25 Z"/><path d="M1608.68,253.72 L1510.53,222.49 A10.05,10.05 0 0 0 1505.65,241.99 L1606.94,260.66 A3.58,3.58 0 0 0 1608.68,253.72 Z"/><path d="M1606.13,267.18 L1503.36,260.29 A10.05,10.05 0 0 0 1503.28,280.38 L1606.1,274.34 A3.58,3.58 0 0 0 1606.13,267.18 Z"/><path d="M1606.86,280.87 L1505.42,298.71 A10.05,10.05 0 0 0 1510.13,318.24 L1608.54,287.83 A3.58,3.58 0 0 0 1606.86,280.87 Z"/><path d="M1610.84,293.98 L1516.58,335.52 A10.05,10.05 0 0 0 1525.83,353.36 L1614.13,300.34 A3.58,3.58 0 0 0 1610.84,293.98 Z"/><path d="M1617.83,305.77 L1536.22,368.6 A10.05,10.05 0 0 0 1549.45,383.72 L1622.55,311.16 A3.58,3.58 0 0 0 1617.83,305.77 Z"/><path d="M1627.44,315.55 L1563.18,396.04 A10.05,10.05 0 0 0 1579.64,407.57 L1633.3,319.65 A3.58,3.58 0 0 0 1627.44,315.55 Z"/></g>
<path d="M1621.43,296 A48,48 0 1 1 1704.57,296 Z" fill="none" stroke="#8a3a22" stroke-width="4" opacity="0.45"/>
<path d="M1623.2,293 A45,45 0 1 1 1702.8,293 Z" fill="#c6e2f0" stroke="#5a3a30" stroke-width="1.2"/>
</g>
<clipPath id="pc4"><rect x="1819" y="182" width="152" height="152"/></clipPath>
<g clip-path="url(#pc4)">
<rect x="1819" y="182" width="152" height="152" fill="#a9492b" />
<defs><radialGradient id="pcg4" gradientUnits="userSpaceOnUse" cx="1897.5" cy="268" r="114"><stop offset="0" stop-color="#b8522c"/><stop offset="0.6" stop-color="#b04e2c"/><stop offset="1" stop-color="#a84e34"/></radialGradient></defs>
<rect x="1819" y="182" width="152" height="152" fill="url(#pcg4)" />
<path d="M1866.18,289 L1928.82,289 L1932.3,334 L1858.35,334 Z" fill="#c0552c"/>
<g fill="none" stroke="#8e6a6c" stroke-width="3"><path d="M1927.2,316.65 L1980.86,404.57 A10.05,10.05 0 0 0 1997.32,393.04 L1933.06,312.55 A3.58,3.58 0 0 0 1927.2,316.65 Z"/><path d="M1937.95,308.16 L2011.05,380.72 A10.05,10.05 0 0 0 2024.28,365.6 L1942.67,302.77 A3.58,3.58 0 0 0 1937.95,308.16 Z"/><path d="M1946.37,297.34 L2034.67,350.36 A10.05,10.05 0 0 0 2043.92,332.52 L1949.66,290.98 A3.58,3.58 0 0 0 1946.37,297.34 Z"/><path d="M1951.96,284.83 L2050.37,315.24 A10.05,10.05 0 0 0 2055.08,295.71 L1953.64,277.87 A3.58,3.58 0 0 0 1951.96,284.83 Z"/><path d="M1954.4,271.34 L2057.22,277.38 A10.05,10.05 0 0 0 2057.14,257.29 L1954.37,264.18 A3.58,3.58 0 0 0 1954.4,271.34 Z"/><path d="M1953.56,257.66 L2054.85,238.99 A10.05,10.05 0 0 0 2049.97,219.49 L1951.82,250.72 A3.58,3.58 0 0 0 1953.56,257.66 Z"/><path d="M1949.47,244.58 L2043.37,202.27 A10.05,10.05 0 0 0 2033.98,184.5 L1946.12,238.25 A3.58,3.58 0 0 0 1949.47,244.58 Z"/><path d="M1942.38,232.86 L2023.47,169.35 A10.05,10.05 0 0 0 2010.11,154.34 L1937.62,227.51 A3.58,3.58 0 0 0 1942.38,232.86 Z"/><path d="M1932.69,223.16 L1996.28,142.13 A10.05,10.05 0 0 0 1979.72,130.74 L1926.79,219.1 A3.58,3.58 0 0 0 1932.69,223.16 Z"/><path d="M1920.97,216.06 L1963.38,122.19 A10.05,10.05 0 0 0 1944.58,115.08 L1914.27,213.52 A3.58,3.58 0 0 0 1920.97,216.06 Z"/><path d="M1907.89,211.96 L1926.67,110.68 A10.05,10.05 0 0 0 1906.72,108.27 L1900.79,211.09 A3.58,3.58 0 0 0 1907.89,211.96 Z"/><path d="M1894.21,211.09 L1888.28,108.27 A10.05,10.05 0 0 0 1868.33,110.68 L1887.11,211.96 A3.58,3.58 0 0 0 1894.21,211.09 Z"/><path d="M1880.73,213.52 L1850.42,115.08 A10.05,10.05 0 0 0 1831.62,122.19 L1874.03,216.06 A3.58,3.58 0 0 0 1880.73,213.52 Z"/><path d="M1868.21,219.1 L1815.28,130.74 A10.05,10.05 0 0 0 1798.72,142.13 L1862.31,223.16 A3.58,3.58 0 0 0 1868.21,219.1 Z"/><path d="M1857.38,227.51 L1784.89,154.34 A10.05,10.05 0 0 0 1771.53,169.35 L1852.62,232.86 A3.58,3.58 0 0 0 1857.38,227.51 Z"/><path d="M1848.88,238.25 L1761.02,184.5 A10.05,10.05 0 0 0 1751.63,202.27 L1845.53,244.58 A3.58,3.58 0 0 0 1848.88,238.25 Z"/><path d="M1843.18,250.72 L1745.03,219.49 A10.05,10.05 0 0 0 1740.15,238.99 L1841.44,257.66 A3.58,3.58 0 0 0 1843.18,250.72 Z"/><path d="M1840.63,264.18 L1737.86,257.29 A10.05,10.05 0 0 0 1737.78,277.38 L1840.6,271.34 A3.58,3.58 0 0 0 1840.63,264.18 Z"/><path d="M1841.36,277.87 L1739.92,295.71 A10.05,10.05 0 0 0 1744.63,315.24 L1843.04,284.83 A3.58,3.58 0 0 0 1841.36,277.87 Z"/><path d="M1845.34,290.98 L1751.08,332.52 A10.05,10.05 0 0 0 1760.33,350.36 L1848.63,297.34 A3.58,3.58 0 0 0 1845.34,290.98 Z"/><path d="M1852.33,302.77 L1770.72,365.6 A10.05,10.05 0 0 0 1783.95,380.72 L1857.05,308.16 A3.58,3.58 0 0 0 1852.33,302.77 Z"/><path d="M1861.94,312.55 L1797.68,393.04 A10.05,10.05 0 0 0 1814.14,404.57 L1867.8,316.65 A3.58,3.58 0 0 0 1861.94,312.55 Z"/></g>
<g fill="none" stroke="#d4c4d2" stroke-width="1.7"><path d="M1927.2,316.65 L1980.86,404.57 A10.05,10.05 0 0 0 1997.32,393.04 L1933.06,312.55 A3.58,3.58 0 0 0 1927.2,316.65 Z"/><path d="M1937.95,308.16 L2011.05,380.72 A10.05,10.05 0 0 0 2024.28,365.6 L1942.67,302.77 A3.58,3.58 0 0 0 1937.95,308.16 Z"/><path d="M1946.37,297.34 L2034.67,350.36 A10.05,10.05 0 0 0 2043.92,332.52 L1949.66,290.98 A3.58,3.58 0 0 0 1946.37,297.34 Z"/><path d="M1951.96,284.83 L2050.37,315.24 A10.05,10.05 0 0 0 2055.08,295.71 L1953.64,277.87 A3.58,3.58 0 0 0 1951.96,284.83 Z"/><path d="M1954.4,271.34 L2057.22,277.38 A10.05,10.05 0 0 0 2057.14,257.29 L1954.37,264.18 A3.58,3.58 0 0 0 1954.4,271.34 Z"/><path d="M1953.56,257.66 L2054.85,238.99 A10.05,10.05 0 0 0 2049.97,219.49 L1951.82,250.72 A3.58,3.58 0 0 0 1953.56,257.66 Z"/><path d="M1949.47,244.58 L2043.37,202.27 A10.05,10.05 0 0 0 2033.98,184.5 L1946.12,238.25 A3.58,3.58 0 0 0 1949.47,244.58 Z"/><path d="M1942.38,232.86 L2023.47,169.35 A10.05,10.05 0 0 0 2010.11,154.34 L1937.62,227.51 A3.58,3.58 0 0 0 1942.38,232.86 Z"/><path d="M1932.69,223.16 L1996.28,142.13 A10.05,10.05 0 0 0 1979.72,130.74 L1926.79,219.1 A3.58,3.58 0 0 0 1932.69,223.16 Z"/><path d="M1920.97,216.06 L1963.38,122.19 A10.05,10.05 0 0 0 1944.58,115.08 L1914.27,213.52 A3.58,3.58 0 0 0 1920.97,216.06 Z"/><path d="M1907.89,211.96 L1926.67,110.68 A10.05,10.05 0 0 0 1906.72,108.27 L1900.79,211.09 A3.58,3.58 0 0 0 1907.89,211.96 Z"/><path d="M1894.21,211.09 L1888.28,108.27 A10.05,10.05 0 0 0 1868.33,110.68 L1887.11,211.96 A3.58,3.58 0 0 0 1894.21,211.09 Z"/><path d="M1880.73,213.52 L1850.42,115.08 A10.05,10.05 0 0 0 1831.62,122.19 L1874.03,216.06 A3.58,3.58 0 0 0 1880.73,213.52 Z"/><path d="M1868.21,219.1 L1815.28,130.74 A10.05,10.05 0 0 0 1798.72,142.13 L1862.31,223.16 A3.58,3.58 0 0 0 1868.21,219.1 Z"/><path d="M1857.38,227.51 L1784.89,154.34 A10.05,10.05 0 0 0 1771.53,169.35 L1852.62,232.86 A3.58,3.58 0 0 0 1857.38,227.51 Z"/><path d="M1848.88,238.25 L1761.02,184.5 A10.05,10.05 0 0 0 1751.63,202.27 L1845.53,244.58 A3.58,3.58 0 0 0 1848.88,238.25 Z"/><path d="M1843.18,250.72 L1745.03,219.49 A10.05,10.05 0 0 0 1740.15,238.99 L1841.44,257.66 A3.58,3.58 0 0 0 1843.18,250.72 Z"/><path d="M1840.63,264.18 L1737.86,257.29 A10.05,10.05 0 0 0 1737.78,277.38 L1840.6,271.34 A3.58,3.58 0 0 0 1840.63,264.18 Z"/><path d="M1841.36,277.87 L1739.92,295.71 A10.05,10.05 0 0 0 1744.63,315.24 L1843.04,284.83 A3.58,3.58 0 0 0 1841.36,277.87 Z"/><path d="M1845.34,290.98 L1751.08,332.52 A10.05,10.05 0 0 0 1760.33,350.36 L1848.63,297.34 A3.58,3.58 0 0 0 1845.34,290.98 Z"/><path d="M1852.33,302.77 L1770.72,365.6 A10.05,10.05 0 0 0 1783.95,380.72 L1857.05,308.16 A3.58,3.58 0 0 0 1852.33,302.77 Z"/><path d="M1861.94,312.55 L1797.68,393.04 A10.05,10.05 0 0 0 1814.14,404.57 L1867.8,316.65 A3.58,3.58 0 0 0 1861.94,312.55 Z"/></g>
<path d="M1855.76,292 A46.5,46.5 0 1 1 1939.24,292 Z" fill="none" stroke="#8a3a22" stroke-width="4" opacity="0.45"/>
<path d="M1857.68,289 A43.5,43.5 0 1 1 1937.32,289 Z" fill="#bcd8e6" stroke="#5a3a30" stroke-width="1.2"/>
</g>
<line x1="1287.54" y1="544.14" x2="1305.4" y2="549.43" stroke="#0a0c6a" stroke-width="4" />
<line x1="1290.22" y1="521.27" x2="1308.82" y2="520.27" stroke="#0a0c6a" stroke-width="4" />
<line x1="1285.08" y1="498.84" x2="1302.27" y2="491.65" stroke="#0a0c6a" stroke-width="4" />
<line x1="1272.71" y1="479.42" x2="1286.49" y2="466.88" stroke="#0a0c6a" stroke-width="4" />
<line x1="1254.55" y1="465.28" x2="1263.32" y2="448.85" stroke="#0a0c6a" stroke-width="4" />
<line x1="1232.69" y1="458.05" x2="1235.45" y2="439.63" stroke="#0a0c6a" stroke-width="4" />
<line x1="1209.68" y1="458.57" x2="1206.09" y2="440.29" stroke="#0a0c6a" stroke-width="4" />
<line x1="1188.18" y1="466.79" x2="1178.67" y2="450.77" stroke="#0a0c6a" stroke-width="4" />
<line x1="1170.67" y1="481.74" x2="1156.34" y2="469.84" stroke="#0a0c6a" stroke-width="4" />
<line x1="1159.2" y1="501.69" x2="1141.7" y2="495.29" stroke="#0a0c6a" stroke-width="4" />
<line x1="1155.08" y1="524.34" x2="1136.45" y2="524.18" stroke="#0a0c6a" stroke-width="4" />
<line x1="1158.8" y1="547.06" x2="1141.2" y2="553.15" stroke="#0a0c6a" stroke-width="4" />
<clipPath id="ce6"><path d="M1160.4,554.6 A69,69 0 1 1 1285,554.6 Z"/></clipPath>
<g clip-path="url(#ce6)">
<rect x="1148.7" y="444.6" width="148" height="115" fill="#b2ff4c" />
<defs><radialGradient id="rl5" gradientUnits="userSpaceOnUse" cx="0" cy="0" r="1" gradientTransform="translate(1214.7,554.6) scale(70.38,77.28)"><stop offset="0" stop-color="#890000"/><stop offset="0.4" stop-color="#b20000"/><stop offset="0.66" stop-color="#e50000"/><stop offset="0.74" stop-color="#ff2300"/><stop offset="0.82" stop-color="#ff9e00"/><stop offset="0.9" stop-color="#f9ff05"/><stop offset="1" stop-color="#b2ff4c"/></radialGradient></defs><rect x="1130.24" y="461.86" width="168.91" height="185.47" fill="url(#rl5)"/>
<defs><radialGradient id="bl7"><stop offset="0" stop-color="#000088" stop-opacity="1"/><stop offset="0.42" stop-color="#0010c0" stop-opacity="1"/><stop offset="0.6" stop-color="#00b2ff" stop-opacity="0.9"/><stop offset="0.8" stop-color="#6bff93" stop-opacity="0.6"/><stop offset="1" stop-color="#d1ff2d" stop-opacity="0"/></radialGradient></defs>
<ellipse cx="1282.24" cy="542.57" rx="16.56" ry="10.35" fill="url(#bl7)" transform="rotate(16.5 1282.24 542.57)"/>
<ellipse cx="1284.71" cy="521.57" rx="16.56" ry="10.35" fill="url(#bl7)" transform="rotate(-3.1 1284.71 521.57)"/>
<ellipse cx="1279.99" cy="500.97" rx="16.56" ry="10.35" fill="url(#bl7)" transform="rotate(-22.7 1279.99 500.97)"/>
<ellipse cx="1268.63" cy="483.14" rx="16.56" ry="10.35" fill="url(#bl7)" transform="rotate(-42.3 1268.63 483.14)"/>
<ellipse cx="1251.95" cy="470.15" rx="16.56" ry="10.35" fill="url(#bl7)" transform="rotate(-61.9 1251.95 470.15)"/>
<ellipse cx="1231.88" cy="463.51" rx="16.56" ry="10.35" fill="url(#bl7)" transform="rotate(-81.5 1231.88 463.51)"/>
<ellipse cx="1210.74" cy="463.99" rx="16.56" ry="10.35" fill="url(#bl7)" transform="rotate(-101.1 1210.74 463.99)"/>
<ellipse cx="1191" cy="471.53" rx="16.56" ry="10.35" fill="url(#bl7)" transform="rotate(-120.7 1191 471.53)"/>
<ellipse cx="1174.92" cy="485.26" rx="16.56" ry="10.35" fill="url(#bl7)" transform="rotate(-140.3 1174.92 485.26)"/>
<ellipse cx="1164.38" cy="503.59" rx="16.56" ry="10.35" fill="url(#bl7)" transform="rotate(-159.9 1164.38 503.59)"/>
<ellipse cx="1160.6" cy="524.39" rx="16.56" ry="10.35" fill="url(#bl7)" transform="rotate(-179.5 1160.6 524.39)"/>
<ellipse cx="1164.02" cy="545.25" rx="16.56" ry="10.35" fill="url(#bl7)" transform="rotate(-199.1 1164.02 545.25)"/>
</g>
<defs><linearGradient id="ol8" gradientUnits="userSpaceOnUse" x1="1204.76" y1="554.6" x2="1178.54" y2="596"><stop offset="0" stop-color="#c01010"/><stop offset="1" stop-color="#b01818"/></linearGradient></defs>
<line x1="1204.76" y1="554.6" x2="1178.54" y2="596" stroke="url(#ol8)" stroke-width="3.6" stroke-linecap="round"/>
<line x1="1508.64" y1="544.14" x2="1526.5" y2="549.43" stroke="#0a0c6a" stroke-width="4" />
<line x1="1511.32" y1="521.27" x2="1529.92" y2="520.27" stroke="#0a0c6a" stroke-width="4" />
<line x1="1506.18" y1="498.84" x2="1523.37" y2="491.65" stroke="#0a0c6a" stroke-width="4" />
<line x1="1493.81" y1="479.42" x2="1507.59" y2="466.88" stroke="#0a0c6a" stroke-width="4" />
<line x1="1475.65" y1="465.28" x2="1484.42" y2="448.85" stroke="#0a0c6a" stroke-width="4" />
<line x1="1453.79" y1="458.05" x2="1456.55" y2="439.63" stroke="#0a0c6a" stroke-width="4" />
<line x1="1430.78" y1="458.57" x2="1427.19" y2="440.29" stroke="#0a0c6a" stroke-width="4" />
<line x1="1409.28" y1="466.79" x2="1399.77" y2="450.77" stroke="#0a0c6a" stroke-width="4" />
<line x1="1391.77" y1="481.74" x2="1377.44" y2="469.84" stroke="#0a0c6a" stroke-width="4" />
<line x1="1380.3" y1="501.69" x2="1362.8" y2="495.29" stroke="#0a0c6a" stroke-width="4" />
<line x1="1376.18" y1="524.34" x2="1357.55" y2="524.18" stroke="#0a0c6a" stroke-width="4" />
<line x1="1379.9" y1="547.06" x2="1362.3" y2="553.15" stroke="#0a0c6a" stroke-width="4" />
<clipPath id="ce12"><path d="M1381.5,554.6 A69,69 0 1 1 1506.1,554.6 Z"/></clipPath>
<g clip-path="url(#ce12)">
<rect x="1369.8" y="444.6" width="148" height="115" fill="#004cff" />
<defs><radialGradient id="rl9" gradientUnits="userSpaceOnUse" cx="0" cy="0" r="1" gradientTransform="translate(1448.8,562.6) scale(51.75,82.8)"><stop offset="0" stop-color="#ffc600"/><stop offset="0.25" stop-color="#f9ff05"/><stop offset="0.5" stop-color="#4cffb2"/><stop offset="0.75" stop-color="#00c6ff"/><stop offset="1" stop-color="#004cff"/></radialGradient></defs><rect x="1386.7" y="463.24" width="124.2" height="198.72" fill="url(#rl9)"/>
<defs><radialGradient id="rs10" gradientUnits="userSpaceOnUse" cx="0" cy="0" r="1" gradientTransform="translate(1461.8,554.6) scale(41.4,20.7)"><stop offset="0" stop-color="#d10000" stop-opacity="1"/><stop offset="0.45" stop-color="#f90000" stop-opacity="1"/><stop offset="0.75" stop-color="#ff9e00" stop-opacity="0.8"/><stop offset="1" stop-color="#e5ff19" stop-opacity="0"/></radialGradient></defs><ellipse cx="1461.8" cy="554.6" rx="41.4" ry="20.7" fill="url(#rs10)"/>
<defs><radialGradient id="rs11" gradientUnits="userSpaceOnUse" cx="0" cy="0" r="1" gradientTransform="translate(1403.8,554.6) scale(13.8,6.9)"><stop offset="0" stop-color="#ffe500" stop-opacity="1"/><stop offset="0.6" stop-color="#4cffb2" stop-opacity="0.7"/><stop offset="1" stop-color="#00b2ff" stop-opacity="0"/></radialGradient></defs><ellipse cx="1403.8" cy="554.6" rx="13.8" ry="6.9" fill="url(#rs11)"/>
<defs><radialGradient id="bl13"><stop offset="0" stop-color="#000080" stop-opacity="0.9"/><stop offset="0.5" stop-color="#0008a0" stop-opacity="0.7"/><stop offset="1" stop-color="#0010c0" stop-opacity="0"/></radialGradient></defs>
<ellipse cx="1500.03" cy="541.59" rx="19.32" ry="8.28" fill="url(#bl13)" transform="rotate(16.5 1500.03 541.59)"/>
<ellipse cx="1502.36" cy="521.76" rx="19.32" ry="8.28" fill="url(#bl13)" transform="rotate(-3.1 1502.36 521.76)"/>
<ellipse cx="1497.91" cy="502.3" rx="19.32" ry="8.28" fill="url(#bl13)" transform="rotate(-22.7 1497.91 502.3)"/>
<ellipse cx="1487.18" cy="485.46" rx="19.32" ry="8.28" fill="url(#bl13)" transform="rotate(-42.3 1487.18 485.46)"/>
<ellipse cx="1471.42" cy="473.19" rx="19.32" ry="8.28" fill="url(#bl13)" transform="rotate(-61.9 1471.42 473.19)"/>
<ellipse cx="1452.47" cy="466.92" rx="19.32" ry="8.28" fill="url(#bl13)" transform="rotate(-81.5 1452.47 466.92)"/>
<ellipse cx="1432.51" cy="467.38" rx="19.32" ry="8.28" fill="url(#bl13)" transform="rotate(-101.1 1432.51 467.38)"/>
<ellipse cx="1413.86" cy="474.5" rx="19.32" ry="8.28" fill="url(#bl13)" transform="rotate(-120.7 1413.86 474.5)"/>
<ellipse cx="1398.67" cy="487.47" rx="19.32" ry="8.28" fill="url(#bl13)" transform="rotate(-140.3 1398.67 487.47)"/>
<ellipse cx="1388.72" cy="504.77" rx="19.32" ry="8.28" fill="url(#bl13)" transform="rotate(-159.9 1388.72 504.77)"/>
<ellipse cx="1385.15" cy="524.42" rx="19.32" ry="8.28" fill="url(#bl13)" transform="rotate(-179.5 1385.15 524.42)"/>
<ellipse cx="1388.38" cy="544.12" rx="19.32" ry="8.28" fill="url(#bl13)" transform="rotate(-199.1 1388.38 544.12)"/>
</g>
<defs><linearGradient id="ol14" gradientUnits="userSpaceOnUse" x1="1425.86" y1="554.6" x2="1399.64" y2="596"><stop offset="0" stop-color="#d8d040"/><stop offset="1" stop-color="#a0d060"/></linearGradient></defs>
<line x1="1425.86" y1="554.6" x2="1399.64" y2="596" stroke="url(#ol14)" stroke-width="3.6" stroke-linecap="round"/>
<line x1="1732.44" y1="544.14" x2="1750.3" y2="549.43" stroke="#0a0c6a" stroke-width="4" />
<line x1="1735.12" y1="521.27" x2="1753.72" y2="520.27" stroke="#0a0c6a" stroke-width="4" />
<line x1="1729.98" y1="498.84" x2="1747.17" y2="491.65" stroke="#0a0c6a" stroke-width="4" />
<line x1="1717.61" y1="479.42" x2="1731.39" y2="466.88" stroke="#0a0c6a" stroke-width="4" />
<line x1="1699.45" y1="465.28" x2="1708.22" y2="448.85" stroke="#0a0c6a" stroke-width="4" />
<line x1="1677.59" y1="458.05" x2="1680.35" y2="439.63" stroke="#0a0c6a" stroke-width="4" />
<line x1="1654.58" y1="458.57" x2="1650.99" y2="440.29" stroke="#0a0c6a" stroke-width="4" />
<line x1="1633.08" y1="466.79" x2="1623.57" y2="450.77" stroke="#0a0c6a" stroke-width="4" />
<line x1="1615.57" y1="481.74" x2="1601.24" y2="469.84" stroke="#0a0c6a" stroke-width="4" />
<line x1="1604.1" y1="501.69" x2="1586.6" y2="495.29" stroke="#0a0c6a" stroke-width="4" />
<line x1="1599.98" y1="524.34" x2="1581.35" y2="524.18" stroke="#0a0c6a" stroke-width="4" />
<line x1="1603.7" y1="547.06" x2="1586.1" y2="553.15" stroke="#0a0c6a" stroke-width="4" />
<clipPath id="ce18"><path d="M1605.3,554.6 A69,69 0 1 1 1729.9,554.6 Z"/></clipPath>
<g clip-path="url(#ce18)">
<rect x="1593.6" y="444.6" width="148" height="115" fill="#0000a0" />
<defs><radialGradient id="rs15" gradientUnits="userSpaceOnUse" cx="0" cy="0" r="1" gradientTransform="translate(1667.6,554.6) scale(37.95,72.45)"><stop offset="0" stop-color="#004cff" stop-opacity="1"/><stop offset="0.5" stop-color="#000fff" stop-opacity="0.8"/><stop offset="1" stop-color="#0000d1" stop-opacity="0"/></radialGradient></defs><ellipse cx="1667.6" cy="554.6" rx="37.95" ry="72.45" fill="url(#rs15)"/>
<defs><radialGradient id="rs16" gradientUnits="userSpaceOnUse" cx="0" cy="0" r="1" gradientTransform="translate(1675.6,554.6) scale(34.5,15.18)"><stop offset="0" stop-color="#f90000" stop-opacity="1"/><stop offset="0.35" stop-color="#ff9e00" stop-opacity="1"/><stop offset="0.7" stop-color="#2dffd1" stop-opacity="0.9"/><stop offset="1" stop-color="#004cff" stop-opacity="0"/></radialGradient></defs><ellipse cx="1675.6" cy="554.6" rx="34.5" ry="15.18" fill="url(#rs16)"/>
<defs><radialGradient id="rs17" gradientUnits="userSpaceOnUse" cx="0" cy="0" r="1" gradientTransform="translate(1609.6,554.6) scale(8.28,5.52)"><stop offset="0" stop-color="#00b2ff" stop-opacity="1"/><stop offset="1" stop-color="#0019ff" stop-opacity="0"/></radialGradient></defs><ellipse cx="1609.6" cy="554.6" rx="8.28" ry="5.52" fill="url(#rs17)"/>
</g>
<defs><linearGradient id="ol19" gradientUnits="userSpaceOnUse" x1="1649.66" y1="554.6" x2="1623.44" y2="596"><stop offset="0" stop-color="#2040e0"/><stop offset="1" stop-color="#1030d0"/></linearGradient></defs>
<line x1="1649.66" y1="554.6" x2="1623.44" y2="596" stroke="url(#ol19)" stroke-width="3.6" stroke-linecap="round"/>
<line x1="1961.84" y1="543.04" x2="1979.7" y2="548.33" stroke="#0a0c6a" stroke-width="4" />
<line x1="1964.52" y1="520.17" x2="1983.12" y2="519.17" stroke="#0a0c6a" stroke-width="4" />
<line x1="1959.38" y1="497.74" x2="1976.57" y2="490.55" stroke="#0a0c6a" stroke-width="4" />
<line x1="1947.01" y1="478.32" x2="1960.79" y2="465.78" stroke="#0a0c6a" stroke-width="4" />
<line x1="1928.85" y1="464.18" x2="1937.62" y2="447.75" stroke="#0a0c6a" stroke-width="4" />
<line x1="1906.99" y1="456.95" x2="1909.75" y2="438.53" stroke="#0a0c6a" stroke-width="4" />
<line x1="1883.98" y1="457.47" x2="1880.39" y2="439.19" stroke="#0a0c6a" stroke-width="4" />
<line x1="1862.48" y1="465.69" x2="1852.97" y2="449.67" stroke="#0a0c6a" stroke-width="4" />
<line x1="1844.97" y1="480.64" x2="1830.64" y2="468.74" stroke="#0a0c6a" stroke-width="4" />
<line x1="1833.5" y1="500.59" x2="1816" y2="494.19" stroke="#0a0c6a" stroke-width="4" />
<line x1="1829.38" y1="523.24" x2="1810.75" y2="523.08" stroke="#0a0c6a" stroke-width="4" />
<line x1="1833.1" y1="545.96" x2="1815.5" y2="552.05" stroke="#0a0c6a" stroke-width="4" />
<clipPath id="ce22"><path d="M1834.7,553.5 A69,69 0 1 1 1959.3,553.5 Z"/></clipPath>
<g clip-path="url(#ce22)">
<rect x="1823" y="443.5" width="148" height="115" fill="#000094" />
<defs><radialGradient id="rs20" gradientUnits="userSpaceOnUse" cx="0" cy="0" r="1" gradientTransform="translate(1907,553.5) scale(22.08,13.8)"><stop offset="0" stop-color="#4cffb2" stop-opacity="1"/><stop offset="0.4" stop-color="#00e5ff" stop-opacity="1"/><stop offset="0.8" stop-color="#0038ff" stop-opacity="0.7"/><stop offset="1" stop-color="#0000e5" stop-opacity="0"/></radialGradient></defs><ellipse cx="1907" cy="553.5" rx="22.08" ry="13.8" fill="url(#rs20)"/>
<defs><radialGradient id="rs21" gradientUnits="userSpaceOnUse" cx="0" cy="0" r="1" gradientTransform="translate(1852,553.5) scale(10.35,5.52)"><stop offset="0" stop-color="#004cff" stop-opacity="1"/><stop offset="1" stop-color="#0000e5" stop-opacity="0"/></radialGradient></defs><ellipse cx="1852" cy="553.5" rx="10.35" ry="5.52" fill="url(#rs21)"/>
</g>
<defs><linearGradient id="ol23" gradientUnits="userSpaceOnUse" x1="1879.06" y1="553.5" x2="1852.84" y2="594.9"><stop offset="0" stop-color="#1030d0"/><stop offset="1" stop-color="#1030d0"/></linearGradient></defs>
<line x1="1879.06" y1="553.5" x2="1852.84" y2="594.9" stroke="url(#ol23)" stroke-width="3.6" stroke-linecap="round"/>
<ellipse cx="1905" cy="552.7" rx="24.7" ry="13.7" fill="none" stroke="#000" stroke-width="1.6" stroke-dasharray="5,3"/>
<line x1="1288.84" y1="770.24" x2="1306.7" y2="775.53" stroke="#0a0c6a" stroke-width="4" />
<line x1="1291.52" y1="747.37" x2="1310.12" y2="746.37" stroke="#0a0c6a" stroke-width="4" />
<line x1="1286.38" y1="724.94" x2="1303.57" y2="717.75" stroke="#0a0c6a" stroke-width="4" />
<line x1="1274.01" y1="705.52" x2="1287.79" y2="692.98" stroke="#0a0c6a" stroke-width="4" />
<line x1="1255.85" y1="691.38" x2="1264.62" y2="674.95" stroke="#0a0c6a" stroke-width="4" />
<line x1="1233.99" y1="684.15" x2="1236.75" y2="665.73" stroke="#0a0c6a" stroke-width="4" />
<line x1="1210.98" y1="684.67" x2="1207.39" y2="666.39" stroke="#0a0c6a" stroke-width="4" />
<line x1="1189.48" y1="692.89" x2="1179.97" y2="676.87" stroke="#0a0c6a" stroke-width="4" />
<line x1="1171.97" y1="707.84" x2="1157.64" y2="695.94" stroke="#0a0c6a" stroke-width="4" />
<line x1="1160.5" y1="727.79" x2="1143" y2="721.39" stroke="#0a0c6a" stroke-width="4" />
<line x1="1156.38" y1="750.44" x2="1137.75" y2="750.28" stroke="#0a0c6a" stroke-width="4" />
<line x1="1160.1" y1="773.16" x2="1142.5" y2="779.25" stroke="#0a0c6a" stroke-width="4" />
<clipPath id="ce25"><path d="M1161.7,780.7 A69,69 0 1 1 1286.3,780.7 Z"/></clipPath>
<g clip-path="url(#ce25)">
<rect x="1150" y="670.7" width="148" height="115" fill="#0060ff" />
<defs><radialGradient id="rl24" gradientUnits="userSpaceOnUse" cx="0" cy="0" r="1" gradientTransform="translate(1224,752.7) scale(65.55,65.55)"><stop offset="0" stop-color="#c60000"/><stop offset="0.38" stop-color="#ff0500"/><stop offset="0.5" stop-color="#ff7f00"/><stop offset="0.58" stop-color="#f9ff05"/><stop offset="0.66" stop-color="#7fff7f"/><stop offset="0.75" stop-color="#05fff9"/><stop offset="0.85" stop-color="#00b2ff"/><stop offset="1" stop-color="#0089ff"/></radialGradient></defs><rect x="1145.34" y="674.04" width="157.32" height="157.32" fill="url(#rl24)"/>
<defs><radialGradient id="bl26"><stop offset="0" stop-color="#000080" stop-opacity="1"/><stop offset="0.5" stop-color="#00008c" stop-opacity="1"/><stop offset="0.75" stop-color="#0010c0" stop-opacity="0.8"/><stop offset="1" stop-color="#0030e0" stop-opacity="0"/></radialGradient></defs>
<ellipse cx="1281.56" cy="768.08" rx="22.08" ry="10.35" fill="url(#bl26)" transform="rotate(16.5 1281.56 768.08)"/>
<ellipse cx="1283.94" cy="747.78" rx="22.08" ry="10.35" fill="url(#bl26)" transform="rotate(-3.1 1283.94 747.78)"/>
<ellipse cx="1279.38" cy="727.86" rx="22.08" ry="10.35" fill="url(#bl26)" transform="rotate(-22.7 1279.38 727.86)"/>
<ellipse cx="1268.4" cy="710.63" rx="22.08" ry="10.35" fill="url(#bl26)" transform="rotate(-42.3 1268.4 710.63)"/>
<ellipse cx="1252.27" cy="698.08" rx="22.08" ry="10.35" fill="url(#bl26)" transform="rotate(-61.9 1252.27 698.08)"/>
<ellipse cx="1232.87" cy="691.66" rx="22.08" ry="10.35" fill="url(#bl26)" transform="rotate(-81.5 1232.87 691.66)"/>
<ellipse cx="1212.44" cy="692.12" rx="22.08" ry="10.35" fill="url(#bl26)" transform="rotate(-101.1 1212.44 692.12)"/>
<ellipse cx="1193.35" cy="699.41" rx="22.08" ry="10.35" fill="url(#bl26)" transform="rotate(-120.7 1193.35 699.41)"/>
<ellipse cx="1177.81" cy="712.68" rx="22.08" ry="10.35" fill="url(#bl26)" transform="rotate(-140.3 1177.81 712.68)"/>
<ellipse cx="1167.63" cy="730.4" rx="22.08" ry="10.35" fill="url(#bl26)" transform="rotate(-159.9 1167.63 730.4)"/>
<ellipse cx="1163.97" cy="750.51" rx="22.08" ry="10.35" fill="url(#bl26)" transform="rotate(-179.5 1163.97 750.51)"/>
<ellipse cx="1167.27" cy="770.67" rx="22.08" ry="10.35" fill="url(#bl26)" transform="rotate(-199.1 1167.27 770.67)"/>
</g>
<defs><linearGradient id="ol27" gradientUnits="userSpaceOnUse" x1="1206.06" y1="780.7" x2="1179.84" y2="822.1"><stop offset="0" stop-color="#d05010"/><stop offset="1" stop-color="#d0a020"/></linearGradient></defs>
<line x1="1206.06" y1="780.7" x2="1179.84" y2="822.1" stroke="url(#ol27)" stroke-width="3.6" stroke-linecap="round"/>
<line x1="1513.84" y1="770.24" x2="1531.7" y2="775.53" stroke="#0a0c6a" stroke-width="4" />
<line x1="1516.52" y1="747.37" x2="1535.12" y2="746.37" stroke="#0a0c6a" stroke-width="4" />
<line x1="1511.38" y1="724.94" x2="1528.57" y2="717.75" stroke="#0a0c6a" stroke-width="4" />
<line x1="1499.01" y1="705.52" x2="1512.79" y2="692.98" stroke="#0a0c6a" stroke-width="4" />
<line x1="1480.85" y1="691.38" x2="1489.62" y2="674.95" stroke="#0a0c6a" stroke-width="4" />
<line x1="1458.99" y1="684.15" x2="1461.75" y2="665.73" stroke="#0a0c6a" stroke-width="4" />
<line x1="1435.98" y1="684.67" x2="1432.39" y2="666.39" stroke="#0a0c6a" stroke-width="4" />
<line x1="1414.48" y1="692.89" x2="1404.97" y2="676.87" stroke="#0a0c6a" stroke-width="4" />
<line x1="1396.97" y1="707.84" x2="1382.64" y2="695.94" stroke="#0a0c6a" stroke-width="4" />
<line x1="1385.5" y1="727.79" x2="1368" y2="721.39" stroke="#0a0c6a" stroke-width="4" />
<line x1="1381.38" y1="750.44" x2="1362.75" y2="750.28" stroke="#0a0c6a" stroke-width="4" />
<line x1="1385.1" y1="773.16" x2="1367.5" y2="779.25" stroke="#0a0c6a" stroke-width="4" />
<clipPath id="ce30"><path d="M1386.7,780.7 A69,69 0 1 1 1511.3,780.7 Z"/></clipPath>
<g clip-path="url(#ce30)">
<rect x="1375" y="670.7" width="148" height="115" fill="#00009a" />
<defs><radialGradient id="rs28" gradientUnits="userSpaceOnUse" cx="0" cy="0" r="1" gradientTransform="translate(1444,750.7) scale(42.78,55.2)"><stop offset="0" stop-color="#00efff" stop-opacity="1"/><stop offset="0.35" stop-color="#009eff" stop-opacity="0.95"/><stop offset="0.7" stop-color="#0023ff" stop-opacity="0.7"/><stop offset="1" stop-color="#0000e5" stop-opacity="0"/></radialGradient></defs><ellipse cx="1444" cy="750.7" rx="42.78" ry="55.2" fill="url(#rs28)"/>
<defs><radialGradient id="rs29" gradientUnits="userSpaceOnUse" cx="0" cy="0" r="1" gradientTransform="translate(1439,768.7) scale(20.7,22.08)"><stop offset="0" stop-color="#4cffb2" stop-opacity="1"/><stop offset="0.5" stop-color="#00efff" stop-opacity="0.8"/><stop offset="1" stop-color="#007fff" stop-opacity="0"/></radialGradient></defs><ellipse cx="1439" cy="768.7" rx="20.7" ry="22.08" fill="url(#rs29)"/>
</g>
<defs><linearGradient id="ol31" gradientUnits="userSpaceOnUse" x1="1431.06" y1="780.7" x2="1404.84" y2="822.1"><stop offset="0" stop-color="#40a0f0"/><stop offset="1" stop-color="#40d0f0"/></linearGradient></defs>
<line x1="1431.06" y1="780.7" x2="1404.84" y2="822.1" stroke="url(#ol31)" stroke-width="3.6" stroke-linecap="round"/>
<line x1="1730.84" y1="770.24" x2="1748.7" y2="775.53" stroke="#0a0c6a" stroke-width="4" />
<line x1="1733.52" y1="747.37" x2="1752.12" y2="746.37" stroke="#0a0c6a" stroke-width="4" />
<line x1="1728.38" y1="724.94" x2="1745.57" y2="717.75" stroke="#0a0c6a" stroke-width="4" />
<line x1="1716.01" y1="705.52" x2="1729.79" y2="692.98" stroke="#0a0c6a" stroke-width="4" />
<line x1="1697.85" y1="691.38" x2="1706.62" y2="674.95" stroke="#0a0c6a" stroke-width="4" />
<line x1="1675.99" y1="684.15" x2="1678.75" y2="665.73" stroke="#0a0c6a" stroke-width="4" />
<line x1="1652.98" y1="684.67" x2="1649.39" y2="666.39" stroke="#0a0c6a" stroke-width="4" />
<line x1="1631.48" y1="692.89" x2="1621.97" y2="676.87" stroke="#0a0c6a" stroke-width="4" />
<line x1="1613.97" y1="707.84" x2="1599.64" y2="695.94" stroke="#0a0c6a" stroke-width="4" />
<line x1="1602.5" y1="727.79" x2="1585" y2="721.39" stroke="#0a0c6a" stroke-width="4" />
<line x1="1598.38" y1="750.44" x2="1579.75" y2="750.28" stroke="#0a0c6a" stroke-width="4" />
<line x1="1602.1" y1="773.16" x2="1584.5" y2="779.25" stroke="#0a0c6a" stroke-width="4" />
<clipPath id="ce33"><path d="M1603.7,780.7 A69,69 0 1 1 1728.3,780.7 Z"/></clipPath>
<g clip-path="url(#ce33)">
<rect x="1592" y="670.7" width="148" height="115" fill="#00009a" />
<defs><radialGradient id="rs32" gradientUnits="userSpaceOnUse" cx="0" cy="0" r="1" gradientTransform="translate(1658,760.7) scale(24.15,34.5)"><stop offset="0" stop-color="#000fff" stop-opacity="1"/><stop offset="0.5" stop-color="#0000e5" stop-opacity="0.8"/><stop offset="1" stop-color="#0000bc" stop-opacity="0"/></radialGradient></defs><ellipse cx="1658" cy="760.7" rx="24.15" ry="34.5" fill="url(#rs32)"/>
</g>
<defs><linearGradient id="ol34" gradientUnits="userSpaceOnUse" x1="1648.06" y1="780.7" x2="1621.84" y2="822.1"><stop offset="0" stop-color="#1030d0"/><stop offset="1" stop-color="#1030d0"/></linearGradient></defs>
<line x1="1648.06" y1="780.7" x2="1621.84" y2="822.1" stroke="url(#ol34)" stroke-width="3.6" stroke-linecap="round"/>
<defs><linearGradient id="cb35" x1="0" y1="0" x2="0" y2="1"><stop offset="0" stop-color="#7f0000"/><stop offset="0.1" stop-color="#e50000"/><stop offset="0.2" stop-color="#ff4c00"/><stop offset="0.3" stop-color="#ffb200"/><stop offset="0.4" stop-color="#e5ff19"/><stop offset="0.5" stop-color="#7fff7f"/><stop offset="0.6" stop-color="#19ffe5"/><stop offset="0.7" stop-color="#00b2ff"/><stop offset="0.8" stop-color="#004cff"/><stop offset="0.9" stop-color="#0000e5"/><stop offset="1" stop-color="#00007f"/></linearGradient></defs>
<rect x="1883" y="661.8" width="16" height="123" fill="url(#cb35)" stroke="#808080" stroke-width="0.5"/>
<path d="M1079,383.4 H1992" fill="none" stroke="#87a5db" stroke-width="2.8" stroke-dasharray="12.6,8.6"/>
<path d="M1081.9,394 V827" fill="none" stroke="#87a5db" stroke-width="2.8" stroke-dasharray="12.6,8.6"/>
<path d="M1991.2,388 V827" fill="none" stroke="#87a5db" stroke-width="2.8" stroke-dasharray="12.6,8.6"/>
<path d="M1083,826.8 H1992" fill="none" stroke="#87a5db" stroke-width="2.8" stroke-dasharray="12.6,8.6"/>
<text x="1181.5" y="429" font-size="27.4" fill="#000"  stroke="#000" stroke-width="0.35">2 min</text>
<text x="1405" y="429" font-size="27.81" fill="#000"  stroke="#000" stroke-width="0.35">4 min</text>
<text x="1627" y="428.2" font-size="27.4" fill="#000"  stroke="#000" stroke-width="0.35">6 min</text>
<text x="1862.5" y="428.2" font-size="27.61" fill="#000"  stroke="#000" stroke-width="0.35">8 min</text>
<text x="1182.5" y="659" font-size="27.4" fill="#000"  stroke="#000" stroke-width="0.35">2 min</text>
<text x="1407" y="653" font-size="27.81" fill="#000"  stroke="#000" stroke-width="0.35">4 min</text>
<text x="1634.5" y="655.7" font-size="27.61" fill="#000"  stroke="#000" stroke-width="0.35">6 min</text>
<text x="1846" y="644.7" font-size="27.72" fill="#000"  stroke="#000" stroke-width="0.35">100 μM</text>
<text x="1854.5" y="812.9" font-size="27.68" fill="#000"  stroke="#000" stroke-width="0.35">50 μM</text>
<text transform="translate(1129,593.86) rotate(-90)" font-size="28.26" fill="#000" stroke="#000" stroke-width="0.35">w/o filter paper</text>
<text transform="translate(1129,810.86) rotate(-90)" font-size="28.35" fill="#000" stroke="#000" stroke-width="0.35">w/ filter paper</text>
<text x="1048" y="412.6" font-size="50" fill="#000" stroke="#000" stroke-width="0.6">e</text>
<defs>
<linearGradient id="skinTop" x1="0" y1="0" x2="1" y2="1"><stop offset="0" stop-color="#5c3c2b"/><stop offset="1" stop-color="#583828"/></linearGradient>
<linearGradient id="dressG" x1="0" y1="0" x2="0" y2="1"><stop offset="0" stop-color="#b2b8e4" stop-opacity="0.85"/><stop offset="0.45" stop-color="#b0b6de" stop-opacity="0.64"/><stop offset="1" stop-color="#bcc0e0" stop-opacity="0.4"/></linearGradient>
<linearGradient id="isoG" x1="0" y1="0" x2="1" y2="0.3"><stop offset="0" stop-color="#c4b5ae"/><stop offset="1" stop-color="#b9a9a2"/></linearGradient>
<linearGradient id="topG" x1="0" y1="0" x2="1" y2="0"><stop offset="0" stop-color="#a6b0c0"/><stop offset="1" stop-color="#a1abbd"/></linearGradient>
<linearGradient id="outG" x1="0" y1="0" x2="0.3" y2="1"><stop offset="0" stop-color="#cfd8f2"/><stop offset="1" stop-color="#c2cceb"/></linearGradient>
</defs>
<path d="M253,499 L482.5,627.5 L482.5,672.5 L248.75,835 L23.75,663.75 L23.75,618.75" stroke="none" stroke-width="0" fill="#553626" />
<path d="M253,499 L482.5,627.5 L248.75,790 L23.75,618.75" stroke="none" stroke-width="0" fill="url(#skinTop)" />
<circle cx="75" cy="636" r="3.2" fill="#6b4836" opacity="0.8"/>
<circle cx="74.2" cy="635.2" r="1.6" fill="#7d5845" opacity="0.8"/>
<circle cx="78" cy="660" r="3.2" fill="#6b4836" opacity="0.8"/>
<circle cx="77.2" cy="659.2" r="1.6" fill="#7d5845" opacity="0.8"/>
<circle cx="300" cy="745" r="3.2" fill="#6b4836" opacity="0.8"/>
<circle cx="299.2" cy="744.2" r="1.6" fill="#7d5845" opacity="0.8"/>
<circle cx="330" cy="750" r="3.2" fill="#6b4836" opacity="0.8"/>
<circle cx="329.2" cy="749.2" r="1.6" fill="#7d5845" opacity="0.8"/>
<circle cx="360" cy="740" r="3.2" fill="#6b4836" opacity="0.8"/>
<circle cx="359.2" cy="739.2" r="1.6" fill="#7d5845" opacity="0.8"/>
<circle cx="290" cy="790" r="3.2" fill="#6b4836" opacity="0.8"/>
<circle cx="289.2" cy="789.2" r="1.6" fill="#7d5845" opacity="0.8"/>
<circle cx="410" cy="620" r="3.2" fill="#6b4836" opacity="0.8"/>
<circle cx="409.2" cy="619.2" r="1.6" fill="#7d5845" opacity="0.8"/>
<circle cx="425" cy="640" r="3.2" fill="#6b4836" opacity="0.8"/>
<circle cx="424.2" cy="639.2" r="1.6" fill="#7d5845" opacity="0.8"/>
<circle cx="440" cy="630" r="3.2" fill="#6b4836" opacity="0.8"/>
<circle cx="439.2" cy="629.2" r="1.6" fill="#7d5845" opacity="0.8"/>
<circle cx="400" cy="660" r="3.2" fill="#6b4836" opacity="0.8"/>
<circle cx="399.2" cy="659.2" r="1.6" fill="#7d5845" opacity="0.8"/>
<circle cx="460" cy="640" r="3.2" fill="#6b4836" opacity="0.8"/>
<circle cx="459.2" cy="639.2" r="1.6" fill="#7d5845" opacity="0.8"/>
<circle cx="210" cy="760" r="3.2" fill="#6b4836" opacity="0.8"/>
<circle cx="209.2" cy="759.2" r="1.6" fill="#7d5845" opacity="0.8"/>
<circle cx="275" cy="780" r="3.2" fill="#6b4836" opacity="0.8"/>
<circle cx="274.2" cy="779.2" r="1.6" fill="#7d5845" opacity="0.8"/>
<circle cx="100" cy="680" r="3.2" fill="#6b4836" opacity="0.8"/>
<circle cx="99.2" cy="679.2" r="1.6" fill="#7d5845" opacity="0.8"/>
<circle cx="70" cy="690" r="3.2" fill="#6b4836" opacity="0.8"/>
<circle cx="69.2" cy="689.2" r="1.6" fill="#7d5845" opacity="0.8"/>
<ellipse cx="249.6" cy="643" rx="168.4" ry="103.3" fill="url(#dressG)" />
<ellipse cx="249.6" cy="643" rx="168.4" ry="103.3" fill="none" stroke="#d8d4ec" stroke-width="1" opacity="0.6"/>
<g transform="translate(191.13,645.67) scale(1,0.64) rotate(-162)" opacity="0.9"><ellipse rx="13.5" ry="6.8" fill="#6a4838" stroke="#8a6a5c" stroke-width="1.3"/></g>
<g transform="translate(202.26,658.8) scale(1,0.64) rotate(-141)" opacity="0.9"><ellipse rx="13.5" ry="6.8" fill="#6a4838" stroke="#8a6a5c" stroke-width="1.3"/></g>
<g transform="translate(220,668.51) scale(1,0.64) rotate(-120)" opacity="0.9"><ellipse rx="13.5" ry="6.8" fill="#6a4838" stroke="#8a6a5c" stroke-width="1.3"/></g>
<g transform="translate(241.99,673.5) scale(1,0.64) rotate(-99)" opacity="0.9"><ellipse rx="13.5" ry="6.8" fill="#6a4838" stroke="#8a6a5c" stroke-width="1.3"/></g>
<g transform="translate(265.31,673.1) scale(1,0.64) rotate(-78)" opacity="0.9"><ellipse rx="13.5" ry="6.8" fill="#6a4838" stroke="#8a6a5c" stroke-width="1.3"/></g>
<g transform="translate(286.86,667.39) scale(1,0.64) rotate(-57)" opacity="0.9"><ellipse rx="13.5" ry="6.8" fill="#6a4838" stroke="#8a6a5c" stroke-width="1.3"/></g>
<g transform="translate(303.78,657.1) scale(1,0.64) rotate(-36)" opacity="0.9"><ellipse rx="13.5" ry="6.8" fill="#6a4838" stroke="#8a6a5c" stroke-width="1.3"/></g>
<g transform="translate(313.82,643.61) scale(1,0.64) rotate(-15)" opacity="0.9"><ellipse rx="13.5" ry="6.8" fill="#6a4838" stroke="#8a6a5c" stroke-width="1.3"/></g>
<g transform="translate(315.65,628.71) scale(1,0.64) rotate(6)" opacity="0.9"><ellipse rx="13.5" ry="6.8" fill="#6a4838" stroke="#8a6a5c" stroke-width="1.3"/></g>
<g transform="translate(309.02,614.39) scale(1,0.64) rotate(27)" opacity="0.9"><ellipse rx="13.5" ry="6.8" fill="#6a4838" stroke="#8a6a5c" stroke-width="1.3"/></g>
<g transform="translate(294.82,602.53) scale(1,0.64) rotate(48)" opacity="0.3"><ellipse rx="13.5" ry="6.8" fill="#6a4838" stroke="#8a6a5c" stroke-width="1.3"/></g>
<g transform="translate(274.94,594.72) scale(1,0.64) rotate(69)" opacity="0.3"><ellipse rx="13.5" ry="6.8" fill="#6a4838" stroke="#8a6a5c" stroke-width="1.3"/></g>
<ellipse cx="252" cy="356.5" rx="181" ry="82.5" fill="url(#isoG)" />
<clipPath id="isoClip"><ellipse cx="252" cy="356.5" rx="181" ry="82.5"/></clipPath>
<ellipse cx="250.5" cy="522" rx="173.5" ry="94" fill="#a8968e" clip-path="url(#isoClip)"/>
<path d="M211,355 L265,331.5 C285,333 296,341 293.8,350 C291,362 270,370 254.8,369.2 C236,368.5 218,363 211,355 Z" fill="#fff"/>
<clipPath id="isoOut"><path d="M0,0 H520 V840 H0 Z M71,356.5 A181,82.5 0 1 0 433,356.5 A181,82.5 0 1 0 71,356.5 Z" clip-rule="evenodd"/></clipPath>
<g clip-path="url(#isoOut)">
<ellipse cx="250.5" cy="522" rx="173.5" ry="94" fill="#c4d0f4" opacity="0.78"/>
<ellipse cx="250.5" cy="522" rx="173.5" ry="94" fill="none" stroke="#e4ecff" stroke-width="1.5" opacity="0.9"/>
<path d="M212,466 L264,440 C282,441 293,452 292,462 C290,476 268,483 250,482 C232,481 218,474 212,466 Z" fill="#8d929e"/>
<path d="M213,519 L264,489 C282,491 292,500 292,508 C291,520 280,528 262,531 Z" fill="#fff"/>
<ellipse cx="298" cy="483" rx="12" ry="5" fill="#fff" transform="rotate(-12 298 483)"/>
<ellipse cx="312" cy="494" rx="13" ry="5" fill="#fff" transform="rotate(-5 312 494)"/>
<ellipse cx="319" cy="506" rx="13" ry="5" fill="#fff" transform="rotate(3 319 506)"/>
<ellipse cx="317" cy="519" rx="13" ry="5.5" fill="#fff" transform="rotate(8 317 519)"/>
<ellipse cx="187" cy="525" rx="15" ry="5" fill="#fff" transform="rotate(-5 187 525)"/>
<path d="M214,520 L254,499 L286,521 C278,529 265,531 250,531 C235,531 222,527 214,520 Z" fill="#6a4532"/>
<ellipse cx="197.5" cy="535" rx="11" ry="5.5" fill="#6a4838" stroke="#e8ecf8" stroke-width="1" transform="rotate(-15 197.5 535)"/>
<ellipse cx="217.5" cy="547.5" rx="11" ry="5.5" fill="#c4c6bc" stroke="#e8ecf8" stroke-width="1" transform="rotate(-50 217.5 547.5)"/>
<ellipse cx="241" cy="549" rx="11" ry="5.5" fill="#c4c6bc" stroke="#e8ecf8" stroke-width="1" transform="rotate(-75 241 549)"/>
<ellipse cx="265" cy="547.5" rx="11" ry="5.5" fill="#c4c6bc" stroke="#e8ecf8" stroke-width="1" transform="rotate(75 265 547.5)"/>
<ellipse cx="290" cy="542.5" rx="11" ry="5.5" fill="#c4c6bc" stroke="#e8ecf8" stroke-width="1" transform="rotate(45 290 542.5)"/>
<ellipse cx="307.5" cy="534" rx="11" ry="5.5" fill="#6a4838" stroke="#e8ecf8" stroke-width="1" transform="rotate(20 307.5 534)"/>
</g>
<ellipse cx="252.5" cy="200.5" rx="188" ry="71.3" fill="url(#outG)" />
<ellipse cx="252.5" cy="200.5" rx="188" ry="71.3" fill="none" stroke="#9aa2c0" stroke-width="0.8"/>
<clipPath id="outClip"><ellipse cx="252.5" cy="200.5" rx="187" ry="70.3"/></clipPath>
<g clip-path="url(#outClip)"><g fill="none" stroke="#7f89ad" stroke-width="1.4"><path d="M254.71,168.43 L256.88,137.06 A7.28,7.28 0 0 1 271.44,137.45 L262.08,168.62 A3.68,3.68 0 0 1 254.71,168.43 Z" transform="translate(0.6,1)"/><path d="M266.03,168.83 L279.25,137.86 A7.17,7.17 0 0 1 293.54,138.98 L273.25,169.4 A3.62,3.62 0 0 1 266.03,168.83 Z" transform="translate(0.6,1)"/><path d="M277.09,169.8 L301.14,139.78 A6.95,6.95 0 0 1 314.91,141.62 L284.05,170.73 A3.51,3.51 0 0 1 277.09,169.8 Z" transform="translate(0.6,1)"/><path d="M287.72,171.33 L322.15,142.8 A6.62,6.62 0 0 1 335.15,145.32 L294.29,172.6 A3.35,3.35 0 0 1 287.72,171.33 Z" transform="translate(0.6,1)"/><path d="M297.71,173.38 L341.91,146.86 A6.2,6.2 0 0 1 353.89,150.02 L303.77,174.98 A3.13,3.13 0 0 1 297.71,173.38 Z" transform="translate(0.6,1)"/><path d="M306.88,175.92 L360.05,151.89 A5.7,5.7 0 0 1 370.81,155.63 L312.32,177.81 A2.88,2.88 0 0 1 306.88,175.92 Z" transform="translate(0.6,1)"/><path d="M315.07,178.91 L376.26,157.79 A5.13,5.13 0 0 1 385.6,162.05 L319.8,181.06 A2.6,2.6 0 0 1 315.07,178.91 Z" transform="translate(0.6,1)"/><path d="M322.14,182.28 L390.23,164.47 A4.53,4.53 0 0 1 397.98,169.16 L326.06,184.65 A2.29,2.29 0 0 1 322.14,182.28 Z" transform="translate(0.6,1)"/><path d="M327.95,185.98 L401.72,171.79 A3.93,3.93 0 0 1 407.75,176.83 L330.99,188.53 A1.99,1.99 0 0 1 327.95,185.98 Z" transform="translate(0.6,1)"/><path d="M332.39,189.95 L410.51,179.63 A3.38,3.38 0 0 1 414.71,184.93 L334.52,192.63 A1.71,1.71 0 0 1 332.39,189.95 Z" transform="translate(0.6,1)"/><path d="M335.4,194.1 L416.46,187.85 A2.96,2.96 0 0 1 418.74,193.32 L336.56,196.87 A1.5,1.5 0 0 1 335.4,194.1 Z" transform="translate(0.6,1)"/><path d="M336.91,198.37 L419.45,196.29 A2.77,2.77 0 0 1 419.78,201.83 L337.08,201.17 A1.4,1.4 0 0 1 336.91,198.37 Z" transform="translate(0.6,1)"/><path d="M336.9,202.68 L419.43,204.82 A2.87,2.87 0 0 1 417.81,210.32 L336.08,205.46 A1.45,1.45 0 0 1 336.9,202.68 Z" transform="translate(0.6,1)"/><path d="M335.37,206.95 L416.4,213.26 A3.22,3.22 0 0 1 412.85,218.63 L333.57,209.67 A1.63,1.63 0 0 1 335.37,206.95 Z" transform="translate(0.6,1)"/><path d="M332.35,211.1 L410.42,221.47 A3.74,3.74 0 0 1 405,226.61 L329.6,213.7 A1.89,1.89 0 0 1 332.35,211.1 Z" transform="translate(0.6,1)"/><path d="M327.88,215.07 L401.58,229.31 A4.33,4.33 0 0 1 394.4,234.13 L324.24,217.5 A2.19,2.19 0 0 1 327.88,215.07 Z" transform="translate(0.6,1)"/><path d="M322.05,218.77 L390.06,236.62 A4.93,4.93 0 0 1 381.24,241.03 L317.59,220.99 A2.49,2.49 0 0 1 322.05,218.77 Z" transform="translate(0.6,1)"/><path d="M314.97,222.13 L376.06,243.29 A5.51,5.51 0 0 1 365.75,247.21 L309.76,224.12 A2.79,2.79 0 0 1 314.97,222.13 Z" transform="translate(0.6,1)"/><path d="M306.77,225.11 L359.83,249.18 A6.04,6.04 0 0 1 348.23,252.54 L300.9,226.81 A3.05,3.05 0 0 1 306.77,225.11 Z" transform="translate(0.6,1)"/><path d="M297.58,227.65 L341.66,254.2 A6.49,6.49 0 0 1 328.98,256.94 L291.17,229.04 A3.28,3.28 0 0 1 297.58,227.65 Z" transform="translate(0.6,1)"/><path d="M287.58,229.7 L321.89,258.24 A6.85,6.85 0 0 1 308.35,260.32 L280.74,230.74 A3.46,3.46 0 0 1 287.58,229.7 Z" transform="translate(0.6,1)"/><path d="M276.95,231.22 L300.86,261.25 A7.11,7.11 0 0 1 286.72,262.62 L269.8,231.91 A3.59,3.59 0 0 1 276.95,231.22 Z" transform="translate(0.6,1)"/><path d="M265.88,232.18 L278.96,263.16 A7.26,7.26 0 0 1 264.46,263.79 L258.55,232.5 A3.67,3.67 0 0 1 265.88,232.18 Z" transform="translate(0.6,1)"/><path d="M254.57,232.58 L256.59,263.94 A7.3,7.3 0 0 1 241.99,263.83 L247.19,232.52 A3.69,3.69 0 0 1 254.57,232.58 Z" transform="translate(0.6,1)"/><path d="M243.22,232.39 L234.14,263.57 A7.22,7.22 0 0 1 219.71,262.73 L235.92,231.96 A3.65,3.65 0 0 1 243.22,232.39 Z" transform="translate(0.6,1)"/><path d="M232.03,231.63 L212.02,262.07 A7.04,7.04 0 0 1 198.03,260.5 L224.96,230.84 A3.56,3.56 0 0 1 232.03,231.63 Z" transform="translate(0.6,1)"/><path d="M221.22,230.31 L190.63,259.46 A6.75,6.75 0 0 1 177.32,257.19 L214.49,229.16 A3.41,3.41 0 0 1 221.22,230.31 Z" transform="translate(0.6,1)"/><path d="M210.97,228.45 L170.36,255.78 A6.37,6.37 0 0 1 157.97,252.86 L204.7,226.97 A3.22,3.22 0 0 1 210.97,228.45 Z" transform="translate(0.6,1)"/><path d="M201.47,226.09 L151.57,251.11 A5.89,5.89 0 0 1 140.32,247.58 L195.78,224.31 A2.98,2.98 0 0 1 201.47,226.09 Z" transform="translate(0.6,1)"/><path d="M192.89,223.27 L134.6,245.53 A5.35,5.35 0 0 1 124.7,241.46 L187.88,221.21 A2.71,2.71 0 0 1 192.89,223.27 Z" transform="translate(0.6,1)"/><path d="M185.38,220.03 L119.76,239.13 A4.76,4.76 0 0 1 111.38,234.6 L181.15,217.74 A2.41,2.41 0 0 1 185.38,220.03 Z" transform="translate(0.6,1)"/><path d="M179.09,216.45 L107.31,232.04 A4.15,4.15 0 0 1 100.61,227.12 L175.7,213.96 A2.1,2.1 0 0 1 179.09,216.45 Z" transform="translate(0.6,1)"/><path d="M174.12,212.57 L97.47,224.37 A3.58,3.58 0 0 1 92.58,219.16 L171.64,209.93 A1.81,1.81 0 0 1 174.12,212.57 Z" transform="translate(0.6,1)"/><path d="M170.56,208.48 L90.44,216.28 A3.1,3.1 0 0 1 87.43,210.86 L169.04,205.74 A1.57,1.57 0 0 1 170.56,208.48 Z" transform="translate(0.6,1)"/><path d="M168.48,204.24 L86.32,207.9 A2.81,2.81 0 0 1 85.25,202.38 L167.94,201.45 A1.42,1.42 0 0 1 168.48,204.24 Z" transform="translate(0.6,1)"/></g>
<g fill="none" stroke="#f8faff" stroke-width="1.5"><path d="M254.71,168.43 L256.88,137.06 A7.28,7.28 0 0 1 271.44,137.45 L262.08,168.62 A3.68,3.68 0 0 1 254.71,168.43 Z"/><path d="M266.03,168.83 L279.25,137.86 A7.17,7.17 0 0 1 293.54,138.98 L273.25,169.4 A3.62,3.62 0 0 1 266.03,168.83 Z"/><path d="M277.09,169.8 L301.14,139.78 A6.95,6.95 0 0 1 314.91,141.62 L284.05,170.73 A3.51,3.51 0 0 1 277.09,169.8 Z"/><path d="M287.72,171.33 L322.15,142.8 A6.62,6.62 0 0 1 335.15,145.32 L294.29,172.6 A3.35,3.35 0 0 1 287.72,171.33 Z"/><path d="M297.71,173.38 L341.91,146.86 A6.2,6.2 0 0 1 353.89,150.02 L303.77,174.98 A3.13,3.13 0 0 1 297.71,173.38 Z"/><path d="M306.88,175.92 L360.05,151.89 A5.7,5.7 0 0 1 370.81,155.63 L312.32,177.81 A2.88,2.88 0 0 1 306.88,175.92 Z"/><path d="M315.07,178.91 L376.26,157.79 A5.13,5.13 0 0 1 385.6,162.05 L319.8,181.06 A2.6,2.6 0 0 1 315.07,178.91 Z"/><path d="M322.14,182.28 L390.23,164.47 A4.53,4.53 0 0 1 397.98,169.16 L326.06,184.65 A2.29,2.29 0 0 1 322.14,182.28 Z"/><path d="M327.95,185.98 L401.72,171.79 A3.93,3.93 0 0 1 407.75,176.83 L330.99,188.53 A1.99,1.99 0 0 1 327.95,185.98 Z"/><path d="M332.39,189.95 L410.51,179.63 A3.38,3.38 0 0 1 414.71,184.93 L334.52,192.63 A1.71,1.71 0 0 1 332.39,189.95 Z"/><path d="M335.4,194.1 L416.46,187.85 A2.96,2.96 0 0 1 418.74,193.32 L336.56,196.87 A1.5,1.5 0 0 1 335.4,194.1 Z"/><path d="M336.91,198.37 L419.45,196.29 A2.77,2.77 0 0 1 419.78,201.83 L337.08,201.17 A1.4,1.4 0 0 1 336.91,198.37 Z"/><path d="M336.9,202.68 L419.43,204.82 A2.87,2.87 0 0 1 417.81,210.32 L336.08,205.46 A1.45,1.45 0 0 1 336.9,202.68 Z"/><path d="M335.37,206.95 L416.4,213.26 A3.22,3.22 0 0 1 412.85,218.63 L333.57,209.67 A1.63,1.63 0 0 1 335.37,206.95 Z"/><path d="M332.35,211.1 L410.42,221.47 A3.74,3.74 0 0 1 405,226.61 L329.6,213.7 A1.89,1.89 0 0 1 332.35,211.1 Z"/><path d="M327.88,215.07 L401.58,229.31 A4.33,4.33 0 0 1 394.4,234.13 L324.24,217.5 A2.19,2.19 0 0 1 327.88,215.07 Z"/><path d="M322.05,218.77 L390.06,236.62 A4.93,4.93 0 0 1 381.24,241.03 L317.59,220.99 A2.49,2.49 0 0 1 322.05,218.77 Z"/><path d="M314.97,222.13 L376.06,243.29 A5.51,5.51 0 0 1 365.75,247.21 L309.76,224.12 A2.79,2.79 0 0 1 314.97,222.13 Z"/><path d="M306.77,225.11 L359.83,249.18 A6.04,6.04 0 0 1 348.23,252.54 L300.9,226.81 A3.05,3.05 0 0 1 306.77,225.11 Z"/><path d="M297.58,227.65 L341.66,254.2 A6.49,6.49 0 0 1 328.98,256.94 L291.17,229.04 A3.28,3.28 0 0 1 297.58,227.65 Z"/><path d="M287.58,229.7 L321.89,258.24 A6.85,6.85 0 0 1 308.35,260.32 L280.74,230.74 A3.46,3.46 0 0 1 287.58,229.7 Z"/><path d="M276.95,231.22 L300.86,261.25 A7.11,7.11 0 0 1 286.72,262.62 L269.8,231.91 A3.59,3.59 0 0 1 276.95,231.22 Z"/><path d="M265.88,232.18 L278.96,263.16 A7.26,7.26 0 0 1 264.46,263.79 L258.55,232.5 A3.67,3.67 0 0 1 265.88,232.18 Z"/><path d="M254.57,232.58 L256.59,263.94 A7.3,7.3 0 0 1 241.99,263.83 L247.19,232.52 A3.69,3.69 0 0 1 254.57,232.58 Z"/><path d="M243.22,232.39 L234.14,263.57 A7.22,7.22 0 0 1 219.71,262.73 L235.92,231.96 A3.65,3.65 0 0 1 243.22,232.39 Z"/><path d="M232.03,231.63 L212.02,262.07 A7.04,7.04 0 0 1 198.03,260.5 L224.96,230.84 A3.56,3.56 0 0 1 232.03,231.63 Z"/><path d="M221.22,230.31 L190.63,259.46 A6.75,6.75 0 0 1 177.32,257.19 L214.49,229.16 A3.41,3.41 0 0 1 221.22,230.31 Z"/><path d="M210.97,228.45 L170.36,255.78 A6.37,6.37 0 0 1 157.97,252.86 L204.7,226.97 A3.22,3.22 0 0 1 210.97,228.45 Z"/><path d="M201.47,226.09 L151.57,251.11 A5.89,5.89 0 0 1 140.32,247.58 L195.78,224.31 A2.98,2.98 0 0 1 201.47,226.09 Z"/><path d="M192.89,223.27 L134.6,245.53 A5.35,5.35 0 0 1 124.7,241.46 L187.88,221.21 A2.71,2.71 0 0 1 192.89,223.27 Z"/><path d="M185.38,220.03 L119.76,239.13 A4.76,4.76 0 0 1 111.38,234.6 L181.15,217.74 A2.41,2.41 0 0 1 185.38,220.03 Z"/><path d="M179.09,216.45 L107.31,232.04 A4.15,4.15 0 0 1 100.61,227.12 L175.7,213.96 A2.1,2.1 0 0 1 179.09,216.45 Z"/><path d="M174.12,212.57 L97.47,224.37 A3.58,3.58 0 0 1 92.58,219.16 L171.64,209.93 A1.81,1.81 0 0 1 174.12,212.57 Z"/><path d="M170.56,208.48 L90.44,216.28 A3.1,3.1 0 0 1 87.43,210.86 L169.04,205.74 A1.57,1.57 0 0 1 170.56,208.48 Z"/><path d="M168.48,204.24 L86.32,207.9 A2.81,2.81 0 0 1 85.25,202.38 L167.94,201.45 A1.42,1.42 0 0 1 168.48,204.24 Z"/></g></g>
<path d="M232,136 L247,183" stroke="#8690b4" stroke-width="1" fill="none"/><path d="M231.4,135.6 L246.4,182.6" stroke="#f6f8ff" stroke-width="1" fill="none"/>
<path d="M105,181 L200,190" stroke="#8e98bc" stroke-width="1" fill="none"/>
<ellipse cx="92" cy="179.5" rx="13" ry="5.5" fill="#fff" />
<path d="M212,199 L247,182.5 C270,174 300,178 298,192 C296,205 272,210 255,208.5 C238,207 222,204 212,199 Z" fill="#fff"/>
<g transform="rotate(2.2 253 64.6)">
<ellipse cx="253" cy="66.19999999999999" rx="193" ry="59" fill="#3a3f48"/>
<ellipse cx="253" cy="64.6" rx="193" ry="59" fill="url(#topG)" />
<clipPath id="topClip"><ellipse cx="253" cy="64.6" rx="193" ry="59"/></clipPath>
<g clip-path="url(#topClip)"><path d="M99,48 L40,40 L40,0 L196,0 L233,44 C262,38 312,45 309,58.5 C306,72 272,77 250,76.5 C226,76 200,70 196,60 L99,50 Z" fill="#cedbef"/></g>
</g>
<text x="22" y="52" font-size="28.28" fill="#000"  stroke="#000" stroke-width="0.35">Outlet</text>
<text x="390" y="68.9" font-size="27.86" fill="#000"  stroke="#000" stroke-width="0.35">μ-dots</text>
<text x="15.6" y="137.8" font-size="28.47" fill="#000"  stroke="#000" stroke-width="0.35">Top cover</text>
<text x="16" y="262.6" font-size="28.22" fill="#000"  stroke="#000" stroke-width="0.35">Outflow</text>
<text x="16" y="287.3" font-size="28.07" fill="#000"  stroke="#000" stroke-width="0.35">channel</text>
<text x="15" y="437.5" font-size="27.73" fill="#000"  stroke="#000" stroke-width="0.35">Isolation</text>
<text x="36.4" y="462.4" font-size="27.56" fill="#000"  stroke="#000" stroke-width="0.35">layer</text>
<text x="19.5" y="582" font-size="27.34" fill="#000"  stroke="#000" stroke-width="0.35">Inflow</text>
<text x="5.2" y="607.5" font-size="28.19" fill="#000"  stroke="#000" stroke-width="0.35">channel</text>
<text x="16" y="716" font-size="27.88" fill="#000"  stroke="#000" stroke-width="0.35">Dressing</text>
<text x="35" y="779.6" font-size="28.12" fill="#000"  stroke="#000" stroke-width="0.35">Skin</text>
<text x="339.3" y="652.2" font-size="27.74" fill="#000"  stroke="#000" stroke-width="0.35">Inlets</text>
<line x1="70.2" y1="74.1" x2="40.3" y2="53.3" stroke="#000" stroke-width="2.8" />
<circle cx="70.2" cy="74.1" r="7.6" fill="#000" />
<line x1="341.9" y1="74.1" x2="383.5" y2="66.3" stroke="#000" stroke-width="2.8" />
<circle cx="341.9" cy="74.1" r="7.6" fill="#000" />
<line x1="120.1" y1="98.8" x2="92.3" y2="118.3" stroke="#000" stroke-width="2.8" />
<circle cx="120.1" cy="98.8" r="7.6" fill="#000" />
<line x1="120.1" y1="224.9" x2="92.3" y2="243.1" stroke="#000" stroke-width="2.8" />
<circle cx="120.1" cy="224.9" r="7.6" fill="#000" />
<line x1="120.1" y1="399.1" x2="92.3" y2="418.6" stroke="#000" stroke-width="2.8" />
<circle cx="120.1" cy="399.1" r="7.6" fill="#000" />
<line x1="293.8" y1="454.6" x2="364" y2="441.6" stroke="#000" stroke-width="2.8" />
<circle cx="293.8" cy="454.6" r="7.6" fill="#000" />
<line x1="120.1" y1="544.3" x2="89.7" y2="563.8" stroke="#000" stroke-width="2.8" />
<circle cx="120.1" cy="544.3" r="7.6" fill="#000" />
<line x1="291.2" y1="661.3" x2="332.8" y2="643.9" stroke="#000" stroke-width="2.8" />
<circle cx="291.2" cy="661.3" r="7.6" fill="#000" />
<line x1="120.1" y1="669.1" x2="92.3" y2="687.3" stroke="#000" stroke-width="2.8" />
<circle cx="120.1" cy="669.1" r="7.6" fill="#000" />
<line x1="120.1" y1="741.9" x2="92.3" y2="760.1" stroke="#000" stroke-width="2.8" />
<circle cx="120.1" cy="741.9" r="7.6" fill="#000" />
<text x="-0.5" y="35.2" font-size="50" fill="#000" stroke="#000" stroke-width="0.6">a</text>
<clipPath id="fL"><rect x="45.7" y="917.8" width="332.90000000000003" height="333.79999999999995"/></clipPath>
<defs>
<linearGradient id="fbg" x1="0" y1="0" x2="1" y2="0.3"><stop offset="0" stop-color="#aeaaa6"/><stop offset="0.4" stop-color="#cdc5be"/><stop offset="1" stop-color="#d8d0c8"/></linearGradient>
<radialGradient id="fdisc" gradientUnits="userSpaceOnUse" cx="180" cy="1110" r="190"><stop offset="0" stop-color="#b8643c"/><stop offset="0.6" stop-color="#ba6a42"/><stop offset="1" stop-color="#b26a48"/></radialGradient>
<linearGradient id="fhair" x1="0" y1="0" x2="0.3" y2="1"><stop offset="0" stop-color="#344352"/><stop offset="0.25" stop-color="#7a7c7e" stop-opacity="0.8"/><stop offset="1" stop-color="#a8a49e" stop-opacity="0"/></linearGradient>
<linearGradient id="fdiscL" x1="0" y1="0" x2="1" y2="0"><stop offset="0" stop-color="#c27a54" stop-opacity="0.55"/><stop offset="0.4" stop-color="#c27a54" stop-opacity="0"/></linearGradient>
<linearGradient id="fout" x1="0" y1="0" x2="0" y2="1"><stop offset="0" stop-color="#a6401e"/><stop offset="1" stop-color="#b04a26"/></linearGradient>
</defs>
<g clip-path="url(#fL)">
<rect x="45.7" y="917.8" width="332.9" height="333.8" fill="url(#fbg)" />
<path d="M45.7,917.8 L240,917.8 C190,925 140,935 100,965 C80,985 60,1010 45.7,1060 Z" fill="url(#fhair)"/>
<g stroke="#8d8c88" stroke-width="1" fill="none" opacity="0.6"><path d="M78.56,957.65 q44.8,-14.83 117.54,-5" /><path d="M57.86,925.79 q63.5,-12.07 94.06,-5" /><path d="M169.48,953.22 q63.46,-13.81 118.34,-5" /><path d="M68.07,963.09 q64.72,-14.19 124.48,-5" /><path d="M130.57,928.84 q60.33,-14.73 98.08,-5" /><path d="M53.72,976.93 q48.91,-15.75 132.73,-5" /><path d="M135.7,980.27 q45.8,-16.41 106.68,-5" /><path d="M162.27,977.73 q33.9,-11.09 93.02,-5" /><path d="M165.86,951.17 q55.07,-12.41 110.43,-5" /><path d="M96.3,946.05 q53.4,-14.67 134.25,-5" /><path d="M131.84,980.74 q64.26,-17.93 120.28,-5" /><path d="M69.57,976.64 q68.59,-17.24 114.15,-5" /><path d="M135.66,937.67 q63.26,-14.59 97.1,-5" /><path d="M57.62,976.24 q69.59,-10.71 128.04,-5" /><path d="M99.26,934.05 q41.76,-16.15 132.37,-5" /><path d="M55.3,961.87 q31.8,-15.75 99.86,-5" /><path d="M155.71,983.84 q50.22,-17.99 98.58,-5" /><path d="M59.24,960.99 q31.26,-11.58 104.48,-5" /><path d="M123.26,934.37 q31.7,-16.94 98.83,-5" /><path d="M165.04,978.8 q45.11,-13.68 111.2,-5" /><path d="M127.27,960.74 q52.37,-14.96 136.44,-5" /><path d="M110.84,950.87 q58.81,-11.9 98.07,-5" /></g>
<ellipse cx="212.3" cy="1090" rx="163.1" ry="160.5" fill="url(#fdisc)" stroke="#5a3a2a" stroke-width="1.2"/>
<ellipse cx="212.3" cy="1090" rx="163.1" ry="160.5" fill="url(#fdiscL)" />
<clipPath id="fdc"><ellipse cx="212.3" cy="1090" rx="163.1" ry="160.5"/></clipPath>
<path d="M172,1108 L250,1108 L262,1252 L158,1252 Z" fill="url(#fout)" opacity="0.5" clip-path="url(#fdc)"/>
<path d="M268,962 C300,960 330,975 352,1000 C330,990 300,982 268,985 Z" fill="#e8c8b4" opacity="0.55"/>
<g fill="none" stroke="#e2c4be" stroke-width="1.7"><path d="M235.2,1132.55 L276.06,1212.74 A7.33,7.33 0 0 0 288.75,1205.41 L239.73,1129.93 A2.62,2.62 0 0 0 235.2,1132.55 Z"/><path d="M243.39,1127.32 L299,1198.08 A7.33,7.33 0 0 0 310.03,1188.44 L247.33,1123.87 A2.62,2.62 0 0 0 243.39,1127.32 Z"/><path d="M250.42,1120.59 L318.66,1179.26 A7.33,7.33 0 0 0 327.62,1167.67 L253.62,1116.45 A2.62,2.62 0 0 0 250.42,1120.59 Z"/><path d="M256.01,1112.64 L334.32,1157 A7.33,7.33 0 0 0 340.86,1143.88 L258.34,1107.96 A2.62,2.62 0 0 0 256.01,1112.64 Z"/><path d="M259.95,1103.76 L345.37,1132.12 A7.33,7.33 0 0 0 349.25,1117.99 L261.34,1098.71 A2.62,2.62 0 0 0 259.95,1103.76 Z"/><path d="M262.1,1094.28 L351.39,1105.57 A7.33,7.33 0 0 0 352.47,1090.96 L262.49,1089.06 A2.62,2.62 0 0 0 262.1,1094.28 Z"/><path d="M262.38,1084.56 L352.17,1078.36 A7.33,7.33 0 0 0 350.4,1063.82 L261.75,1079.36 A2.62,2.62 0 0 0 262.38,1084.56 Z"/><path d="M260.77,1074.97 L347.66,1051.52 A7.33,7.33 0 0 0 343.11,1037.59 L259.15,1070 A2.62,2.62 0 0 0 260.77,1074.97 Z"/><path d="M257.34,1065.88 L338.05,1026.05 A7.33,7.33 0 0 0 330.88,1013.27 L254.78,1061.31 A2.62,2.62 0 0 0 257.34,1065.88 Z"/><path d="M252.21,1057.62 L323.69,1002.93 A7.33,7.33 0 0 0 314.19,991.77 L248.82,1053.63 A2.62,2.62 0 0 0 252.21,1057.62 Z"/><path d="M245.58,1050.51 L305.12,983.02 A7.33,7.33 0 0 0 293.64,973.91 L241.48,1047.25 A2.62,2.62 0 0 0 245.58,1050.51 Z"/><path d="M237.7,1044.81 L283.06,967.08 A7.33,7.33 0 0 0 270.03,960.37 L233.05,1042.42 A2.62,2.62 0 0 0 237.7,1044.81 Z"/><path d="M228.87,1040.75 L258.32,955.71 A7.33,7.33 0 0 0 244.24,951.65 L223.84,1039.3 A2.62,2.62 0 0 0 228.87,1040.75 Z"/><path d="M219.41,1038.48 L231.86,949.34 A7.33,7.33 0 0 0 217.26,948.08 L214.2,1038.03 A2.62,2.62 0 0 0 219.41,1038.48 Z"/><path d="M209.7,1038.08 L204.66,948.22 A7.33,7.33 0 0 0 190.09,949.81 L204.5,1038.64 A2.62,2.62 0 0 0 209.7,1038.08 Z"/><path d="M200.09,1039.56 L177.76,952.38 A7.33,7.33 0 0 0 163.77,956.75 L195.1,1041.13 A2.62,2.62 0 0 0 200.09,1039.56 Z"/><path d="M190.95,1042.88 L152.17,961.67 A7.33,7.33 0 0 0 139.3,968.66 L186.36,1045.38 A2.62,2.62 0 0 0 190.95,1042.88 Z"/><path d="M182.63,1047.9 L128.86,975.73 A7.33,7.33 0 0 0 117.59,985.09 L178.6,1051.24 A2.62,2.62 0 0 0 182.63,1047.9 Z"/><path d="M175.44,1054.44 L108.72,994.04 A7.33,7.33 0 0 0 99.46,1005.4 L172.13,1058.5 A2.62,2.62 0 0 0 175.44,1054.44 Z"/><path d="M169.64,1062.25 L92.5,1015.89 A7.33,7.33 0 0 0 85.62,1028.83 L167.18,1066.87 A2.62,2.62 0 0 0 169.64,1062.25 Z"/></g>
<circle cx="211.8" cy="1090" r="45" fill="none" stroke="#8e3c20" stroke-width="2" opacity="0.5"/>
<path d="M178.24,1109.4 A37.8,37.8 0 1 1 245.36,1109.4 Z" fill="#d2ecf0" stroke="#5a3020" stroke-width="1.5"/>
<path d="M130,1053.2 L143.3,1035.8 L168.8,1051.1 L156.6,1071.6 Z" fill="none" stroke="#000" stroke-width="2.6"/>
<text x="181.1" y="998.3" font-size="28.01" fill="#fff"  stroke="#fff" stroke-width="0.35">Sweat rate</text>
<text x="167.8" y="1190.2" font-size="27.99" fill="#fff"  stroke="#fff" stroke-width="0.35">Visual</text>
<text x="107.5" y="1215.7" font-size="28.24" fill="#fff"  stroke="#fff" stroke-width="0.35">outflow channel</text>
<rect x="280.3" y="1237.2" width="91" height="8.2" fill="#fff" />
</g>
<clipPath id="fR"><rect x="378.8" y="917.8" width="220.2" height="333.79999999999995"/></clipPath>
<defs>
<pattern id="dotsO" patternUnits="userSpaceOnUse" width="11.2" height="11.2" patternTransform="rotate(-12)"><rect width="11.2" height="11.2" fill="#cc7a48"/><circle cx="5.6" cy="5.6" r="2.1" fill="#5a3038"/></pattern>
<pattern id="dotsW" patternUnits="userSpaceOnUse" width="11.2" height="11.2" patternTransform="rotate(-12)"><rect width="11.2" height="11.2" fill="#ece4d4"/><circle cx="5.6" cy="5.6" r="2.3" fill="#6a6272"/></pattern>
<filter id="blur4" x="-20%" y="-20%" width="140%" height="140%"><feGaussianBlur stdDeviation="5"/></filter>
<filter id="blur2" x="-20%" y="-20%" width="140%" height="140%"><feGaussianBlur stdDeviation="2"/></filter>
</defs>
<g clip-path="url(#fR)">
<rect x="378.8" y="917.8" width="220.2" height="333.8" fill="url(#dotsO)" />
<g filter="url(#blur4)" opacity="0.8">
<path d="M376,950 C392,995 412,1050 432,1090 C455,1118 515,1122 545,1095 C565,1065 560,1000 545,950 L528,905" fill="none" stroke="#3a3644" stroke-width="18"/>
<path d="M372,1240 C395,1190 425,1140 458,1100" fill="none" stroke="#3a3644" stroke-width="22"/>
<path d="M552,1100 C562,1150 572,1200 580,1255" fill="none" stroke="#4a4250" stroke-width="16" opacity="0.8"/>
<path d="M380,1255 L378,1200" fill="none" stroke="#3a3644" stroke-width="20"/>
</g>
<path d="M381,905 L492,905 C515,960 535,1010 534,1055 C532,1085 505,1095 478,1092 C450,1088 435,1070 420,1040 C405,1005 392,960 381,930 Z" fill="url(#dotsW)" filter="url(#blur2)"/>
<path d="M384,905 L488,905 C510,960 528,1010 527,1052 C524,1080 502,1088 480,1085 C455,1082 440,1065 426,1036 C412,1002 398,960 384,930 Z" fill="url(#dotsW)"/>
</g>
<g transform="translate(400.6,990.8) rotate(-19.5)"><rect x="0" y="0" width="122.6" height="34.3" fill="#fff"/></g>
<g transform="translate(423.1,1043) rotate(-19.6)"><rect x="0" y="0" width="118.4" height="35.3" fill="#fff"/></g>
<text transform="translate(417,1012) rotate(-19.6)" font-size="29" fill="#000" stroke="#000" stroke-width="0.35">240 μm</text>
<text transform="translate(433,1067) rotate(-19.6)" font-size="29" fill="#000" stroke="#000" stroke-width="0.35">Channel</text>
<line x1="407.15" y1="971.86" x2="483.05" y2="945.34" stroke="#000" stroke-width="3" />
<path d="M399.6,974.5 L411.63,975.59 L408.33,966.15 Z" fill="#000"/>
<path d="M490.6,942.7 L481.87,951.05 L478.57,941.61 Z" fill="#000"/>
<text x="6" y="943.5" font-size="50" fill="#000" stroke="#000" stroke-width="0.6">f</text>
</svg>
</body></html>
